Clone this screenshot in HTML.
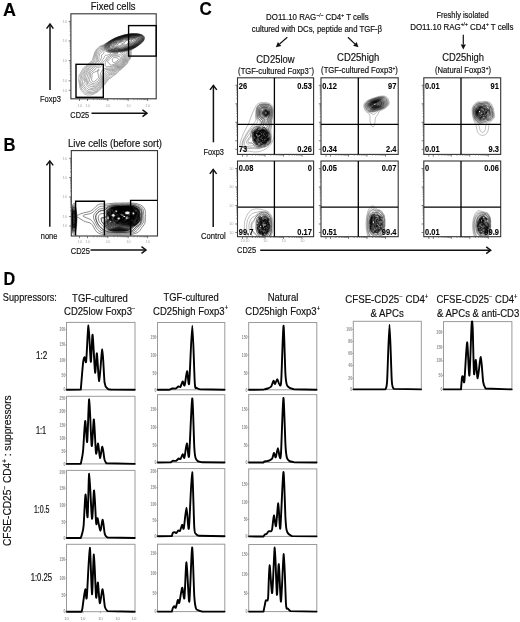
<!DOCTYPE html>
<html><head><meta charset="utf-8"><style>
html,body{margin:0;padding:0;background:#fff;}
svg{display:block;will-change:transform;}
text{font-family:"Liberation Sans",sans-serif;white-space:pre;}
</style></head><body>
<svg width="520" height="622" viewBox="0 0 520 622" font-family="Liberation Sans, sans-serif">
<rect width="520" height="622" fill="#fff"/>
<g transform="translate(3.00,15.60) scale(1.0000,1)" font-weight="bold" fill="#000" stroke="#000" stroke-width="0.12" ><text x="0.00" y="0" font-size="18.00">A</text></g>
<g transform="translate(3.40,150.50) scale(0.9231,1)" font-weight="bold" fill="#000" stroke="#000" stroke-width="0.12" ><text x="0.00" y="0" font-size="18.00">B</text></g>
<g transform="translate(199.60,15.40) scale(0.9462,1)" font-weight="bold" fill="#000" stroke="#000" stroke-width="0.12" ><text x="0.00" y="0" font-size="18.00">C</text></g>
<g transform="translate(3.40,284.60) scale(0.9000,1)" font-weight="bold" fill="#000" stroke="#000" stroke-width="0.12" ><text x="0.00" y="0" font-size="18.00">D</text></g>
<g transform="translate(90.80,10.30) scale(0.8603,1)" font-weight="normal" fill="#111" stroke="#111" stroke-width="0.18" ><text x="0.00" y="0" font-size="11.00">Fixed cells</text></g>
<line x1="50" y1="90" x2="50" y2="24.200000000000003" stroke="#111" stroke-width="1.5"/>
<polyline points="46.6,28.6 50,24.1 53.4,28.6" fill="none" stroke="#111" stroke-width="1.5" stroke-linejoin="miter"/>
<g transform="translate(40.00,101.80) scale(0.7954,1)" font-weight="normal" fill="#111" stroke="#111" stroke-width="0.18" ><text x="0.00" y="0" font-size="9.50">Foxp3</text></g>
<g transform="translate(70.30,117.60) scale(0.8036,1)" font-weight="normal" fill="#111" stroke="#111" stroke-width="0.18" ><text x="0.00" y="0" font-size="9.20">CD25</text></g>
<line x1="91.5" y1="113.2" x2="146.9" y2="113.2" stroke="#111" stroke-width="1.5"/>
<polyline points="142.5,109.8 147.0,113.2 142.5,116.60000000000001" fill="none" stroke="#111" stroke-width="1.5"/>
<g transform="translate(68.00,147.30) scale(0.8706,1)" font-weight="normal" fill="#111" stroke="#111" stroke-width="0.18" ><text x="0.00" y="0" font-size="11.00">Live cells (before sort)</text></g>
<line x1="49.8" y1="226.7" x2="49.8" y2="161.0" stroke="#111" stroke-width="1.5"/>
<polyline points="46.4,165.4 49.8,160.9 53.199999999999996,165.4" fill="none" stroke="#111" stroke-width="1.5" stroke-linejoin="miter"/>
<g transform="translate(40.80,238.60) scale(0.7856,1)" font-weight="normal" fill="#111" stroke="#111" stroke-width="0.18" ><text x="0.00" y="0" font-size="9.50">none</text></g>
<g transform="translate(70.80,253.60) scale(0.8163,1)" font-weight="normal" fill="#111" stroke="#111" stroke-width="0.18" ><text x="0.00" y="0" font-size="9.20">CD25</text></g>
<line x1="90.5" y1="250.0" x2="145.9" y2="250.0" stroke="#111" stroke-width="1.5"/>
<polyline points="141.5,246.6 146.0,250.0 141.5,253.4" fill="none" stroke="#111" stroke-width="1.5"/>
<g transform="translate(266.10,20.30) scale(0.9376,1)" font-weight="normal" fill="#111" stroke="#111" stroke-width="0.18" ><text x="0.00" y="0" font-size="8.40">DO11.10 RAG</text><text x="53.53" y="-3.19" font-size="5.21">−/−</text><text x="61.06" y="0" font-size="8.40"> CD4</text><text x="80.20" y="-3.19" font-size="5.21">+</text><text x="83.24" y="0" font-size="8.40"> T cells</text></g>
<g transform="translate(251.80,31.70) scale(0.9256,1)" font-weight="normal" fill="#111" stroke="#111" stroke-width="0.18" ><text x="0.00" y="0" font-size="8.40">cultured with DCs, peptide and TGF-β</text></g>
<line x1="287.3" y1="37.3" x2="279.57" y2="44.02" stroke="#111" stroke-width="1.2"/>
<polygon points="275.80,47.30 277.87,42.06 281.28,45.98" fill="#111"/>
<line x1="347.9" y1="37.3" x2="354.86" y2="43.87" stroke="#111" stroke-width="1.2"/>
<polygon points="358.50,47.30 353.08,45.76 356.65,41.98" fill="#111"/>
<g transform="translate(256.30,62.50) scale(0.8429,1)" font-weight="normal" fill="#111" stroke="#111" stroke-width="0.18" ><text x="0.00" y="0" font-size="11.20">CD25low</text></g>
<g transform="translate(238.10,73.70) scale(0.8860,1)" font-weight="normal" fill="#111" stroke="#111" stroke-width="0.18" ><text x="0.00" y="0" font-size="8.60">(TGF-cultured Foxp3</text><text x="79.80" y="-3.27" font-size="5.33">−</text><text x="82.92" y="0" font-size="8.60">)</text></g>
<g transform="translate(337.00,60.80) scale(0.8513,1)" font-weight="normal" fill="#111" stroke="#111" stroke-width="0.18" ><text x="0.00" y="0" font-size="11.20">CD25high</text></g>
<g transform="translate(321.10,73.40) scale(0.8953,1)" font-weight="normal" fill="#111" stroke="#111" stroke-width="0.18" ><text x="0.00" y="0" font-size="8.60">(TGF-cultured Foxp3</text><text x="79.80" y="-3.27" font-size="5.33">+</text><text x="82.92" y="0" font-size="8.60">)</text></g>
<g transform="translate(436.40,18.30) scale(0.8908,1)" font-weight="normal" fill="#111" stroke="#111" stroke-width="0.18" ><text x="0.00" y="0" font-size="8.40">Freshly isolated</text></g>
<g transform="translate(410.20,29.50) scale(0.9440,1)" font-weight="normal" fill="#111" stroke="#111" stroke-width="0.18" ><text x="0.00" y="0" font-size="8.40">DO11.10 RAG</text><text x="53.53" y="-3.19" font-size="5.21">+/+</text><text x="61.06" y="0" font-size="8.40"> CD4</text><text x="80.20" y="-3.19" font-size="5.21">+</text><text x="83.24" y="0" font-size="8.40"> T cells</text></g>
<line x1="463.3" y1="34.8" x2="463.30" y2="44.40" stroke="#111" stroke-width="1.2"/>
<polygon points="463.30,49.40 460.70,44.40 465.90,44.40" fill="#111"/>
<g transform="translate(442.20,60.90) scale(0.8392,1)" font-weight="normal" fill="#111" stroke="#111" stroke-width="0.18" ><text x="0.00" y="0" font-size="11.20">CD25high</text></g>
<g transform="translate(435.00,73.30) scale(0.8910,1)" font-weight="normal" fill="#111" stroke="#111" stroke-width="0.18" ><text x="0.00" y="0" font-size="8.60">(Natural Foxp3</text><text x="56.87" y="-3.27" font-size="5.33">+</text><text x="59.99" y="0" font-size="8.60">)</text></g>
<line x1="213.4" y1="142.3" x2="213.4" y2="85.5" stroke="#111" stroke-width="1.5"/>
<polyline points="210.0,89.9 213.4,85.4 216.8,89.9" fill="none" stroke="#111" stroke-width="1.5" stroke-linejoin="miter"/>
<g transform="translate(203.40,155.20) scale(0.8018,1)" font-weight="normal" fill="#111" stroke="#111" stroke-width="0.18" ><text x="0.00" y="0" font-size="9.20">Foxp3</text></g>
<line x1="213.2" y1="226.9" x2="213.2" y2="169.5" stroke="#111" stroke-width="1.5"/>
<polyline points="209.79999999999998,173.9 213.2,169.4 216.6,173.9" fill="none" stroke="#111" stroke-width="1.5" stroke-linejoin="miter"/>
<g transform="translate(201.10,238.50) scale(0.8295,1)" font-weight="normal" fill="#111" stroke="#111" stroke-width="0.18" ><text x="0.00" y="0" font-size="9.20">Control</text></g>
<g transform="translate(237.10,253.30) scale(0.7906,1)" font-weight="normal" fill="#111" stroke="#111" stroke-width="0.18" ><text x="0.00" y="0" font-size="9.40">CD25</text></g>
<line x1="260.2" y1="250.2" x2="490.59999999999997" y2="250.2" stroke="#111" stroke-width="1.5"/>
<polyline points="486.2,246.79999999999998 490.7,250.2 486.2,253.6" fill="none" stroke="#111" stroke-width="1.5"/>
<g transform="translate(2.80,301.20) scale(0.8199,1)" font-weight="normal" fill="#111" stroke="#111" stroke-width="0.18" ><text x="0.00" y="0" font-size="11.20">Suppressors:</text></g>
<g transform="translate(72.10,301.60) scale(0.8613,1)" font-weight="normal" fill="#111" stroke="#111" stroke-width="0.18" ><text x="0.00" y="0" font-size="11.00">TGF-cultured</text></g>
<g transform="translate(64.00,315.00) scale(0.8694,1)" font-weight="normal" fill="#111" stroke="#111" stroke-width="0.18" ><text x="0.00" y="0" font-size="11.00">CD25low Foxp3</text><text x="78.25" y="-4.18" font-size="6.82">−</text></g>
<g transform="translate(163.50,300.80) scale(0.8551,1)" font-weight="normal" fill="#111" stroke="#111" stroke-width="0.18" ><text x="0.00" y="0" font-size="11.00">TGF-cultured</text></g>
<g transform="translate(153.10,314.60) scale(0.8679,1)" font-weight="normal" fill="#111" stroke="#111" stroke-width="0.18" ><text x="0.00" y="0" font-size="11.00">CD25high Foxp3</text><text x="82.54" y="-4.18" font-size="6.82">+</text></g>
<g transform="translate(267.70,300.80) scale(0.8658,1)" font-weight="normal" fill="#111" stroke="#111" stroke-width="0.18" ><text x="0.00" y="0" font-size="11.00">Natural</text></g>
<g transform="translate(245.30,315.10) scale(0.8656,1)" font-weight="normal" fill="#111" stroke="#111" stroke-width="0.18" ><text x="0.00" y="0" font-size="11.00">CD25high Foxp3</text><text x="82.54" y="-4.18" font-size="6.82">+</text></g>
<g transform="translate(345.20,303.10) scale(0.8837,1)" font-weight="normal" fill="#111" stroke="#111" stroke-width="0.18" ><text x="0.00" y="0" font-size="11.00">CFSE-CD25</text><text x="61.12" y="-4.18" font-size="6.82">−</text><text x="65.11" y="0" font-size="11.00"> CD4</text><text x="90.17" y="-4.18" font-size="6.82">+</text></g>
<g transform="translate(370.50,317.30) scale(0.8785,1)" font-weight="normal" fill="#111" stroke="#111" stroke-width="0.18" ><text x="0.00" y="0" font-size="11.00">&amp; APCs</text></g>
<g transform="translate(436.50,303.10) scale(0.8593,1)" font-weight="normal" fill="#111" stroke="#111" stroke-width="0.18" ><text x="0.00" y="0" font-size="11.00">CFSE-CD25</text><text x="61.12" y="-4.18" font-size="6.82">−</text><text x="65.11" y="0" font-size="11.00"> CD4</text><text x="90.17" y="-4.18" font-size="6.82">+</text></g>
<g transform="translate(437.00,317.30) scale(0.8685,1)" font-weight="normal" fill="#111" stroke="#111" stroke-width="0.18" ><text x="0.00" y="0" font-size="11.00">&amp; APCs &amp; anti-CD3</text></g>
<g transform="translate(36.00,358.80) scale(0.8129,1)" font-weight="normal" fill="#111" stroke="#111" stroke-width="0.18" ><text x="0.00" y="0" font-size="10.00">1:2</text></g>
<g transform="translate(36.00,433.60) scale(0.7338,1)" font-weight="normal" fill="#111" stroke="#111" stroke-width="0.18" ><text x="0.00" y="0" font-size="10.00">1:1</text></g>
<g transform="translate(33.90,513.40) scale(0.7015,1)" font-weight="normal" fill="#111" stroke="#111" stroke-width="0.18" ><text x="0.00" y="0" font-size="10.00">1:0.5</text></g>
<g transform="translate(30.70,581.10) scale(0.7698,1)" font-weight="normal" fill="#111" stroke="#111" stroke-width="0.18" ><text x="0.00" y="0" font-size="10.00">1:0.25</text></g>
<g transform="translate(11.3,546) rotate(-90)"><g transform="translate(0.00,0.00) scale(0.9232,1)" font-weight="normal" fill="#111" stroke="#111" stroke-width="0.18" ><text x="0.00" y="0" font-size="11.00">CFSE-CD25</text><text x="61.12" y="-4.18" font-size="6.82">−</text><text x="65.11" y="0" font-size="11.00"> CD4</text><text x="90.17" y="-4.18" font-size="6.82">+</text><text x="94.15" y="0" font-size="11.00"> : suppressors</text></g></g>
<clipPath id="cA"><rect x="70.9" y="13.8" width="85.29999999999998" height="85.0"/></clipPath>
<path d="M91.4 94.9l-1 0.1-1.5-0.1-1.7 0.1-2-0.7-1.3-0.7-1-1.4-1.7-1.8-0.6-1.1-0.7-1.7-0.5-3.6-0.5-2.4-0.2-2 0.3-3.6 0.4-1.2 1.2-1.8 1.7-3.2 0.6-1 2.9-3 4.8-3.8 1.5-1.7 0.6-1.3 2-6.7 1-1.7 0.9-1.4 2-1.9 1-0.9 4-1.6 8.3-5.2 3-1.5 2.7-1.1 5.8-1.9 4.5-1 3.3-0.4 5.4-0.1 2 0.3 2.3 0.5 2 0.9 0.7 0.5 0.9 1.2 0.1 1.3-0.5 1.7-1.2 1.8-1.5 1.4-2.5 2-2.5 1.7-4 2.4-1.1 1-0.2 0.7 0.3 2 0 0.8-1 4.2-0.5 1.3-1.6 2-0.7 1.7-0.5 0.8-5.5 5.2-2.9 2-1.4 1.8-1.4 1.4-3 2-1.7 1.6-1.9 1-0.6 0.5-4 5.3-1.8 1.8-1.5 1.9-1.5 1.3-1.5 1.7-1 0.7-3.5 2-2.5 0.9z" fill="none" stroke="#000" stroke-width="0.5" stroke-opacity="0.60" clip-path="url(#cA)"/>
<path d="M92.4 93.6l-1.5 0.1-2.5-0.5-1.8 0.1-0.7-0.1-0.7-0.4-1.3-1.4-1.7-1.5-1.5-3.1-0.4-3-0.4-2 0-1.5 0.6-2-0.3-2.3 0.3-1 2.1-3.2 0.9-2 0.5-0.8 2.5-2.7 4.4-3.5 2.4-2.5 0.3-0.7 0.7-3 1-3.6 0.8-1.7 0.8-1.3 3.3-3 3.2-1.6 2.2-1.6 6-3.9 3.3-1.7 2.5-1 6-2 4.8-1 2.7-0.4 2.3-0.1 3.2 0.1 1.8 0.1 2.4 0.6 1.3 0.5 1.4 0.8 0.8 1.2 0.2 1.3-0.5 1.7-0.9 1.6-1.7 1.6-2.6 2-2.4 1.7-4.6 2.7-0.8 0.4-0.4 0.6-0.1 0.7 0.2 2.5-0.6 4-0.5 1-1.7 2-0.9 2-0.6 0.8-3 3.2-1.6 1.3-1.2 1-2.3 1.2-2.2 2.7-0.7 0.8-3 1.6-1.7 1.6-1.6 0.9-0.7 0.6-1.6 2.3-5.2 6.5-2.1 1.7-1.4 1.8-0.7 0.5-2.1 1-1.5 0.8-1.2 0.5z" fill="none" stroke="#000" stroke-width="0.5" stroke-opacity="0.61" clip-path="url(#cA)"/>
<path d="M91.6 92.6l-1.7-0.1-3-0.5-0.7-0.3-0.8-0.7-1.8-2.2-1.8-2-0.4-1-0.2-2.2-0.3-2 0.1-0.8 0.6-1.4 0.2-0.6-0.3-2.8 0.3-1 2.2-3.4 0.9-1.8 2.1-2.8 0.8-0.7 5.8-4.7 1.1-1.3 0.3-0.7 0.1-2.3 0.6-2.7 1.1-2.8 0.8-1.2 1.6-1.3 1.7-1.9 2.5-1.5 2-1.6 3.2-2.3 3.3-2.1 3.3-1.7 3.2-1.3 5.8-1.8 3.7-0.7 4-0.5 4.7 0 2 0.3 2.6 0.6 1.8 1 0.4 0.5 0.4 0.7 0.2 1.3-0.4 1.7-1 1.6-1.5 1.4-4.2 3.2-6.3 3.6-1.1 1-0.2 0.8 0.3 1.7-0.1 2.7-0.1 1-0.2 0.8-0.5 0.8-1.3 1.5-1.6 2.7-2.3 2.8-1.2 1.2-1.4 1.1-3.3 1.7-1.7 2.1-1.4 1.3-4 2-2.1 1.8-1.2 1.4-1.2 1.8-4.8 6.5-0.8 0.7-1.5 1.2-1.5 1.7-0.8 0.5-3.4 1.7-1.6 0.3z" fill="none" stroke="#000" stroke-width="0.5" stroke-opacity="0.62" clip-path="url(#cA)"/>
<path d="M90.9 91.1l-1 0.2-0.7 0-1.3-0.3-1-0.4-0.7-0.7-1.2-1.9-1.8-1.4-0.5-0.8-0.3-1 0-2 0.1-1 0.5-1.8-0.2-3.2 0.1-0.8 1.4-3 1.6-2.7 2-2.8 1-0.9 5-4 2.2-2.3 0.4-1-0.2-2.3 0.3-2 0.3-1 1.3-2.3 1.7-1.7 1.5-2 2.2-1.7 2.3-2.1 2.9-2.2 2.8-1.8 3.3-1.7 2.5-1.1 6-2 4.8-1 3.2-0.4 5.2 0.1 1.6 0.1 2 0.5 1.4 0.6 1.3 0.7 0.3 0.6 0.4 1 0.1 1.4-0.6 1.6-1.2 1.4-2.7 2.4-2.8 2-6.3 3.4-1.7 1.2-0.2 0.6 0.4 2.2 0.2 2.5-0.2 1-0.4 0.7-1.2 1.6-1.6 2.4-1.4 2-1.3 1.6-1.3 1.1-1 0.7-3 1.4-1.5 1.8-1 0.9-2.6 1.5-3 1.6-1 0.7-2.1 2.5-5 7.4-1 1.1-1.8 1.3-1.7 1.7-1.1 0.6-2.2 0.8-2.5 0.4z" fill="none" stroke="#000" stroke-width="0.5" stroke-opacity="0.63" clip-path="url(#cA)"/>
<path d="M90.4 89.6l-1.2 0.1-1-0.3-1.8-1.8-1.8-1.6-0.6-0.7-0.2-0.7 0.1-1 0.6-2-0.4-3.6 0-1.2 0.2-0.8 1-2.4 1.7-3 1.8-2.6 2.7-2.4 2.7-2 2.5-2.3 0.6-0.7 0.4-1-0.2-1.8 0-1 0.6-2.2 0.4-1.3 0.7-0.9 1.4-1.4 1.4-2.4 1.9-1.9 1.4-1.7 3.9-3 2.7-1.8 2.5-1.3 3.8-1.7 5.7-1.8 4-0.8 3.5-0.5 5.2 0.1 3 0.5 1.8 0.7 1.1 0.6 0.4 0.6 0.4 1 0.1 1.4-0.2 0.8-0.5 1-1.3 1.5-2.5 2.1-3.3 2.3-7.4 3.9-1 0.7-0.2 0.5 0.6 1.5 0.2 1.5 0.1 1.5-0.2 0.7-2.4 4-2 2.8-1.1 1.4-2 1.6-3.3 1.4-1.3 1.6-0.7 0.7-2.5 1.2-1.8 1.1-2.2 1-0.8 0.5-2.9 3.5-1.8 3.2-2.1 3.3-0.6 0.6-1.6 1.1-2.2 2.1-0.8 0.5-1 0.4-4.2 0.6z" fill="none" stroke="#000" stroke-width="0.5" stroke-opacity="0.64" clip-path="url(#cA)"/>
<path d="M92.2 88.3l-1.3 0.1-1.2-0.4-2.9-2.2-0.7-0.8-0.1-0.7 0.2-1.3 0-0.7-0.7-2-0.3-1.3 0.1-1.4 0.4-1.6 0.7-2 1.2-2.3 0.8-1.4 1-1.3 2.7-2.7 2.7-2 2.6-2.3 0.9-1 0.7-1.7 0-2.5 0.6-2.8 0.8-1 1.2-0.7 0.5-0.5 0.4-2 0.2-0.8 3-4 3.5-2.8 2.7-1.8 2.7-1.5 3.8-1.7 2.5-0.6 3.3-1.1 4-0.8 3.4-0.5 5 0.1 2 0.3 1 0.3 1.8 0.7 1 0.7 0.3 0.5 0.4 1 0 1.5-0.6 1.5-1.3 1.5-2.8 2.3-3 2.1-2.8 1.4-5.6 2.7-1 0.8-0.1 0.4 0.5 1.6 0.3 1.2 0 1-0.1 1-1.8 3.8-1.7 2.4-1.3 1.6-1.2 1-0.9 0.7-3.3 1.4-1.3 1.6-0.7 0.6-3 1-1.8 1-2 0.6-0.5 0.3-0.5 0.5-1.1 1.7-1.6 1.8-0.7 1.2-0.9 2.3-2.1 3.3-2 1.4-1.4 1.6-0.9 0.6-1 0.5-2.7 0.6z" fill="none" stroke="#000" stroke-width="0.5" stroke-opacity="0.65" clip-path="url(#cA)"/>
<path d="M92.9 86.6l-1 0.1-0.7-0.2-2.6-1-0.5-0.5-0.5-0.6-0.3-2.1-0.8-2-0.1-1 0.2-1 0.7-1.7 0.5-2.3 0.9-2 1.8-2.7 2.9-3 4.4-2.8 2.7-3.8 0.5-1 0.5-1.4 0.1-2.6 1.6-1.2 0.7-1.2 0.1-0.8-0.4-2 0.2-1 1.5-2.8 1-1.2 3.1-2.6 2.8-1.8 2.2-1.2 4-1.8 2.2-0.6 3.3-1.1 4.7-1 3-0.3 1.6-0.1 3.7 0.2 1.7 0.3 2 0.7 1.4 0.8 0.6 0.7 0.2 0.8 0 1.5-0.6 1.5-1.6 1.7-3 2.5-2.7 1.8-3.7 1.9-4.9 2.1-2.1 1.2 0 0.6 0.7 1 0.4 1 0.1 1.4-0.1 1.3-0.5 1.5-0.7 1.5-1.1 1.7-1.1 1.3-2.4 2.3-0.9 0.4-2 0.7-0.6 0.3-1.6 1.7-0.8 0.6-4.7 1.4-2.3 0.4-0.7 0.3-0.3 0.4-0.8 2-1.4 1.4-0.5 0.8-1.3 3.6-2 3.2-2 1.5-2 1.8-1 0.4-1.7 0.1z" fill="none" stroke="#000" stroke-width="0.5" stroke-opacity="0.66" clip-path="url(#cA)"/>
<path d="M94.6 85.1l-2-0.1-3-1-0.4-0.2-0.6-0.7-0.7-2.1-0.1-1 0.1-0.7 1.1-2.5 0.4-3.2 0.4-1 0.6-0.8 4.2-4.7 1.8-0.9 1-0.3 1.3-0.1 0.8-0.5 0.7-2 1.6-2 1.1-2 1.1-1.3 0.5-1.7 0.4-0.6 0.5-0.4 1.8-0.1 1.2-0.5 1.5-0.4 0.5-0.3 0.5-0.4 0.1-0.3-0.3-0.3-3.5-1-1.3-0.6-0.7-0.5-0.6-0.6-0.2-1 0.2-1 1.1-2.3 0.9-1.2 2.8-2.4 3-2 2.2-1.2 4-1.8 2.3-0.5 3.3-1.2 4.2-0.8 4.8-0.4 3.7 0.2 1.7 0.2 2 0.8 1.3 0.8 0.5 0.8 0.2 1 0 0.7-0.3 1-0.4 0.8-0.8 1-2.5 2.2-4.2 2.9-5.2 2.5-5.6 2.2-1.2 0.7 0 0.5 1.1 1 0.5 0.8 0.3 1 0.1 1.2-0.3 1.2-0.8 2-0.7 1.3-0.9 1-2.9 2.7-3.2 1.4-2.2 1.8-0.8 0.4-1.3 0.4-2.7 0.5-3 0-1.1 0.5-0.5 0.8-0.7 1.8-1.5 2.4-0.9 3.8-1.8 3-0.7 0.8-1.5 1-1.3 1.1-1 0.4z" fill="none" stroke="#000" stroke-width="0.5" stroke-opacity="0.67" clip-path="url(#cA)"/>
<path d="M93.6 83.6l-1.2-0.2-1.4-0.8-1.1-0.8-0.5-1 0.1-1.2 0.9-2.6 0.1-3 0.2-0.7 0.5-0.6 1-1 2.3-1.7 1.3-1.7 0.6-0.5 1-0.5 2.8-0.2 0.7-0.4 0.4-0.7 0.1-1.4 0.3-0.8 2.2-2.7 2-1.5 0.3-0.6 0.3-1.2 0.7-0.7 5.2-3 2.2-0.3 2.3 0.1 0.5-0.2 0.6-0.4 0.1-0.3-0.5-0.1-0.7 0-2.3 0.2-4.7-0.9-2.7-1-1.3-0.6-0.5-0.6-0.2-0.4-0.1-1 0.8-2.3 1.1-1.5 2.4-2.2 3-2 2-1.1 4-1.9 2.5-0.6 3-1.1 4.5-0.8 3.5-0.4 1.3-0.1 3.7 0.2 1.7 0.3 1.6 0.6 1.3 0.9 0.5 0.7 0.3 1 0 1-0.4 1-1.3 1.7-3 2.5-3 2.1-2 1-4.4 2-6.3 2.2-1.3 0.8-0.1 0.2 0 0.2 1.8 1.3 0.6 0.7 0.3 0.8 0.1 0.8-0.2 1.2-0.8 2.2-0.6 1-1.1 1.2-2.4 2.1-2 0.9-4.3 2.4-1.5 0.4-5.2 0.4-1 0.2-0.8 0.5-1.4 1.7-1.3 2.2-0.5 2-0.2 2.8-1.8 3-0.6 0.6-1.4 0.8-1.3 1-1.3 0.4z" fill="none" stroke="#000" stroke-width="0.5" stroke-opacity="0.68" clip-path="url(#cA)"/>
<path d="M116.4 52.3l-2.5 0.1-4-0.7-3-1.1-0.7-0.6-0.4-0.7-0.2-0.7 0.2-1 0.4-1.3 0.7-1 2.3-2.3 3.7-2.5 2-1.2 3.3-1.4 1.2-0.4 1.8-0.4 2.2-0.9 4.2-0.8 4-0.6 1.3 0 3.5 0.2 2.2 0.3 1 0.4 1.1 0.6 0.9 0.9 0.4 1.1 0 1-0.4 1-0.6 1-1 1-2.4 2-3 2.1-5.2 2.5-4.2 1.6-5 1.5-3.8 0.3z M107.4 66.8l-1 0-0.9-0.5-0.4-1 0-1.3 0.2-1.4 0.3-0.8 1.3-1.8 0.9-1.4 0.6-0.7 1.5-0.9 1.7-1.4 1.3-0.5 1.7-0.1 2.6 0.1 2.4-0.3 1.1 0.2 0.9 0.8 0.3 0.5 0.1 0.7-0.5 2-1.1 2-1.2 1.3-4.4 2.7-2.2 1-1.7 0.5-2 0.1-1.5 0.2z M94.2 81.6l-0.8 0.2-0.8-0.3-0.6-0.7-0.3-0.8-0.1-1.2 0.4-1.8 0-2.2 0.3-1 0.5-0.8 0.7-0.4 3.9-1.7 0.2-0.1 0.1-0.8 0.3-0.4 0.4-0.3 0.5 0.1 0.3 0.2 0.1 0.2-0.1 0.4-0.4 0.4-1 0.4-0.1 0.3 0.8 5.3-0.1 1-0.5 0.9-0.7 0.8-3 2.3z" fill="none" stroke="#000" stroke-width="0.5" stroke-opacity="0.69" clip-path="url(#cA)"/>
<path d="M118.2 51.8l-2.3 0.2-2.5-0.1-3.2-0.5-2.6-0.9-0.9-0.7-0.5-1 0-1.2 0.4-1.3 0.8-1.3 1.7-1.7 3.8-2.7 2.3-1.2 3.2-1.4 2.7-0.7 2.8-1 4.5-0.9 3.5-0.4 1.3-0.1 3.4 0.3 2 0.3 1.7 0.8 1 1 0.4 1 0 1-0.4 1-0.6 1-1 1-2.3 2-3 2.1-5 2.3-4 1.5-4.8 1.3-2.4 0.3z M111.9 65.1l-1 0-0.7-0.3-1.5-1.8-1-1-0.1-0.4 0.2-0.6 0.8-1.3 1.8-1.4 1.7-1.5 1.3-0.6 1.8-0.2 3 0.3 1 0.2 0.7 0.3 0.4 0.8 0 1-0.7 1.7-0.7 1-4.3 2.7-2.7 1.1z" fill="none" stroke="#000" stroke-width="0.5" stroke-opacity="0.70" clip-path="url(#cA)"/>
<path d="M117.6 51.6l-1.7 0.1-2.7-0.1-3.3-0.6-2.2-1-0.8-0.7-0.3-1 0.2-1.3 0.5-1.2 0.7-1 1.4-1.5 1.8-1.1 1.4-1.2 1.8-1 4-1.9 2.6-0.5 2.9-1.2 4.5-0.8 3.5-0.5 1.3 0 3.4 0.3 2 0.3 1.5 0.9 0.9 1 0.3 0.7 0 1-0.3 1-0.6 1-1 1-2.2 1.9-3 2.1-5 2.3-4 1.5-4.6 1.1-3 0.4z M114.6 62.6l-0.4 0.1-0.7-0.1-0.4-0.3-0.3-0.5-0.6-1.8 0.1-0.7 0.4-0.7 0.9-0.8 1.3-0.3 2.2 0.3 0.8 0.3 0.4 0.5 0.1 0.4-0.1 0.8-0.3 0.5-2.6 1.9-0.8 0.4z" fill="none" stroke="#000" stroke-width="0.5" stroke-opacity="0.71" clip-path="url(#cA)"/>
<path d="M117.6 51.3l-4.4 0-3.3-0.6-1.8-0.9-0.8-0.8-0.1-1 0.2-1.4 0.6-1.3 1.5-1.7 1.7-1.1 1.4-1.3 2-1.2 4-1.8 2.3-0.4 3.3-1.3 3.2-0.6 5.5-0.6 3.5 0.3 2 0.3 1.3 0.7 0.9 1 0.3 0.7 0.1 1-0.3 1-0.6 1-2.9 2.7-3 2.1-5 2.3-4 1.5-4.3 1-3.3 0.4z" fill="none" stroke="#000" stroke-width="0.5" stroke-opacity="0.72" clip-path="url(#cA)"/>
<path d="M117.4 51.1l-4 0-3-0.6-0.8-0.3-1.2-0.6-0.5-0.6-0.2-0.4 0-1 0.3-1.6 1.1-1.7 0.8-0.7 1.5-1 1.2-1.1 1.8-1.1 4.2-1.9 2.3-0.5 3.3-1.3 3-0.5 4.7-0.7 1 0 3.3 0.3 2 0.3 1 0.5 0.9 1 0.4 1 0.1 0.7-0.1 0.7-0.6 1-0.7 0.9-2 1.8-3.3 2.3-4.7 2.2-4 1.5-4.3 1-3.5 0.4z" fill="none" stroke="#000" stroke-width="0.5" stroke-opacity="0.72" clip-path="url(#cA)"/>
<path d="M119.9 50.6l-2.7 0.2-3.8 0-3.5-0.8-1.1-0.7-0.6-0.7 0-1 0.3-1.8 0.6-1 0.6-0.8 1.7-1 1.5-1.5 2-1.2 3.7-1.6 2.3-0.5 3.3-1.3 3-0.6 5.4-0.6 3.6 0.3 1.7 0.3 1 0.4 0.6 0.6 0.6 1.3 0.1 0.7-0.1 0.7-0.4 0.8-1 1.2-1.8 1.7-1.5 1.1-2.5 1.5-6 2.6-4.5 1.2-2.5 0.5z" fill="none" stroke="#000" stroke-width="0.5" stroke-opacity="0.73" clip-path="url(#cA)"/>
<path d="M119.9 50.3l-6.3 0.2-3.2-0.7-1-0.6-0.6-0.6-0.2-1 0.2-1.6 0.5-1 0.6-0.7 1.5-1 1.5-1.5 2-1.2 3.7-1.7 2.6-0.6 3-1.1 3-0.6 5.4-0.7 3.6 0.4 1.4 0.3 1 0.4 0.5 0.6 0.6 1.7 0 0.7-0.4 0.8-0.5 0.8-1.6 1.5-2 1.6-2.6 1.5-6 2.6-4 1.1-2.7 0.4z" fill="none" stroke="#000" stroke-width="0.5" stroke-opacity="0.74" clip-path="url(#cA)"/>
<path d="M119.9 50.1l-6.3 0.1-3-0.8-0.9-0.6-0.5-0.7-0.2-1.1 0.1-1 1.1-1.5 1.4-1 1.5-1.5 2.1-1.3 3.2-1.5 2.8-0.6 3.2-1.3 2.8-0.5 3.2-0.5 2-0.1 4.8 0.6 0.8 0.2 0.6 0.6 0.6 1.7 0 0.7-0.3 0.8-0.5 0.8-1.2 1.2-2 1.6-2.6 1.6-6.2 2.6-3.8 1-2.7 0.5z" fill="none" stroke="#000" stroke-width="0.5" stroke-opacity="0.75" clip-path="url(#cA)"/>
<path d="M115.4 49.8l-1.8 0-2.7-0.8-0.7-0.4-0.4-0.6-0.4-0.7 0-0.7 0.3-0.8 0.8-1 1.4-1.1 1.3-1.3 4.4-2.6 1.6-0.5 2-0.4 3.4-1.4 2.3-0.4 3.7-0.6 2 0 3.8 0.5 1.2 0.4 0.7 0.6 0.4 1.8-0.1 0.8-0.4 0.7-2 2-3.3 2.2-3 1.5-2.3 0.8-1.2 0.6-3.2 0.8-3 0.6-4.8 0z" fill="none" stroke="#000" stroke-width="0.5" stroke-opacity="0.76" clip-path="url(#cA)"/>
<path d="M120.9 49.4l-1.3 0.1-3.4-0.2-2.6 0.2-2.7-1-0.7-0.9-0.3-1 0.2-0.6 0.8-1 1.5-1.2 1-1.1 3-1.7 1.2-0.9 1.3-0.5 2.3-0.4 3.4-1.4 5.6-1 2 0 3.4 0.4 1.6 0.5 0.5 0.3 0.3 0.8 0.2 0.8 0 0.7-0.2 0.5-1.4 1.7-1.9 1.5-2.1 1.4-2.7 1.3-2.3 0.8-1.2 0.6-5.5 1.3z" fill="none" stroke="#000" stroke-width="0.5" stroke-opacity="0.77" clip-path="url(#cA)"/>
<path d="M120.6 49.1l-1 0.1-3.4-0.3-1.8 0.2-0.8 0-2.3-1.1-0.4-0.7 0-0.7 0.7-1.6 1.3-1 0.7-1 2.8-1.5 1.4-1.2 0.8-0.4 2.8-0.4 3.2-1.4 5.6-1 2.2 0 3 0.5 1.5 0.5 0.5 0.6 0.2 0.6 0.1 0.7-0.2 0.8-0.5 0.8-1.4 1.4-2.6 1.8-3.4 1.6-2.2 0.8-1.2 0.7-5.6 1.2z" fill="none" stroke="#000" stroke-width="0.5" stroke-opacity="0.78" clip-path="url(#cA)"/>
<path d="M120.2 48.8l-0.8 0.1-2.8-0.4-2.2 0.2-0.8-0.1-1.5-1.3-0.2-1 0.2-0.7 0.3-0.5 1.1-0.8 0.7-1.1 2.4-1.3 1.4-1.3 0.6-0.3 2.8-0.4 3.5-1.4 5-1.1 2.7 0.1 1.6 0.1 1 0.3 1.2 0.7 0.5 0.5 0.2 0.5 0 0.7-0.8 1.5-1.7 1.5-2 1.3-3.4 1.7-1.8 0.5-1.5 0.8-4 0.6-1.7 0.6z" fill="none" stroke="#000" stroke-width="0.5" stroke-opacity="0.79" clip-path="url(#cA)"/>
<path d="M120.2 48.4l-1 0-2-0.4-2.3 0.2-0.7 0-0.6-0.3-0.7-0.9-0.2-0.7 0.1-0.5 1.3-1.2 0.5-1.1 2.3-1.3 1.3-1.3 0.4-0.2 1.3 0 1.8-0.4 3.2-1.4 5-1.1 3 0.1 1.3 0.1 0.8 0.3 0.9 0.6 0.5 0.7 0.1 0.4 0 0.6-0.7 1.2-1.6 1.3-2.3 1.4-1.7 0.6-1.7 0.9-1.3 0.5-1.3 0.6-1.5 0.3-2.5 0.3-1.7 0.7z" fill="none" stroke="#000" stroke-width="0.5" stroke-opacity="0.80" clip-path="url(#cA)"/>
<path d="M119.9 47.8l-0.7 0.1-1.8-0.6-2 0.4-0.8 0-0.4-0.3-0.6-0.5-0.1-0.3 0-0.6 1.1-1.2 0.7-1 1.9-1.2 1-1 0.4-0.2 1 0 1.6-0.5 2-0.3 1.1-0.8 0.6-0.3 1.5-0.2 3.2-1 1-0.1 2.3 0.1 1.3 0.3 0.9 0.4 0.7 0.8 0.1 0.5-0.1 0.5-0.7 1-0.9 0.7-1.6 0.8-1.2 0.9-2.2 0.4-1.2 1-2.1 0.8-1.5 0.3-1.2 0-1.6 0.3-1.7 0.8z" fill="none" stroke="#000" stroke-width="0.5" stroke-opacity="0.81" clip-path="url(#cA)"/>
<path d="M119.6 46.9l-0.7 0.1-1.7-0.5-2 0.3-0.5-0.2-0.1-0.6 1.2-1.7 1.6-1 1-1.1 1.2-0.2 1.3-0.4 1-0.2 0.5 0.1 1 0.5 0.5-0.3 0.7-1.1 0.4-0.3 4.4-1.4 1.2-0.2 2.6 0.3 1 0.4 0.7 0.6 0 0.8-0.4 0.8-3.3 2.1-0.8 0.1-1.8 0-0.4 0.3-1.3 1-1.3 0.6-1 0.2-1.2-0.3-1 0.3-1.2 0.1-1.6 0.9z" fill="none" stroke="#000" stroke-width="0.5" stroke-opacity="0.82" clip-path="url(#cA)"/>
<path d="M125.6 44.8l-0.7 0.2-0.5-0.1-0.8-0.6-0.1-0.3 0.4-0.4 0.7-1.4 1.6-1.5 3-1.1 1.2-0.2 2.2 0.3 0.6 0.1 0.4 0.5 0.1 0.5-0.3 0.5-2 1.5-1 0.3-2.2 0-1.6 1.2-1 0.5z M119.4 45.9l-0.5 0-0.4-0.1-0.8-0.8-0.1-0.2 0.6-1.2 0.4-0.7 1.6-0.3 0.7 0.1 1.3 0.5 0.8 0.8 0 0.3-0.6 0.4-1.5 0.3-1.5 0.9z M117.2 45.1l-0.6 0.2 0-0.3 0.3-0.1 0.3 0.2z" fill="none" stroke="#000" stroke-width="0.5" stroke-opacity="0.83" clip-path="url(#cA)"/>
<path d="M130.6 42.1l-1 0-0.2-0.3 1-1 0.5-0.2 0.7-0.1 0.5 0.3-0.1 0.5-0.4 0.3-1 0.5z" fill="none" stroke="#000" stroke-width="0.5" stroke-opacity="0.84" clip-path="url(#cA)"/>
<clipPath id="cB"><rect x="71.3" y="150.6" width="86.2" height="85.20000000000002"/></clipPath>
<path d="M71.3 214.8l0.4-4.4 0.5-3.3 0.7-2.5 0.4-0.8 0.5-0.4 0.5 0 0.3 0.2 0.4 0.9 0.4 1.1 0.7 3.2 0.7 5.2 0.5 1.6 0.3 0.2 1.3-1.2 2.1-0.9 3-0.9 5.3-1.2 1.9-0.8 1.8-1.2 2.8-3 1.2-1.1 1.3-0.8 1.5-0.6 1.8-0.2 4.2 0.3 1.8-0.3 7-0.8 6.2 0 2-0.2 1.8 0.1 4.4-0.1 6.3 0.5 2 0.4 3.3 1.1 2.2 1.5 1.8 2.2 0.7 2.5 0 2 0.2 1.7-0.1 1.8-0.1 3-0.2 2.8-0.2 0.7-0.9 1.7-2 2.6-2.2 3.2-1.5 1.5-2.3 1.2-3 0.9-3.4 0.6-6.6 0.4-10.7-0.1-8.5-0.6-2-0.3-1.8-0.4-2.2-1.1-1.6-1.3-1.2-1.8-2.4-4.4-0.8-0.9-0.7-0.7-1.5-0.8-3.8-1-1.8-0.7-5.2-3.2-1.2-1-0.3 0.2-0.3 1.2-0.5 8.3-0.8 4.8-0.5 1.7-0.4 0.9-0.5 0.6-0.5 0-0.5-0.4-0.4-0.8-0.7-2.6-0.6-3.4-0.3-4.6" fill="none" stroke="#000" stroke-width="0.6" stroke-opacity="0.75" clip-path="url(#cB)"/>
<path d="M122.8 234.1l-8.5 0-5-0.3-5.5-0.8-1.8-0.4-1.4-0.6-1.8-1.1-1.5-1.5-1.2-1.8-2.5-4.7-1-1.4-1-1-1.3-1-1.3-0.6-5-2.1-0.7-0.4-0.1-0.6 0.6-0.6 1.2-0.5 5-1 2-0.8 1.8-1.3 3.5-3.5 1-0.7 1.3-0.7 1.4-0.4 3.3-0.2 2.3-0.4 5.2-1.3 4-0.4 3 0.1 3.8-0.3 2 0.1 4.2-0.1 4.8 0.4 3 0.5 2.2 0.9 2.8 1.5 0.5 0.5 0.6 0.8 0.8 2.2 0.1 3.5 0.3 1.3-0.1 1.7 0.1 2.3-0.2 2-0.1 0.6-2 3.1-2.4 2.7-2.2 2.8-1 0.8-1.2 0.8-2 0.7-2.8 0.7-3.2 0.3-4 0.2z M74.3 233.1l-0.5 0.1-0.5-0.5-0.5-1.2-0.4-1.7-0.7-5-0.2-5.7 0.1-5.3 0.6-4.7 0.4-2 0.4-1.3 0.6-0.8 0.4-0.2 0.6 0.3 0.2 0.5 0.8 2.5 0.6 3.5 0.5 5.2-0.3 6.6-0.5 4.7-0.7 3.5-0.4 0.9-0.5 0.6z" fill="none" stroke="#000" stroke-width="0.6" stroke-opacity="0.75" clip-path="url(#cB)"/>
<path d="M125 233.1l-9 0.1-5.7-0.3-2.7-0.4-2.3-0.5-2-0.7-1.7-0.8-1.6-1.1-1.6-1.8-1.5-2.2-1.4-2.8-1.5-3.2-0.5-2 0-1.6 0.5-1.2 1.1-1.5 1.7-2 1.2-1.1 1.3-0.8 2.3-0.7 3.7-0.7 3-1.5 2.3-0.8 1.7-0.3 3-0.4 2 0 1.7 0.1 3.6-0.3 2 0.1 1.4-0.1 3 0 4.6 0.4 1 0.2 3.4 1.1 1.3 0.9 1.3 0.6 0.8 0.8 0.4 0.8 0.7 3.7-0.1 6-0.6 3-0.8 1.7-1.4 1.9-2.5 1.9-2.1 2.5-1.4 1.1-1.6 0.7-2 0.6-2.4 0.4-2.6 0.2z M74 231.9l-0.4-0.3-0.5-0.8-0.7-2.7-0.5-4-0.2-5.5 0.2-4.8 0.5-4.2 0.4-1.6 0.4-1.2 0.4-0.4 0.4-0.3 0.4 0.3 0.4 0.5 0.7 2.5 0.7 4.7 0.1 3.5-0.1 5.5-0.5 4.5-0.7 3-0.4 0.9-0.6 0.4z" fill="none" stroke="#000" stroke-width="0.6" stroke-opacity="0.76" clip-path="url(#cB)"/>
<path d="M126 232.4l-3.2 0.1-5.2 0.1-6.3-0.3-2.3-0.3-2.2-0.6-2-0.7-1.5-0.8-2-1.5-2-2.2-1.4-1.8-1.1-2.3-0.9-2.5-0.4-2 0.1-1.8 0.8-1.7 1.4-1.8 1.8-1.3 1.4-0.5 3.3-0.5 0.5-0.3 1-0.9 2.8-1.9 2-0.7 4-0.8 2.7-0.1 1.7 0.1 3.6-0.3 2 0.2 5.4-0.1 3.8 0.3 4.2 1.6 2 1.3 0.8 0.7 0.3 0.7 0.1 1.3 0.4 1.5 0.1 3.2-0.4 4.8-0.2 0.8-0.6 1.7-1.7 2.1-2.8 1.9-2.2 2.5-1.2 1-1.3 0.6-1.5 0.5-3.8 0.7z M74.3 230.7l-0.5 0.1-0.4-0.4-0.4-0.8-0.3-1.5-0.6-3.7-0.2-4.8 0.1-4.2 0.5-4.6 0.7-2.7 0.4-0.7 0.4-0.3 0.6 0.5 0.2 0.4 0.6 2.1 0.5 3.7 0.2 3.8-0.1 5-0.3 3.8-0.7 2.9-0.3 0.8-0.4 0.6z" fill="none" stroke="#000" stroke-width="0.6" stroke-opacity="0.76" clip-path="url(#cB)"/>
<path d="M123.8 232.4l-8.2 0-5-0.4-2-0.3-2-0.6-1.8-0.7-1.3-0.8-2.1-1.8-2.1-2.2-1.4-2-1-2-0.8-2.5-0.2-2 0.3-1.7 0.8-1.6 1-1.2 1.3-1 1.7-0.7 3.3-0.5 0.7-0.4 1.1-1.2 2.5-1.7 2-0.7 4.2-1 4.2 0.1 3.3-0.2 2.5 0.1 4.8-0.1 3.4 0.2 1 0.2 3.6 1.3 2.2 1.4 0.7 0.7 0.3 0.5 0.6 3.5 0.1 2.7-0.4 4.8-0.1 0.8-0.9 2-1.5 1.7-1.6 1-1.3 1-2.3 2.5-1.4 1-1.4 0.7-1.8 0.5-2.2 0.4-2.8 0.2z M74 230.6l-0.4-0.2-0.3-0.5-0.5-1.3-0.3-1.5-0.4-3.5-0.2-4.8 0.2-4.4 0.5-3.8 0.7-2.5 0.3-0.4 0.4-0.3 0.6 0.4 0.2 0.5 0.6 2.3 0.5 4 0.2 3.5-0.1 4.7-0.5 4-0.7 2.9-0.4 0.7-0.4 0.2z" fill="none" stroke="#000" stroke-width="0.6" stroke-opacity="0.77" clip-path="url(#cB)"/>
<path d="M123.6 231.6l-7 0.1-4.3-0.3-3.5-0.7-1.2-0.4-1.3-0.7-1.2-1-1.8-2.2-2.4-2.3-1-1.3-0.7-1-0.6-1.7-0.4-2 0.2-1.5 0.5-1.2 0.9-1 0.9-0.6 1.3-0.3 1.8 0 0.5-0.2 1.5-1.6 0.8-2.1 2.4-1.8 2.8-1 3-0.7 5.8 0 2-0.2 2.2 0 4.8-0.1 1.7 0.3 1.7 0 1.3 0.3 4.3 2 0.5 0.4 0.5 0.8 0.3 0.8 0 1.2 0.5 1.5 0.2 2.3-0.2 1.4 0.1 1.6-0.1 2-0.3 1-1.1 1.4-1.2 1.4-2 1.5-1.4 0.9-2.6 2.6-1 0.8-1.3 0.6-1.7 0.5-2 0.3-2.2 0.2z M74.3 229.1l-0.3 0.2-0.2-0.1-0.2-0.2-0.4-0.9-0.4-1.3-0.4-3.2-0.2-4 0.1-4 0.4-3.8 0.6-2.3 0.3-0.5 0.4-0.3 0.3 0.2 0.4 0.7 0.6 2 0.4 3.2 0.1 3 0 4-0.4 3.6-0.5 2.4-0.6 1.3z M106.8 214.4l0.2-0.3 0-0.3-0.2-0.2-0.8-0.1-0.3 0.3 0 0.3 0.3 0.3 0.8 0z" fill="none" stroke="#000" stroke-width="0.6" stroke-opacity="0.77" clip-path="url(#cB)"/>
<path d="M123.3 231.1l-6.3 0.1-3.7-0.2-3-0.5-2.3-0.9-0.7-0.5-0.7-0.7-2-3.2-2.9-3.4-0.3-0.7-0.4-2.3 0-0.4 0.3-0.6 0.3-0.2 0.4-0.2 1.6 0.2 1.4-0.2 0.6-0.3 0.4-0.7 0.5-1.6 0.5-0.2 0.4-0.5-0.2-0.5-0.6-0.5 0.3-2.3 0.4-1 2.5-1.6 1.8-0.8 1-0.3 2.4-0.5 2.3-0.2 3.3 0.1 2.2-0.3 2.2 0.1 4.8-0.1 1.5 0.3 1.7 0 0.8 0.2 4.5 2.1 0.5 0.5 0.3 0.5 0.2 1.8 0.5 1.8 0.1 2-0.1 1.4 0.2 2-0.1 1.6-0.3 0.7-2.3 2.7-1.7 1.4-2 1.2-3.8 3.2-1.2 0.6-1.6 0.4-3.7 0.5z M74.3 228.1l-0.3 0.2-0.2-0.1-0.2-0.3-0.6-1.4-0.4-3.1-0.2-3.8 0-3.8 0.4-3.1 0.5-2.1 0.3-0.5 0.2-0.3 0.2-0.1 0.6 0.6 0.5 1.8 0.4 3 0.2 2.7-0.1 3.6-0.3 3.2-0.5 2.5-0.5 1z M107.6 218.6l0-0.5-0.3 0-0.2 0.3-0.1 0.2 0.3 0.2 0.3 0 0-0.2z" fill="none" stroke="#000" stroke-width="0.6" stroke-opacity="0.77" clip-path="url(#cB)"/>
<path d="M122.6 231.1l-5.6 0-3.2-0.1-2.8-0.4-2.2-0.7-1.2-0.7-0.9-0.8-2.1-3.4-2.5-2.9-0.3-0.5-0.1-0.8 0-2.4 0.2-0.3 0.4-0.1 1.3 0 1.7-0.5 0.5-0.4 0.3-0.5 0.3-1.5 0.2-0.3 0.4-0.2 0.4-0.5-0.2-0.5-0.5-0.5 0.2-2 0.4-1.2 2.5-1.7 2-0.9 3.2-0.7 2.3-0.2 3.3 0.1 2.2-0.3 2.2 0.1 4.3-0.1 2 0.3 1.7 0.1 1 0.2 4.3 2 0.5 0.5 0.2 0.5 0.3 1.8 0.5 1.8 0 3.4 0.2 2-0.1 1.6-0.3 0.7-2.4 2.7-1.6 1.4-2.1 1.2-1.3 1-1.5 1.4-1 0.8-1.4 0.6-1.5 0.5-2 0.3-2.2 0.1z M74 228.2l-0.4-0.4-0.3-0.5-0.5-1.9-0.3-3-0.1-3.6 0.1-3.2 0.3-3 0.5-1.9 0.3-0.5 0.2-0.3 0.2-0.1 0.3 0.2 0.3 0.6 0.6 2 0.3 3 0.1 3-0.1 3.5-0.3 3.3-0.5 2-0.4 0.6-0.3 0.2z M107.6 218.8l0.2-0.7-0.5 0-0.3 0.3 0 0.2 0.3 0.3 0.3-0.1z" fill="none" stroke="#000" stroke-width="0.6" stroke-opacity="0.78" clip-path="url(#cB)"/>
<path d="M122.8 230.9l-7 0-3.8-0.4-1.7-0.4-1.3-0.5-1.1-0.8-0.7-0.7-2.3-3.7-0.6-1.3-0.2-0.7 0.1-0.6 0.7-1.7 0.9-1.2 1-3.3 0.6-1.2 0.1-0.6-0.4-0.7 0-1.3 0.1-1 0.4-0.6 2.6-1.8 1.6-0.9 1.8-0.4 4-0.5 3 0 2.2-0.2 2.2 0.1 4.3-0.1 2 0.3 1.7 0.1 0.8 0.1 4.2 2.1 0.5 0.4 0.3 0.4 0.2 1.8 0.4 1.5 0.3 5.5-0.1 1.8-0.2 0.4-1.3 1.8-1.1 1.1-1.7 1.4-1.7 0.7-1.8 1.3-1.5 1.5-1 0.8-1 0.5-1.5 0.5-2 0.3-2 0.2z M74 227.7l-0.2-0.1-0.3-0.5-0.6-2-0.3-3-0.1-3.3 0.1-3.2 0.4-3 0.6-1.9 0.2-0.3 0.2-0.1 0.6 0.6 0.4 1.7 0.4 3 0.2 3-0.2 3.5-0.3 3-0.5 2-0.6 0.6z M107.9 219.1l0.3-0.3 0.1-0.7-0.3-0.3-0.4 0-0.7 0.3-0.2 0.5 0.1 0.2 0.5 0.3 0.6 0z" fill="none" stroke="#000" stroke-width="0.6" stroke-opacity="0.78" clip-path="url(#cB)"/>
<path d="M122 230.6l-6.2 0-3.5-0.3-2.5-0.8-1.1-0.7-0.7-0.7-2.2-3.7-0.4-1.8 0.4-1.8 1-1.4 1.5-0.2 0.4-0.6-0.1-0.5-0.3-0.3-1.5-0.2 0.8-2.5 0.1-1-0.2-2.5 0.4-1 2.4-2 1.5-0.8 1.5-0.5 4.3-0.5 3.2 0 2-0.2 2.2 0.1 2.8-0.2 2 0.1 1.5 0.3 2.3 0.2 4.4 2.2 0.5 0.8 0.6 3 0.3 5.5-0.3 2-1.4 2-0.7 0.8-2 1.5-1.7 0.7-1.9 1.2-2.1 2-1 0.7-1 0.4-1.5 0.3-3.8 0.4z M74 227l-0.2-0.1-0.2-0.4-0.6-1.6-0.3-2.8-0.1-3.3 0.1-3.2 0.3-2.5 0.6-1.6 0.2-0.4 0.2-0.1 0.6 0.7 0.4 1.9 0.3 2.2 0.1 2.8-0.1 3.2-0.3 2.5-0.4 2-0.6 0.7z" fill="none" stroke="#000" stroke-width="0.6" stroke-opacity="0.79" clip-path="url(#cB)"/>
<path d="M120.3 230.6l-5.5-0.1-3.2-0.4-1.3-0.4-1.1-0.6-0.9-0.7-0.5-0.8-1.9-3.2-0.2-0.8-0.2-1.2 0.4-1.6 0.9-1.4 1.5-0.2 0.4-0.6-0.1-0.5-0.3-0.3-1.5-0.2 0.2-0.9 0.7-1.6-0.1-3.5 0.2-0.7 0.2-0.4 2.6-2 1.2-0.7 1-0.3 4.5-0.7 3.5 0.1 1.8-0.3 2.4 0.1 4.3-0.1 2 0.3 2 0.2 4.7 2.3 0.4 0.7 0.7 3 0.2 5.5-0.2 2-1.6 2.2-2.5 2.1-1.7 0.7-2 1.2-2 1.9-1.3 0.8-1.4 0.5-1.8 0.4-4.5 0.2z M74 226.9l-0.2-0.1-0.2-0.3-0.6-1.7-0.3-2.7-0.1-3.3 0.1-3 0.3-2.6 0.6-1.7 0.2-0.3 0.2-0.1 0.6 0.6 0.4 2 0.3 2.1 0.1 2.8-0.1 3.2-0.3 2.4-0.4 2-0.6 0.7z" fill="none" stroke="#000" stroke-width="0.6" stroke-opacity="0.79" clip-path="url(#cB)"/>
<path d="M124.6 230.1l-2.8 0.2-4 0-2.8 0-2-0.3-1.7-0.4-1.2-0.5-1-0.7-0.6-0.8-1.8-3.2-0.3-1 0-1.3 0.3-1.5 0.5-1 1.4-0.4 0.3-0.6-0.1-0.5-0.2-0.3-1.3-0.4 0.8-1.8-0.1-2 0.1-2 0.2-0.5 2.5-2.5 1-0.6 1.2-0.4 2-0.1 2.3-0.5 3.5 0 2-0.2 2.5 0.1 3.5-0.2 4.8 0.7 1.2 0.8 2.7 1.2 0.5 0.4 0.7 3.3 0.3 5.5-0.2 1.8-1.2 2-0.8 0.9-2 1.5-1.8 0.6-2.1 1.2-2.1 1.9-0.8 0.6-1.4 0.6-2 0.4z M74 226.1l-0.2-0.1-0.2-0.4-0.6-1.9-0.2-2.5-0.1-2.4 0.1-2.3 0.2-2.3 0.6-1.9 0.2-0.3 0.2-0.1 0.3 0.2 0.3 0.5 0.3 1.5 0.3 2 0.1 2.5-0.1 3-0.3 2.2-0.3 1.6-0.3 0.5-0.3 0.2z" fill="none" stroke="#000" stroke-width="0.6" stroke-opacity="0.79" clip-path="url(#cB)"/>
<path d="M123.6 229.9l-2.6 0.1-4.2 0-3.8-0.3-1.4-0.4-1-0.5-0.9-0.7-0.7-1-1.7-3.1-0.3-0.9 0-0.7 0.3-1.8 0.3-0.8 1.2-0.7 0.2-0.5-0.2-0.7-0.8-0.5-0.1-0.3 0.6-1.3-0.2-2 0.2-2 1.8-2.4 0.7-0.7 2.3-0.9 1.7-0.1 2.3-0.5 3.5 0 2-0.2 2.8 0.1 3-0.2 4.7 0.8 1.5 0.8 1.5 0.5 1 0.6 0.5 0.5 0.5 2.3 0.2 2 0.1 3.4-0.2 2.3-1.1 2.3-0.5 0.5-2.2 1.7-1.8 0.5-2.4 1.3-2.1 1.8-0.9 0.6-1.6 0.7-2.2 0.4z M136.7 213.1l0-0.3-0.1-0.1-0.3 0.1 0.1 0.3 0.3 0z M74 225l-0.2-0.1-0.2-0.5-0.3-0.9-0.3-1.9-0.1-2.8 0.1-2.7 0.3-1.7 0.3-0.9 0.2-0.4 0.2-0.1 0.3 0.2 0.3 0.5 0.2 1.1 0.3 3.8-0.3 4.4-0.2 1.2-0.3 0.6-0.3 0.2z" fill="none" stroke="#000" stroke-width="0.6" stroke-opacity="0.80" clip-path="url(#cB)"/>
<path d="M123.6 229.9l-2.6 0.1-4.2 0-3.8-0.4-1.4-0.4-1-0.4-0.9-0.7-0.7-1-1.7-3.1-0.3-0.9 0-0.7 0.3-1.8 0.3-0.8 1.2-0.7 0.3-0.5-0.3-0.7-0.8-0.5 0-0.3 0.5-1.3-0.2-2 0.2-2 1.8-2.4 0.7-0.7 2.3-0.9 1.7-0.1 2.3-0.5 3.5 0 2-0.2 2.8 0.1 3-0.2 4.7 0.8 1.5 0.8 1.5 0.5 1 0.6 0.4 0.5 0.5 2.3 0.3 2 0.1 3.4-0.2 2.3-1.1 2.3-0.5 0.5-2.2 1.7-1.8 0.5-2.4 1.3-2.1 1.8-0.9 0.6-1.6 0.7-2.2 0.4z M136.7 213.1l0-0.3-0.4-0.1 0.1 0.4 0.3 0z M74 225l-0.2-0.1-0.2-0.5-0.3-0.9-0.3-1.9-0.1-2.8 0.1-2.7 0.3-1.7 0.3-0.8 0.2-0.5 0.2-0.1 0.3 0.2 0.3 0.6 0.2 1 0.3 3.8-0.3 4.3-0.2 1.2-0.3 0.6-0.3 0.3z" fill="none" stroke="#000" stroke-width="0.6" stroke-opacity="0.80" clip-path="url(#cB)"/>
<path d="M122.3 229.6l-5.7 0-3.3-0.3-1.3-0.4-1-0.5-0.6-0.6-0.7-1-1.9-3.2-0.3-0.8 0-0.4 0.4-1.8 0.4-0.8 0.7-0.7 0.2-0.5-0.2-0.5-0.6-0.7 0.4-1.6-0.2-2 0.2-1.7 0.2-0.5 0.9-1 0.6-1 0.8-0.7 1.7-0.8 2-0.1 2-0.5 3.8-0.1 1.8-0.2 3.2 0.2 2.5-0.3 4.7 0.8 1.6 0.8 1.4 0.5 1 0.6 0.5 0.6 0.2 0.4 0.6 4 0 2.6-0.3 2.4-1 2.6-0.4 0.4-1 0.6-1.2 1-1.6 0.4-2.9 1.3-2.3 2-1 0.6-1.8 0.6-2.5 0.3z M136.7 213.4l0.2-0.3-0.1-0.5-0.5-0.2-0.5 0.2 0.2 0.8 0.7 0z M112.2 215.4l0-0.8-0.2-0.2-0.2 0-0.4 0.2-0.1 0.5 0.2 0.3 0.3 0.1 0.4-0.1z M74 223.2l-0.2-0.1-0.3-0.7-0.2-1.8-0.1-2 0.1-1.6 0.3-1.6 0.2-0.6 0.2-0.2 0.3 0.3 0.3 0.8 0.2 2.9-0.2 3.3-0.3 1-0.3 0.3z" fill="none" stroke="#000" stroke-width="0.6" stroke-opacity="0.81" clip-path="url(#cB)"/>
<path d="M123 229.4l-5.4 0.1-3.3-0.2-1.3-0.3-1.1-0.4-0.8-0.5-0.5-0.6-2.7-4.1-0.2-0.8 0.4-1.8 1.1-2.2-0.1-0.5-0.5-0.7 0.3-1.6-0.1-1.7 0.1-1.5 0.3-1 0.8-0.9 0.8-1.3 0.8-0.6 1.7-0.6 1.5-0.1 2.5-0.6 3.5 0 1.8-0.2 3.2 0.2 2-0.3 1 0 4 0.8 1.8 0.9 1.4 0.5 0.9 0.4 0.4 0.6 0.2 0.4 0.6 4.6 0 2.4-0.2 1.8-0.7 2-0.4 0.8-2.5 1.8-1.5 0.4-3.2 1.5-2.2 1.7-1.1 0.8-1.5 0.5-1.8 0.3z M136.9 213.4l0.1-0.6-0.2-0.3-0.8-0.1-0.4 0.2 0 0.2 0.2 0.6 0.5 0.1 0.6-0.1z M112.2 215.6l0.2-0.2 0-0.8-0.1-0.2-0.7 0-0.4 0.4 0.1 0.5 0.4 0.3 0.5 0z M74 221.2l-0.2-0.4-0.2-2.4 0.2-2 0.2-0.3 0.3 0.4 0.2 1.9-0.2 2.2-0.3 0.6z" fill="none" stroke="#000" stroke-width="0.6" stroke-opacity="0.81" clip-path="url(#cB)"/>
<path d="M123.3 229.1l-3.5 0.2-3.2 0-2-0.2-1.3-0.3-1-0.4-0.7-0.4-0.6-0.6-2.7-4-0.3-0.8 0.2-1 1.1-3-0.1-0.5-0.4-0.7 0.3-1.6 0-3.2 0.2-0.8 0.9-1 0.7-1.2 0.7-0.6 1.4-0.6 1.8-0.1 2.5-0.6 5.3-0.3 3.4 0.2 1.8-0.3 1 0.1 3.5 0.6 1 0.4 1.3 0.7 1.2 0.4 0.8 0.3 0.5 0.6 0.2 0.4 0.6 4.3-0.2 4.5-0.9 2.5-0.5 0.5-1 0.6-1 0.8-1.5 0.4-3.4 1.4-3.3 2.6-1.3 0.4-1.5 0.3z M136.3 213.6l0.7-0.2 0.2-0.3 0-0.3-0.6-0.5-0.8 0.1-0.3 0.2 0 0.5 0.3 0.3 0.5 0.2z M112.5 215.6l0.2-0.8-0.2-0.4-0.7-0.2-0.6 0.4-0.1 0.5 0.4 0.5 0.5 0.1 0.5-0.1z" fill="none" stroke="#000" stroke-width="0.6" stroke-opacity="0.81" clip-path="url(#cB)"/>
<path d="M121.8 228.9l-5.5 0-1.7-0.3-1.3-0.3-0.8-0.5-0.8-0.7-2.9-4.1-0.2-0.4 0-0.5 0.6-1.7 0.2-1.8-0.3-1 0.3-1.5 0.1-3.7 0.2-0.6 1-1 0.6-1.2 0.7-0.5 0.8-0.3 2-0.3 2.2-0.6 5.6-0.3 3.4 0.2 2.3-0.3 4 0.7 2.3 1.2 1.2 0.5 0.8 0.4 0.3 0.5 0.1 1.3-0.2 0.1-1 0.1-0.4 0.3-0.1 0.2 0.2 0.6 0.3 0.2 0.8 0.1 0.4-0.2 0.3 0.1 0.3 1.2-0.1 2.6-0.2 2.4-0.4 1.6-0.3 0.6-1.6 0.9-1 0.9-1.2 0.3-1.5 0.7-2.3 0.8-3.7 2.5-1.5 0.5-2 0.3z M112.4 215.8l0.5-0.2 0.2-0.2 0-0.8-0.2-0.2-0.6-0.3-0.5 0-0.6 0.3-0.3 0.4 0.2 0.6 0.7 0.4 0.6 0z" fill="none" stroke="#000" stroke-width="0.6" stroke-opacity="0.82" clip-path="url(#cB)"/>
<path d="M121.6 228.9l-5.6-0.1-1.7-0.2-1.3-0.5-0.7-0.5-0.7-0.8-2.8-4-0.1-0.7 0.6-2 0.1-1.5-0.2-1 0.2-1.5 0.1-3.7 0.3-0.6 0.9-1 0.6-1.2 0.7-0.5 0.8-0.3 2-0.3 2.2-0.6 5.6-0.3 3.4 0.2 2.3-0.3 4 0.8 2.3 1.2 1.4 0.5 0.6 0.3 0.3 0.5 0.1 1.3-0.2 0.1-1 0.1-0.4 0.3-0.1 0.2 0.2 0.6 0.3 0.2 1.4 0 0.3 1.2 0 2.6-0.2 2.4-0.5 1.6-0.2 0.5-1.6 1-1 0.9-1.3 0.3-1.4 0.7-2.4 0.8-3.7 2.5-1.6 0.5-2 0.3z M112.4 215.8l0.5-0.2 0.2-0.2 0.1-0.6-0.1-0.2-0.2-0.2-0.6-0.3-0.5 0-0.6 0.3-0.3 0.4 0.1 0.6 0.8 0.4 0.6 0z" fill="none" stroke="#000" stroke-width="0.6" stroke-opacity="0.82" clip-path="url(#cB)"/>
<path d="M121.6 228.4l-5 0-1.6-0.2-0.9-0.4-0.8-0.4-1.7-1.8-1.6-2.2-0.3-0.8 0.1-2.5-0.3-2.5 0.4-3.5 0.1-1.5 0.1-0.5 1.1-1.3 0.4-1 0.6-0.4 0.6-0.3 2-0.3 2.2-0.7 5.6-0.3 1.7 0.1 1.7 0.2 2.3-0.3 3.7 0.7 1.6 0.7 2.1 1.4 0.3 0.2 0.3 1-1 0.7-0.1 0.6 0.4 0.5 1.3 0.2 0.2 1.8 0 1.5-0.2 1.5 0 1.5-0.3 1-0.3 0.5-1.3 0.8-1.2 1-1.2 0.4-1.6 0.7-2.7 0.9-4 2.3-1.3 0.4-1.4 0.3z M112.8 215.8l0.4-0.2 0.3-0.5-0.1-0.5-0.2-0.2-0.6-0.3-0.8-0.1-0.5 0.1-0.5 0.5-0.1 0.5 0.6 0.6 0.7 0.3 0.8-0.2z" fill="none" stroke="#000" stroke-width="0.6" stroke-opacity="0.83" clip-path="url(#cB)"/>
<path d="M122.6 228.1l-2 0.2-2.8 0-1.8-0.1-1.2-0.2-1.3-0.6-2.2-2.3-1-1.5-0.4-1 0-2.5-0.4-2.3 0.5-3.7 0-1.4 0.3-0.6 0.8-1 0.6-1.3 0.6-0.4 0.7-0.3 1.8-0.3 2.2-0.6 5.3-0.3 2 0 1.7 0.2 2.6-0.3 3.2 0.6 1.8 0.8 2.1 1.6 0.5 1-0.6 0.4-0.4 0.4 0.1 0.8 0.5 0.3 1 0.1 0.1 0.3 0.1 2.3-0.2 2.2 0 1.2-0.4 1.6-0.4 0.4-1.1 0.6-1.1 1-1.2 0.3-1.6 0.8-2.4 0.7-1.8 0.8-2.5 1.6-1.7 0.5z M112.9 215.8l0.5-0.4 0.1-0.6-0.3-0.4-0.4-0.3-1.2-0.1-0.6 0.3-0.3 0.3 0 0.5 0.6 0.7 0.7 0.2 0.9-0.2z" fill="none" stroke="#000" stroke-width="0.6" stroke-opacity="0.83" clip-path="url(#cB)"/>
<path d="M120.8 227.9l-4-0.1-1-0.1-0.9-0.3-0.9-0.6-2-1.7-1.1-1.5-0.2-0.8-0.1-1.7-0.8-3 0.3-2.5 0.2-0.5 1 0.7 1 0.3 0.8-0.3 0.5-0.4 0.1-0.3-0.1-0.5-0.8-0.6-1-0.1-1.2 0.4-0.1-0.2 0-1 0.1-0.7 1.4-2.4 0.5-0.4 0.5-0.2 2.6-0.5 1.4-0.5 5-0.3 2.3 0 1.7 0.2 1.8-0.2 1 0 2.8 0.5 2 0.9 1.3 1.1 0.8 1.2-0.6 0.8 0 0.2 0.1 0.6 0.4 0.3 0.9 0.4 0.1 2.7-0.3 2 0.2 1.3-0.3 1-0.4 0.4-1 0.5-1.5 1.2-2.5 1.1-3.5 0.9-4.5 2.3-2 0.4z M126.7 212.6l0.3-0.2-0.3-0.3-0.4 0-0.7 0.3-0.1 0.2 0.3 0.2 0.9-0.2z" fill="none" stroke="#000" stroke-width="0.6" stroke-opacity="0.83" clip-path="url(#cB)"/>
<path d="M121.6 227.6l-3.6 0.1-1.4-0.1-1.1-0.2-1-0.6-1.9-1.5-0.8-0.8-0.6-0.9-0.3-0.8-0.2-1.7-0.8-3 0-1 0.3-1.5 0.1-0.2 0.3 0 0.7 0.5 1 0.2 0.8-0.3 0.5-0.3 0.1-0.4-0.1-0.5-0.6-0.5-1-0.2-1.2 0.2-0.2-0.3 0.1-1 0.2-0.7 1.2-2 0.5-0.4 0.4-0.3 2.6-0.4 1.4-0.5 4.8-0.4 2.5 0.1 1.7 0.2 1.8-0.3 1 0 2.8 0.6 2 0.9 1.1 1 0.8 1.2-0.5 1 0.2 0.6 0.4 0.3 0.8 0.4 0.1 3-0.4 1.7 0.3 1.3-0.3 1-1.3 0.8-1.2 1-2.3 1.1-4 1-1.5 0.8-1.2 0.5-1.8 1-1.2 0.3z M127.2 212.8l0.1-0.2-0.1-0.2-0.3-0.3-0.3-0.1-0.8 0.1-0.4 0.5 0.2 0.3 1.6-0.1z" fill="none" stroke="#000" stroke-width="0.6" stroke-opacity="0.84" clip-path="url(#cB)"/>
<path d="M121 227.1l-2.7 0.2-1.6-0.2-0.9-0.3-3-2-0.7-0.7-0.5-0.7-0.3-0.8-0.1-1.5-0.6-1.3-0.3-1.2-0.2-1.2 0.2-1.1 0.3-0.5 1.2 0.3 0.8 0 0.7-0.3 0.5-0.7-0.1-0.5-0.5-0.5-0.9-0.3-1 0-0.3-0.2 0.3-1.8 1-1.4 0.5-0.5 0.5-0.2 2.5-0.5 1.2-0.5 4.8-0.4 2.5 0 1.7 0.3 1.8-0.3 1 0 2.5 0.5 2.3 1 1 1 0.6 1 0.1 0.3-0.3 0.7 0.1 0.6 1 0.7-0.2 1 0.2 2-0.4 1.7 0.4 1.3-0.3 0.7-1.2 0.9-1.3 1-2 1-1.3 0.4-3 0.7-1.2 0.5-1.8 0.5-2 1.1-1 0.2z M127.5 213.6l0.2-0.2 0-0.6-0.5-0.7-0.6-0.3-0.4 0-0.6 0.3-0.3 0.3-0.1 0.4 0.4 0.4 0.7 0.1 0.7 0.4 0.5-0.1z" fill="none" stroke="#000" stroke-width="0.6" stroke-opacity="0.84" clip-path="url(#cB)"/>
<path d="M121.3 226.9l-2.5 0.2-2.5-0.3-3.3-2-1.1-1.2-0.3-0.8-0.3-1.7-0.6-1.3-0.4-1.4-0.1-0.8 0.1-1 0.3-0.7 0.2 0 1 0.3 0.9-0.1 0.9-0.5 0.2-0.5-0.1-0.5-0.5-0.5-0.6-0.3-1.5-0.2 0.2-1.5 0.5-0.9 0.9-1.1 0.9-0.4 2.2-0.4 1.8-0.6 4-0.3 2.7 0 1.7 0.2 2.6-0.2 2.7 0.4 2.3 1.1 0.7 0.7 0.5 0.8 0.4 0.7-0.2 0.7 0 0.5 0.3 0.4 0.6 0.4-0.1 1 0.2 2-0.5 1.7 0.5 1.3-0.2 0.6-1.2 0.8-1.3 1.1-2 1-1.3 0.4-2.9 0.6-1.3 0.6-1.5 0.3-2.3 1.2-0.7 0.2z M127.6 213.6l0.2-0.3 0-0.5-0.2-0.4-0.6-0.5-1-0.1-0.8 0.6 0 0.4 0.4 0.5 1.4 0.5 0.6-0.2z" fill="none" stroke="#000" stroke-width="0.6" stroke-opacity="0.85" clip-path="url(#cB)"/>
<path d="M120.3 226.4l-2 0.1-2-0.5-1.7-1-1.6-1-0.4-0.4-0.4-0.5-0.5-2-0.7-1.3-0.4-1.2-0.2-1 0.1-0.8 0.3-0.6 0.2-0.1 1 0.1 1-0.1 0.7-0.5 0.2-0.5-0.1-0.5-0.5-0.5-0.5-0.3-1.2-0.2-0.1-0.2 0.1-1.3 0.4-0.8 1-1 1-0.5 2-0.2 1-0.5 1-0.3 3.6-0.2 2.7-0.1 1.7 0.3 2.6-0.2 2.4 0.4 2.6 1.2 0.6 0.6 0.8 1.3-0.1 1 0.7 1-0.1 1 0.1 2.3-0.5 1.7 0.4 1-0.1 0.3-2.4 2-1.7 0.9-1.5 0.5-2.8 0.5-1.4 0.5-1.3 0.2-2.7 1.1-1.3 0.3z M127.5 213.8l0.3-0.2 0.2-0.5-0.2-0.7-0.5-0.4-0.5-0.2-0.8 0-0.4 0.1-0.5 0.5-0.1 0.4 0.3 0.6 1.3 0.5 0.9-0.1z M132.3 216.6l0-0.4-0.3-0.1-0.2 0.3 0.1 0.2 0.1 0.1 0.3-0.1z" fill="none" stroke="#000" stroke-width="0.6" stroke-opacity="0.85" clip-path="url(#cB)"/>
<path d="M120.8 226.1l-2 0.2-2.2-0.5-2-1-1.8-1.1-0.5-0.6-0.5-2-0.9-1.7-0.4-1.6 0-0.7 0.3-0.7 0.2-0.2 1.6 0 0.8-0.4 0.5-0.4 0-0.6-0.2-0.4-0.4-0.3-1.5-0.5-0.3-0.2 0.2-1.3 0.4-0.7 1.2-1.2 1-0.4 1.7-0.2 1.2-0.5 0.8-0.2 3.6-0.3 2.7 0 1.7 0.2 2-0.2 2.6 0.3 0.7 0.2 2.3 1.1 0.6 0.6 0.7 1.3 0 1 0.6 1-0.1 1 0.1 2.3-0.5 1.7 0.3 1-0.1 0.3-2.2 1.9-1.7 1-1.7 0.5-2.6 0.4-1.4 0.5-1.3 0.2-3.5 1.2z M127.5 213.8l0.5-0.4 0-0.6-0.2-0.4-0.6-0.6-1.2-0.1-0.4 0.2-0.5 0.5-0.1 0.7 0.6 0.5 1.2 0.4 0.7-0.2z M132.1 216.8l0.2 0 0.1-0.4-0.2-0.3-0.4 0 0 0.5 0.3 0.2z" fill="none" stroke="#000" stroke-width="0.6" stroke-opacity="0.85" clip-path="url(#cB)"/>
<path d="M121 225.4l-1.2 0.1-2-0.2-2-0.5-0.8-0.3-1-0.9-0.9-0.5-0.3-0.3-0.5-1.7-1-1.5-0.5-2 0.2-0.8 0.3-0.4 1.9-0.3 0.6-0.5 0.2-0.5-0.1-0.5-0.4-0.5-1.6-0.7 0.1-1.3 0.3-0.6 1.3-1 0.7-0.4 1.7-0.2 2-0.8 1.8-0.2 4.5-0.1 1.7 0.2 2-0.2 2.8 0.4 2.6 1.2 0.6 0.7 0.7 1.3 0.1 0.7 0.4 1-0.1 1 0 2.5-0.5 1.3-0.2 1.5-0.5 0.7-1.4 1.3-1.5 0.7-2 0.6-2.2 0.2-5.8 1.5z M127 214.1l0.7-0.3 0.3-0.3 0.1-0.7-0.2-0.4-0.5-0.6-0.6-0.2-0.8 0-0.7 0.4-0.4 0.6 0.1 0.8 0.8 0.4 1.2 0.3z M117.5 212.6l0.2-0.5-0.4-0.2-0.5 0.2-0.2 0.3 0.2 0.3 0.2 0.1 0.5-0.2z M132.5 216.8l0.1-0.4-0.3-0.4-0.5-0.2-0.4 0.3 0 0.5 0.2 0.3 0.4 0.2 0.5-0.3z" fill="none" stroke="#000" stroke-width="0.6" stroke-opacity="0.86" clip-path="url(#cB)"/>
<path d="M120.8 225.4l-1 0-2-0.1-2.2-0.6-0.7-0.3-0.9-0.9-0.8-0.4-0.4-0.4-0.4-1.3-1.1-1.9-0.5-1.9 0.2-0.8 0.3-0.4 1.9-0.3 0.6-0.5 0.2-0.5-0.1-0.5-0.3-0.5-1.7-0.7 0-1 0.4-0.9 1.3-1 0.7-0.4 1.7-0.1 2-0.8 1.8-0.3 4.5-0.1 1.7 0.2 2-0.1 2.8 0.3 2.5 1.2 0.7 0.7 0.7 1.3 0.1 0.7 0.4 1-0.1 1 0 2.5-0.6 1.2-0.1 1.6-0.5 0.7-1.5 1.3-1.4 0.7-2 0.5-2.2 0.2-6 1.6z M127.1 214.1l0.6-0.3 0.4-0.4 0-0.8-0.4-0.5-0.4-0.3-0.7-0.2-0.8 0.1-0.7 0.4-0.2 0.5 0.1 0.8 0.8 0.4 1.3 0.3z M117.6 212.6l0.2-0.5-0.5-0.2-0.5 0.2-0.2 0.3 0.1 0.2 0.3 0.2 0.6-0.2z M132.5 216.8l0.1-0.4-0.3-0.4-0.5-0.2-0.4 0.3 0 0.5 0.2 0.3 0.4 0.2 0.5-0.3z" fill="none" stroke="#000" stroke-width="0.6" stroke-opacity="0.86" clip-path="url(#cB)"/>
<path d="M121.3 224.6l-1.3 0-2-0.2-2.2-0.4-0.5-0.2-1.8-1.4-0.5-1-1.2-1.8-0.6-1.8 0.1-0.7 0.3-0.5 1.7-0.5 0.6-0.5 0.2-0.5-0.1-0.5-0.4-0.5-1.4-0.7 0-1 0.4-0.7 1.7-1.3 1.7-0.2 2.3-0.8 1.5-0.3 4.5-0.1 1.7 0.2 1.8-0.2 1.5 0.3 1.5 0.1 2.5 1.2 0.6 0.8 0.6 1.2 0.4 1.2-0.2 3.8-0.5 1.2-0.3 1.6-0.5 0.7-1.6 1.3-1 0.5-2 0.5-2.2 0.1-5.3 1.1z M127.4 214.1l0.6-0.4 0.3-0.6-0.2-0.7-0.5-0.6-0.6-0.2-0.7-0.1-0.7 0.2-0.6 0.4-0.2 0.7 0.3 0.8 1.1 0.5 1.2 0z M117.9 212.8l0.2-0.4-0.1-0.3-0.2-0.3-0.8 0-0.4 0.4-0.1 0.4 0.3 0.3 0.5 0.1 0.6-0.2z M132.3 217.1l0.4-0.5-0.1-0.5-0.6-0.3-0.7 0-0.3 0.6 0.1 0.4 0.5 0.4 0.7-0.1z" fill="none" stroke="#000" stroke-width="0.6" stroke-opacity="0.87" clip-path="url(#cB)"/>
<path d="M122 224.4l-2.2 0.1-2-0.2-2-0.5-0.5-0.2-1.6-1.2-0.5-1-1.4-2-0.5-1.6 0.1-0.7 0.3-0.5 1.6-0.5 0.6-0.5 0.2-0.5-0.1-0.5-0.3-0.5-1.5-0.7 0.1-1 0.3-0.6 1.7-1.4 1.7-0.1 2.3-0.9 1.5-0.2 4.5-0.2 1.7 0.2 1.8-0.1 1.2 0.3 1.8 0.1 2.4 1.1 0.5 0.5 0.8 1.5 0.4 1.2-0.2 3.8-1.1 3.3-1.4 1.2-1.2 0.7-2 0.5-2.4 0.1-4.6 1z M127.5 214.1l0.5-0.4 0.3-0.6-0.2-0.7-0.5-0.6-0.6-0.2-0.7-0.1-0.7 0.2-0.6 0.4-0.3 0.7 0.4 0.8 1 0.5 0.7 0.1 0.7-0.1z M117.9 212.8l0.2-0.4-0.3-0.6-0.8 0-0.4 0.3-0.1 0.5 0.3 0.3 0.5 0.2 0.6-0.3z M132.4 217.1l0.4-0.5-0.2-0.5-0.2-0.3-0.8 0-0.6 0.3 0 0.5 0.3 0.5 0.5 0.1 0.6-0.1z" fill="none" stroke="#000" stroke-width="0.6" stroke-opacity="0.87" clip-path="url(#cB)"/>
<path d="M122.3 223.9l-2.3 0-2-0.1-2.2-0.5-1.3-0.9-0.6-1-1.1-1-1.1-2.3 0-0.7 0.2-0.6 0.3-0.2 1.1-0.4 0.5-0.4 0.4-0.7-0.1-0.5-0.3-0.4-1.3-0.8 0-0.8 0.3-0.8 1.8-1.2 1.7-0.2 2.3-0.9 1.2-0.2 1.8 0.1 2.7-0.2 1.7 0.1 1.8-0.1 1.2 0.4 1.8 0.1 2.2 1 0.6 0.7 0.7 1.3 0.3 1.1-0.2 2.8 0 1-0.9 2.8-0.3 0.4-1.6 1.5-0.8 0.3-2 0.5-2.2-0.1-4.3 0.9z M127.6 214.1l0.6-0.5 0.2-0.5-0.1-0.5-0.6-0.8-0.7-0.3-0.7-0.1-0.7 0.2-0.7 0.5-0.2 0.5 0 0.5 0.6 0.7 1.3 0.4 1-0.1z M117.8 213.1l0.5-0.5-0.1-0.5-0.3-0.3-0.9-0.1-0.5 0.4-0.1 0.3 0.2 0.4 0.4 0.3 0.8 0z M132.5 217.1l0.4-0.5-0.2-0.5-0.2-0.3-0.5-0.1-0.4 0-0.7 0.4-0.1 0.5 0.3 0.5 0.7 0.2 0.7-0.2z" fill="none" stroke="#000" stroke-width="0.6" stroke-opacity="0.88" clip-path="url(#cB)"/>
<path d="M122.3 223.6l-4.5-0.1-2-0.5-1-0.6-0.7-1.3-1-0.7-0.2-0.6-0.2-1-0.7-0.6-0.1-0.6 0.2-0.8 1.7-0.9 0.4-0.8 0-0.5-0.4-0.5-1.2-0.7 0.1-0.8 0.3-0.7 1.6-1.2 1.4-0.1 2.7-1 1.1-0.2 1.8 0.1 2.7-0.2 1.7 0.1 1.8-0.1 1.2 0.4 1.6 0.1 2.4 1.1 0.4 0.5 0.9 1.7 0.2 1-0.3 2.5 0 1.2-0.9 2.6-0.3 0.4-1.4 1.3-0.8 0.4-2 0.4-2.2-0.1-4.3 0.8z M127.7 214.1l0.6-0.5 0.1-0.5-0.1-0.6-0.5-0.7-0.8-0.3-0.7-0.1-0.8 0.2-0.6 0.5-0.3 0.5 0.1 0.5 0.5 0.7 1.4 0.5 1.1-0.2z M117.9 213.1l0.4-0.5 0-0.4-0.3-0.4-0.4-0.1-0.6 0-0.6 0.4 0 0.5 0.2 0.3 0.4 0.2 0.9 0z M132.6 217.1l0.3-0.5-0.1-0.5-0.2-0.3-0.6-0.2-0.4 0-0.6 0.2-0.2 0.3-0.1 0.5 0.3 0.5 0.8 0.2 0.8-0.2z M116 218.8l-0.3-0.4-0.4 0 0 0.2 0.2 0.2 0.5 0z" fill="none" stroke="#000" stroke-width="0.6" stroke-opacity="0.88" clip-path="url(#cB)"/>
<path d="M123 223.4l-1 0-4.4-0.1-2-0.6-0.8-0.6-0.5-1-1.1-1-0.2-1.3-0.7-0.7-0.2-0.5 0.2-0.8 1.5-0.9 0.5-0.8-0.1-0.5-0.3-0.5-1.1-0.7-0.1-0.6 0.4-0.7 0.7-0.7 0.8-0.5 1.4-0.2 2.8-1 1-0.2 1.8 0.1 2.7-0.3 1.7 0.2 1.8-0.1 1.2 0.4 1.6 0.1 2.2 1 0.5 0.5 0.8 1.4 0.3 0.8 0 0.5-0.1 1.5-0.3 1 0 1.2-1 2.8-1.4 1.4-0.8 0.4-2 0.4-2.2-0.2-3.6 0.8z M127.8 214.1l0.5-0.5 0.2-0.8-0.4-0.7-0.5-0.4-0.8-0.3-0.8 0-0.7 0.3-0.5 0.4-0.2 0.5 0 0.5 0.6 0.7 1.4 0.5 1.2-0.2z M117.9 213.1l0.5-0.5-0.1-0.5-0.3-0.3-0.4-0.2-0.6 0.1-0.6 0.4-0.1 0.5 0.5 0.5 0.5 0.1 0.6-0.1z M132.1 217.4l0.5-0.2 0.3-0.4 0.1-0.2-0.2-0.5-0.2-0.3-0.6-0.2-0.4 0-0.6 0.2-0.4 0.6 0.1 0.4 0.6 0.5 0.8 0.1z M116.3 218.8l-0.5-0.5-0.2-0.1-0.4 0.2 0 0.2 0.1 0.2 0.5 0.2 0.5-0.2z" fill="none" stroke="#000" stroke-width="0.6" stroke-opacity="0.88" clip-path="url(#cB)"/>
<path d="M123.8 222.9l-1.5 0.1-2.7-0.2-1.8 0.2-1.8-0.5-0.7-0.5-0.7-1.2-1-1-0.1-1.2-0.7-0.9-0.1-0.3 0.1-0.6 1-0.7 0.5-0.7 0.1-0.6-0.2-0.4-1.1-1 0-0.3 0.4-1 0.7-0.7 0.6-0.3 1.2-0.2 3.6-1.2 2 0.1 3-0.3 1.4 0.2 1.6-0.1 1.4 0.4 1.6 0.1 1.7 0.8 0.6 0.5 1.1 2 0.1 1-0.1 1-0.3 1.2 0 1.5-0.7 1.7-0.4 0.8-1.3 1.2-0.5 0.4-2 0.2-1.8-0.3-3.2 0.8z M127.2 214.4l0.8-0.4 0.5-0.6 0-0.8-0.5-0.7-0.7-0.5-0.7-0.1-1 0.2-0.7 0.3-0.4 0.8 0.1 0.5 0.2 0.5 1 0.6 0.8 0.2 0.6 0z M118.1 213.1l0.2-0.3 0.1-0.4-0.4-0.6-0.4-0.2-0.6 0-0.4 0.2-0.3 0.3-0.1 0.5 0.5 0.5 0.6 0.2 0.8-0.2z M132.3 217.4l0.5-0.3 0.3-0.5-0.1-0.5-0.2-0.3-0.5-0.2-0.7 0-0.7 0.2-0.3 0.3-0.1 0.5 0.3 0.5 0.8 0.3 0.7 0z M116.1 219.1l0.4-0.3 0.1-0.2-0.2-0.2-0.4-0.3-0.7 0-0.2 0.5 0.1 0.2 0.4 0.3 0.5 0z" fill="none" stroke="#000" stroke-width="0.6" stroke-opacity="0.89" clip-path="url(#cB)"/>
<path d="M123.8 222.9l-1.5 0.1-2.7-0.3-1.8 0.3-1.8-0.5-0.7-0.5-0.7-1.2-1-1-0.1-1.2-0.8-1.2 0.1-0.6 1.2-1 0.4-0.7-0.2-0.7-1.1-1 0.3-1 0.6-0.9 0.7-0.4 1.3-0.2 3.6-1.2 2 0.1 2.7-0.3 1.7 0.2 1.6-0.1 1.4 0.4 1.6 0.2 1.7 0.7 0.6 0.5 1.1 2 0.1 1-0.1 1-0.3 1.2-0.1 1.5-0.6 1.7-0.4 0.8-1.3 1.2-0.5 0.3-2 0.3-1.8-0.3-3.2 0.8z M127.2 214.4l0.8-0.4 0.5-0.6 0-0.8-0.5-0.7-0.7-0.5-0.7-0.1-1 0.2-0.7 0.3-0.4 0.8 0.1 0.5 0.2 0.5 1 0.6 0.8 0.2 0.6 0z M118.1 213.1l0.2-0.3 0.2-0.4-0.5-0.6-0.4-0.2-0.6 0-0.4 0.2-0.3 0.3-0.1 0.5 0.5 0.5 0.6 0.2 0.8-0.2z M132.4 217.4l0.4-0.3 0.3-0.5-0.1-0.5-0.2-0.3-0.5-0.2-0.7-0.1-0.7 0.3-0.3 0.3-0.1 0.5 0.3 0.5 0.8 0.3 0.8 0z M116.2 219.1l0.4-0.3-0.1-0.4-0.5-0.3-0.7 0-0.3 0.5 0.2 0.2 0.4 0.3 0.6 0z" fill="none" stroke="#000" stroke-width="0.6" stroke-opacity="0.89" clip-path="url(#cB)"/>
<path d="M123.6 222.6l-1.3 0.1-2.5-0.4-2 0.4-1.7-0.6-0.5-0.3-0.8-1.2-0.8-0.8-0.1-1.4-0.5-1.3 0-0.5 0.7-0.8 0.4-0.7-0.2-0.7-0.8-1 0.3-1 0.3-0.6 0.7-0.4 1-0.2 3.8-1.3 2 0.1 2.7-0.3 3.5 0.1 1.2 0.4 1.8 0.3 1.8 0.8 0.3 0.5 1 2 0 1-0.3 1.1-0.3 0.3-0.8-0.6-0.9-0.1-0.8 0.3-0.3 0.3-0.1 0.5 0.3 0.5 0.9 0.4 0.7-0.1 1-0.4 0.1 0.8-0.1 0.8-0.3 0.8-0.7 0.9-1.1 1.3-0.6 0.4-1.8 0-1.8-0.2-3.4 0.8z M127.5 214.4l0.8-0.5 0.3-0.5 0-0.8-0.6-0.8-0.7-0.4-0.7-0.2-1 0.2-0.8 0.4-0.3 0.6 0 0.4 0.1 0.6 0.4 0.4 1.1 0.6 1.4 0z M118.2 213.1l0.2-0.3 0.1-0.4-0.3-0.6-0.4-0.2-0.8-0.1-0.4 0.2-0.4 0.4 0 0.5 0.4 0.5 0.7 0.2 0.9-0.2z M116.4 219.1l0.3-0.5-0.3-0.5-0.8-0.1-0.4 0.1-0.2 0.3 0.1 0.4 0.3 0.3 0.4 0.1 0.6-0.1z" fill="none" stroke="#000" stroke-width="0.6" stroke-opacity="0.90" clip-path="url(#cB)"/>
<path d="M123.8 222.4l-0.8 0.1-0.7 0-2.3-0.6-2.2 0.6-1.8-0.8-0.4-0.4-1.4-1.7-0.1-1.8-0.3-1.2 0.6-1 0.1-0.5 0-0.5-0.6-1 0.3-1.2 0.3-0.6 5.1-1.8 2 0.2 2.7-0.4 3.5 0.2 1.2 0.4 2 0.3 0.9 0.4 0.6 0.5 1.1 2.2 0.1 0.8-0.4 1.1-0.3 0.1-0.7-0.3-0.7 0-0.8 0.3-0.4 0.6 0.1 0.4 0.5 0.6 1 0.1 1-0.2 0.2 0.3 0 0.8-0.3 0.7-0.9 1-0.8 1.3-0.6 0.3-3.3-0.1-2.7 0.5-0.8 0.3z M127.6 214.4l0.7-0.5 0.3-0.5 0-0.8-0.6-0.8-0.7-0.5-1-0.2-0.7 0.2-0.8 0.5-0.3 0.6-0.1 0.4 0.1 0.6 0.4 0.4 1.1 0.6 0.8 0.1 0.8-0.1z M117.6 213.4l0.6-0.3 0.3-0.3 0.1-0.2-0.1-0.5-0.7-0.6-1 0-0.7 0.6 0 0.5 0.5 0.5 1 0.3z M116.5 219.1l0.3-0.5-0.3-0.5-0.9-0.2-0.5 0.2-0.2 0.3 0.1 0.4 0.3 0.3 0.5 0.2 0.7-0.2z" fill="none" stroke="#000" stroke-width="0.6" stroke-opacity="0.90" clip-path="url(#cB)"/>
<path d="M123.6 222.4l-1.3 0-2.3-0.6-2.2 0.6-1.7-0.8-0.5-0.5-1.3-1.5-0.1-1.8-0.3-1.2 0.7-1.5-0.1-0.5-0.5-1 0.5-1.5 0.3-0.3 4.8-1.7 2 0.1 2.7-0.4 3.5 0.2 1.2 0.5 2 0.3 1.2 0.6 0.4 0.4 1 2 0 0.8-0.3 1-0.3 0.1-1-0.3-0.7 0.1-0.6 0.3-0.3 0.6 0 0.4 0.6 0.6 0.8 0.1 1-0.1 0.2 0 0.1 0.2 0 0.8-0.2 0.4-0.3 0.6-0.8 0.7-0.7 1.3-0.3 0.2-0.5 0.1-3-0.1-2.7 0.4-1 0.4z M127.6 214.4l0.8-0.6 0.3-0.7-0.2-0.7-0.5-0.7-0.7-0.4-1-0.2-0.7 0.2-0.8 0.5-0.3 0.6-0.1 0.4 0.1 0.6 0.4 0.4 0.4 0.3 1 0.3 1.3 0z M117.7 213.4l0.6-0.3 0.3-0.4 0-0.3-0.3-0.6-0.5-0.3-0.5-0.1-0.5 0.1-0.5 0.3-0.2 0.6 0.1 0.4 0.6 0.4 0.9 0.2z M116.5 219.1l0.3-0.5-0.2-0.5-0.6-0.2-0.4 0-0.5 0.2-0.2 0.3 0 0.4 0.4 0.3 0.5 0.2 0.7-0.2z" fill="none" stroke="#000" stroke-width="0.6" stroke-opacity="0.90" clip-path="url(#cB)"/>
<path d="M123.3 222.2l-1.3-0.1-1.7-0.6-0.7 0.1-1.3 0.5-0.5 0-0.6-0.3-1.4-1.1-0.9-0.9-0.3-0.4 0-0.7 0.7 0.5 0.5 0.1 0.8-0.2 0.3-0.5-0.3-0.5-0.6-0.3-0.7 0.1-0.7 0.4-0.3-1.9 0.4-1.3-0.4-1.5 0.7-1.2 0.8-0.6 0.2 0-0.1 0.6 0.5 0.7 0.9 0.3 0.7-0.1 0.3-0.2 0.3-0.5 0-0.5-0.2-0.3-0.6-0.3-1.3-0.1 2.5-1 0.8-0.2 1.5 0.2 3-0.4 1.7 0.2 1.3 0 2 0.5 1.7 0.3 0.8 0.4 0.5 0.4 0.9 2 0.1 0.8-0.4 0.8-1.3 0-0.8 0.3-0.4 0.4-0.1 0.5 0.2 0.5 0.5 0.3 0.8 0.2 0.9 0 0.1 0.8-0.2 0.6-1.4 0.8-0.2 1-0.4 0.5-1.6-0.1-1.4 0.1-1.8 0.4-1.2 0.1-1.3 0.4z M127.8 214.4l0.7-0.6 0.3-0.7-0.2-0.7-0.6-0.8-0.7-0.4-1-0.2-0.7 0.2-0.9 0.6-0.3 0.6-0.1 0.4 0.2 0.6 0.3 0.4 0.8 0.5 0.7 0.2 0.7 0 0.8-0.1z" fill="none" stroke="#000" stroke-width="0.6" stroke-opacity="0.91" clip-path="url(#cB)"/>
<path d="M123.6 221.9l-1.3 0-2-0.6-0.7 0.1-1.3 0.4-0.5 0-0.5-0.2-0.7-0.9-1.6-1.1-0.1-0.2 0.1-0.1 0.8 0.1 0.8-0.2 0.3-0.6-0.1-0.4-0.5-0.4-0.7 0-0.8 0.2-0.1-0.2 0-1.4 0.2-1.3-0.3-1.3 0.4-1 0.6-0.5 0.2 0 0.3 0.5 0.5 0.4 0.7 0.2 0.7-0.1 0.6-0.5 0-0.7-0.3-0.4-0.7-0.3-0.2-0.3 2.2-0.7 2 0.2 3-0.5 1.4 0.2 1.6 0.1 2 0.6 1.3 0.1 0.7 0.3 0.5 0.7 0.9 2 0 0.5-0.4 0.6-1.3 0.2-0.5 0.3-0.4 0.4-0.1 0.5 0.2 0.5 0.3 0.3 1.8 0.4 0 0.3-0.1 0.5-1.7 1.2-0.3 0.8-0.2 0.3-1.3 0.1-3.2 0.6-1.2-0.1-1 0.4z M127.9 214.4l0.6-0.6 0.3-0.7-0.1-0.7-0.7-0.8-1-0.6-0.7-0.1-1 0.4-0.7 0.5-0.3 0.6 0 0.4 0.1 0.6 0.4 0.5 0.8 0.4 0.7 0.2 0.7 0 0.9-0.1z M121.3 216.8l0.3-0.2 0-0.2-0.3-0.2-0.3-0.1-0.4 0.3-0.1 0.2 0.2 0.2 0.6 0z" fill="none" stroke="#000" stroke-width="0.6" stroke-opacity="0.91" clip-path="url(#cB)"/>
<path d="M123.3 221.9l-1 0-2-0.7-0.7 0.2-1.3 0.4-0.5 0-2.7-2.2-0.1-0.2 0-0.1 0.8 0.1 0.8-0.2 0.3-0.4 0-0.2-0.1-0.4-0.5-0.4-0.7 0-0.8 0.1-0.1-0.1 0-1.4 0.2-1.3-0.3-1.3 0.4-1 0.6-0.5 0.2 0.1 0.3 0.4 0.7 0.5 0.8 0.1 0.4-0.1 0.6-0.5 0.1-0.4-0.4-0.7-0.7-0.3-0.1-0.3 2.1-0.7 2 0.2 3-0.5 1.7 0.3 1.3 0 2 0.6 1.4 0.2 0.6 0.2 0.5 0.7 0.8 2 0 0.5-0.3 0.6-1.3 0.2-0.5 0.3-0.4 0.4-0.2 0.5 0.3 0.5 0.3 0.3 1.8 0.4-0.1 0.8-1.7 1.2-0.5 1-2.7 0.4-1.8 0.4-1.2-0.1-1.3 0.4z M127.9 214.4l0.6-0.6 0.3-0.7-0.1-0.7-0.7-0.9-1-0.5-0.7-0.1-1 0.4-0.7 0.5-0.3 0.6 0 0.4 0.1 0.6 0.4 0.5 0.8 0.4 0.7 0.2 0.7 0 0.9-0.1z M121.4 216.8l0.2-0.2 0-0.2-0.3-0.3-0.3 0-0.5 0.3 0 0.2 0.2 0.2 0.7 0z" fill="none" stroke="#000" stroke-width="0.6" stroke-opacity="0.92" clip-path="url(#cB)"/>
<path d="M123 221.6l-1-0.1-1.4-0.5-0.8 0.1-1.5 0.4-0.5-0.1-2-1.8 0.8-0.3 0.4-0.5 0-0.2-0.2-0.5-0.4-0.3-1.4-0.1 0-0.1 0.3-2-0.4-1.8 0.4-0.8 0.3-0.3 0.2 0 0.5 0.4 0.7 0.3 0.8 0 0.5-0.2 0.3-0.4 0.1-0.4-0.2-0.6-0.6-0.4 0-0.3 0.9-0.3 1-0.2 1.8 0.2 2.4-0.5 0.8 0 0.9 0.3 0.1 0.2-1 0.7-0.4 0.6-0.2 0.5 0.2 0.8 0.3 0.4 0.6 0.5 1 0.3 0.7 0 0.8-0.2 0.6-0.3 0.4-0.5 0.1-0.5-0.2-1-1.3-1.3 0.6 0 1.8 0.5 1 0.1 0.6 0.2 0.4 0.5 0.6 2 0 0.5-0.2 0.5-1.2 0.4-0.4 0.3-0.3 0.3-0.1 0.5 0.2 0.5 0.4 0.3 1.4 0.4 0.1 0.3-0.3 0.5-1.4 1-0.8 0.8-0.5 0.2-3.3 0.7-1.7-0.1-1.3 0.4z M121.6 216.8l0.1-0.4-0.2-0.3-0.7 0-0.5 0.3 0 0.2 0.3 0.3 0.4 0.1 0.6-0.2z" fill="none" stroke="#000" stroke-width="0.6" stroke-opacity="0.92" clip-path="url(#cB)"/>
<path d="M126.3 221.1l-0.7 0.1-1.3-0.3-1.5 0.4-2.2-0.5-2.3 0.3-0.5-0.1-1.5-1.4 0.7-0.8 0.1-0.2-0.2-0.5-0.6-0.3-1.1-0.2 0-0.5 0.4-1.5-0.4-1.8 0.4-0.7 0.2-0.2 1 0.5 0.5 0.1 0.5 0 0.5-0.2 0.4-0.5 0.1-0.4-0.2-0.5-0.6-0.5 0.2-0.3 0.6-0.2 0.8-0.1 1.2 0.2 1 0 2.2-0.5 0.6 0 0.5 0.1 0.2 0.2-0.7 0.9-0.4 0.7 0 0.7 0.2 0.5 0.4 0.4 0.6 0.4 0.9 0.2 0.7 0 1.1-0.2 0.8-0.8 0.1-1-0.8-1.2 0.1-0.2 1.5 0.4 1 0 0.4 0.2 0.3 0.6 0.5 1.4 0.1 0.8-0.3 0.5-1 0.4-0.4 0.3-0.3 0.8 0.2 0.4 0.4 0.4 1.2 0.4 0.1 0.3-0.1 0.3-2.6 2-3 0.7z M121.1 217.1l0.6-0.3 0.1-0.5-0.5-0.3-0.8 0.1-0.3 0.3 0.1 0.4 0.5 0.3 0.3 0z" fill="none" stroke="#000" stroke-width="0.6" stroke-opacity="0.92" clip-path="url(#cB)"/>
<path d="M126 221.1l-1.4-0.2-1.8 0.3-2.2-0.4-2.3 0.3-0.5-0.2-1.3-1.3 0.5-0.8 0.1-0.2-0.2-0.5-0.6-0.4-1-0.1 0-0.5 0.4-1.3-0.4-1.7 0-0.5 0.3-0.4 0.2-0.2 1.5 0.5 0.5 0 0.5-0.2 0.4-0.5 0.1-0.4-0.2-0.6-0.5-0.4 0.2-0.3 0.5-0.2 0.8-0.1 1.2 0.3 1 0 2-0.5 0.8-0.1 0.6 0.3-0.8 1-0.2 0.6 0 0.7 0.2 0.5 0.4 0.4 0.6 0.4 0.9 0.2 0.7 0 1.1-0.2 0.8-0.8 0.1-1-0.7-1.2 0.5-0.1 1 0.3 1 0.1 0.3 0.1 0.4 0.8 0.5 1.5 0 0.5-0.2 0.5-1 0.4-0.4 0.3-0.3 0.8 0.2 0.4 0.3 0.4 1.2 0.4 0.1 0.3-0.1 0.3-2.7 2-3.1 0.7z M121.2 217.1l0.5-0.3 0.1-0.2 0-0.3-0.5-0.3-0.9 0.1-0.2 0.3 0.1 0.4 0.5 0.3 0.4 0z" fill="none" stroke="#000" stroke-width="0.6" stroke-opacity="0.93" clip-path="url(#cB)"/>
<path d="M126.3 220.9l-0.5-0.1-1.2-0.3-2 0.4-1.8-0.3-2.2 0.1-0.8-0.3-0.9-1 0.3-0.8-0.2-0.5-0.4-0.3-1.1-0.4 0.5-1.6-0.4-1.7 0.2-0.6 0.2-0.2 1.6 0.3 0.7-0.3 0.4-0.5 0.1-0.4-0.5-1 0.5-0.3 0.8 0 1.2 0.2 1.5 0 2-0.5 0.4 0.3-0.6 1.3 0 0.7 0.2 0.5 0.5 0.5 0.5 0.3 1 0.3 0.7 0 1-0.2 0.9-0.7 0.3-0.7-0.2-1.3 1.8 0.3 0.2 0.3 0.3 0.7 0.3 1.3 0 0.4-0.1 0.3-1.2 0.7-0.2 0.8 0.2 0.5 1.2 0.7 0.1 0.3-0.4 0.5-2.2 1.5-0.7 0.3-2 0.5z M121.4 217.1l0.4-0.3 0.1-0.2-0.2-0.5-0.7-0.3-0.7 0.3-0.2 0.5 0.2 0.3 0.5 0.3 0.6-0.1z" fill="none" stroke="#000" stroke-width="0.6" stroke-opacity="0.93" clip-path="url(#cB)"/>
<path d="M126.8 220.6l-1 0.1-1.2-0.4-2 0.4-1.8-0.3-2 0.2-0.8-0.2-0.8-1 0-0.8-0.2-0.5-0.4-0.4-0.9-0.3 0.5-1.6 0-0.4-0.4-1 0.1-0.8 0.4-0.2 1.3 0.2 0.7-0.2 0.3-0.3 0.3-0.5-0.1-0.5-0.3-0.7 0.5-0.2 1.8 0.3 1.8-0.1 1.2-0.3 0.5 0 0.1 0.3-0.4 1.2 0.3 1 0.9 0.8 1.4 0.3 1.2-0.1 0.9-0.5 0.5-0.7 0.1-1.2 1.4 0.2 0.5 0.7 0.2 1.7-0.1 0.3-1 0.7-0.3 0.8 0.2 0.5 1.1 0.7 0.1 0.3-0.4 0.5-2 1.4-0.7 0.3-1.5 0.3z M121.5 217.1l0.4-0.5-0.1-0.5-0.2-0.2-0.9-0.1-0.4 0.3-0.2 0.3 0.1 0.4 0.3 0.3 0.5 0.1 0.5-0.1z" fill="none" stroke="#000" stroke-width="0.6" stroke-opacity="0.94" clip-path="url(#cB)"/>
<path d="M127.6 220.4l-1.3 0.2-1.7-0.5-1.8 0.4-2-0.2-1.8 0.1-1-0.2-0.7-1.1-0.1-0.7-0.1-0.3-1.3-0.7 0.6-1.6 0-0.4-0.4-1 0.1-0.8 1.5 0 0.4-0.1 0.6-0.3 0.2-0.4 0.1-0.4-0.3-0.8 0.1-0.2 0.3-0.1 1.8 0.3 2 0 1.2-0.2 0 1.4 0.4 1 0.9 0.6 1.3 0.3 1 0 0.9-0.3 0.7-0.8 0.2-1 0.2-0.2 1 0.1 0.4 0.6 0.2 1.7 0 0.3-0.9 0.7-0.3 0.8 0.2 0.5 1 0.7 0.1 0.3-0.5 0.5-1.8 1.2-1.4 0.6z M121.6 217.1l0.4-0.5-0.2-0.5-0.2-0.2-0.9-0.1-0.7 0.6 0.1 0.4 0.3 0.3 0.6 0.1 0.6-0.1z" fill="none" stroke="#000" stroke-width="0.6" stroke-opacity="0.94" clip-path="url(#cB)"/>
<path d="M127.6 220.1l-1 0.1-1-0.5-0.6-0.1-2.2 0.6-1.8-0.1-1.7 0.1-1-0.2-0.5-0.6-0.6-1.3-1.1-0.7 0.7-1.8-0.3-1.2 0-0.6 1.3-0.1 0.8-0.4 0.4-0.7-0.2-1 0.2-0.1 1.3 0.3 1.5 0 1.8 0.2 0.4 1.4 0.6 0.7 0.7 0.4 1 0.3 1.3 0 1-0.3 0.8-0.7 0.4-0.9 0.5 0.1 0.3 0.4-0.1 0.7 0.4 1-0.7 0.7-0.3 0.8 0.2 0.5 0.8 0.7 0 0.3-0.4 0.5-1.6 1-1.3 0.5z M121.7 217.1l0.2-0.3 0.1-0.4-0.4-0.6-1 0-0.6 0.6 0 0.4 0.3 0.3 0.7 0.2 0.7-0.2z" fill="none" stroke="#000" stroke-width="0.6" stroke-opacity="0.94" clip-path="url(#cB)"/>
<path d="M127.3 220.1l-0.8 0-0.7-0.5-0.5-0.2-0.7 0.1-1.8 0.5-1.8 0-1.7 0.1-1-0.3-0.4-0.4-0.7-1.3-0.9-0.7 0.6-1.8-0.3-1.5 0.1-0.3 1.1-0.1 0.8-0.4 0.4-0.7-0.1-0.8 0.1-0.2 1.3 0.3 1.5 0 1.8 0.3 0.7 1.6 0.6 0.6 0.9 0.3 0.8 0.1 1 0 2-0.6 0.7 0.4 0.4 0.5-0.7 1-0.1 0.7 0.3 0.6 0.6 0.4 0 0.3-0.5 0.5-1.5 1-1.5 0.5z M130 213.6l-0.2 0 0-0.2 0.3 0-0.1 0.2z M121.7 217.1l0.3-0.3 0.1-0.4-0.5-0.6-1 0-0.6 0.6 0 0.4 0.3 0.3 0.7 0.2 0.7-0.2z" fill="none" stroke="#000" stroke-width="0.6" stroke-opacity="0.95" clip-path="url(#cB)"/>
<path d="M127.8 219.9l-0.8 0.1-0.4-0.1-0.6-0.5-0.4-0.3-1 0.2-1.8 0.6-3.2 0.1-1-0.2-0.6-0.4-0.5-1-1-1 0.6-1.8-0.1-1.6 0.2-0.2 0.8-0.1 0.6-0.4 0.3-0.5 0.1-1 0.3-0.1 1 0.3 1.5 0 1.5 0.4 0.3 0.1 0.9 1.6 1.3 0.6 1.2 0.2 2-0.4 1.3 0.5 0.2 0.1-0.1 0.3-0.5 0.7-0.1 0.7 0.1 0.3 0.8 0.7-0.1 0.3-1.3 1-1.5 0.8z M121.7 217.1l0.3-0.3 0.1-0.4-0.5-0.6-1 0-0.5 0.3-0.2 0.3 0.1 0.4 0.3 0.3 0.7 0.2 0.7-0.2z" fill="none" stroke="#000" stroke-width="0.6" stroke-opacity="0.95" clip-path="url(#cB)"/>
<path d="M127.6 219.6l-0.8 0-0.7-0.8-0.5-0.1-0.9 0.1-1.9 0.8-3.5 0.2-0.5-0.1-0.5-0.3-0.5-1.1-0.6-0.7-0.1-0.5 0.5-1.7 0.2-1.3 0.1-0.3 1-0.7 0.4-1.1 1 0.2 1.5 0 1.5 0.5 0.3 0.1 0.8 1.3 1.2 0.6 1.2 0.2 1.8-0.1 1.4 0.5 0.1 0.3-0.4 0.8-0.1 0.4 0.7 1-0.1 0.3-0.9 0.8-1.7 0.7z M121.1 217.4l0.7-0.3 0.3-0.5-0.1-0.5-0.7-0.4-1 0.1-0.4 0.6 0 0.4 0.3 0.3 0.9 0.3z" fill="none" stroke="#000" stroke-width="0.6" stroke-opacity="0.96" clip-path="url(#cB)"/>
<path d="M120.3 219.6l-1 0.1-0.7-0.3-0.3-0.3-0.9-2 0.6-2 0.2-1.3 0.7-0.7 0.4-0.8 2.3 0.1 1.7 0.5 0.3 0.1 0.7 1.1 0.7 0.5 1.6 0.4 1.7-0.1 1.5 0.7-0.5 1.5 0.5 0.7 0 0.3-0.5 0.5-1.5 0.7-0.8 0.1-0.8-0.8-0.6-0.1-0.8 0.1-1.8 0.8-2.7 0.2z M121.2 217.4l0.6-0.3 0.3-0.3 0.1-0.4-0.2-0.3-0.7-0.4-1 0.1-0.5 0.6 0.1 0.4 0.4 0.4 0.9 0.2z" fill="none" stroke="#000" stroke-width="0.6" stroke-opacity="0.96" clip-path="url(#cB)"/>
<path d="M119.8 219.6l-0.8 0-0.4-0.3-1.1-2.2 0.1-0.7 0.5-1.3 0.2-1.3 0.7-0.7 0.3-0.6 2.3 0 1.7 0.5 0.3 0.1 0.7 1 0.5 0.4 1.5 0.5 2 0 1.1 0.6 0.2 0.2-0.4 1.3 0.4 1-0.5 0.5-1.3 0.6-0.8 0-0.7-0.6-0.7-0.2-2.8 0.9-3 0.3z M121.3 217.4l0.5-0.2 0.3-0.4 0.1-0.4-0.4-0.6-0.5-0.2-0.5 0.1-0.5 0.1-0.4 0.3-0.1 0.5 0.3 0.5 0.7 0.3 0.5 0z" fill="none" stroke="#000" stroke-width="0.6" stroke-opacity="0.96" clip-path="url(#cB)"/>
<path d="M120 219.4l-0.7 0-0.6-0.3-0.9-2 0.1-0.7 0.5-1 0.4-1.8 0.5-0.8 0.3-0.1 1.7 0 2 0.5 0.3 0.1 0.7 0.9 0.5 0.4 1.5 0.4 1.7 0.1 0.4 0.3 0.4 0.4 0 2-0.1 0.3-0.3 0.3-1.1 0.2-1-0.4-0.7-0.1-3 1-2.6 0.3z M121.5 217.4l0.7-0.6 0-0.4-0.3-0.6-0.6-0.2-0.5 0-0.5 0.2-0.4 0.3-0.2 0.5 0.3 0.6 0.8 0.2 0.7 0z" fill="none" stroke="#000" stroke-width="0.6" stroke-opacity="0.97" clip-path="url(#cB)"/>
<path d="M120 219.1l-0.7 0-0.5-0.2-0.6-1.8 0-0.5 0.6-1.2 0.2-1.6 0.2-0.4 0.4-0.3 1.2-0.1 2.5 0.4 1.5 1.3 1.2 0.4 1.8 0.2 0.6 0.5 0.1 0.6-0.2 1-0.5 0.5-0.5 0.1-1.7-0.1-3.6 1-2 0.2z M121.6 217.4l0.4-0.3 0.3-0.5-0.1-0.5-0.4-0.4-0.5-0.2-0.7 0.1-0.6 0.3-0.3 0.5 0 0.4 0.3 0.4 0.8 0.3 0.8-0.1z" fill="none" stroke="#000" stroke-width="0.6" stroke-opacity="0.97" clip-path="url(#cB)"/>
<path d="M120 219.1l-0.7 0-0.5-0.2-0.6-1.8 0-0.5 0.6-1.2 0.2-1.6 0.2-0.4 0.4-0.3 1.2-0.1 2.5 0.4 1.5 1.3 1.2 0.4 1.8 0.2 0.5 0.5 0.2 0.6-0.2 0.9-0.5 0.6-0.5 0.1-1.7-0.1-3.6 1-2 0.2z M121.6 217.4l0.5-0.3 0.2-0.5-0.1-0.5-0.4-0.4-0.5-0.2-0.7 0.1-0.6 0.3-0.3 0.5 0 0.4 0.6 0.6 0.7 0.1 0.6-0.1z" fill="none" stroke="#000" stroke-width="0.6" stroke-opacity="0.98" clip-path="url(#cB)"/>
<path d="M122 218.6l-0.7 0.2-1.7 0-0.6-0.2-0.1-0.2-0.4-1.6 0.5-1.1 0.3-1.9 0.5-0.5 0.8-0.1 1.2 0.4 1.5 0.1 1.3 1 1.7 0.5 1 0.2 0.6 0.4 0.1 0.8-0.2 0.5-0.2 0.2-1.8 0.3-1.8 0.5-1.2 0.1-0.8 0.4z M121.8 217.4l0.4-0.3 0.2-0.5-0.1-0.5-0.5-0.5-0.5-0.1-0.5 0-0.8 0.3-0.3 0.3-0.1 0.7 0.7 0.7 0.7 0 0.8-0.1z" fill="none" stroke="#000" stroke-width="0.6" stroke-opacity="0.98" clip-path="url(#cB)"/>
<path d="M121.6 218.6l-0.8 0-1.4-0.5 0-0.7 0.2-0.1 0.4 0.3 1.6-0.1 0.7-0.4 0.2-0.5-0.3-0.8-0.6-0.4-1 0.1-0.6 0.2-0.4 0.4-0.3 0 0.1-2 0.4-0.5 0.8-0.2 1.2 0.5 1.5 0 1 0.9 1.3 0.3 1 0.4 0.6 0.1 0.4 0.3 0 0.5-0.3 0.1-0.5-0.2-0.6 0.8-0.4 0.3-1.8 0.5-1.2-0.1-0.6 0.6-0.6 0.2z M119.3 217.3l0-1.2 0 1.2z" fill="none" stroke="#000" stroke-width="0.6" stroke-opacity="0.98" clip-path="url(#cB)"/>
<path d="M124.6 217.7l-0.8 0.1-0.6-0.2-0.4-0.5-0.3-1-0.7-0.7-1 0-1 0.4-0.2-0.2 0-1.2 0.2-0.5 0.2-0.2 0.6 0 1 0.6 1.4-0.2 0.5 0.3 0.3 0.7 0.2 0.1 1-0.1 0.9 0.3 0.2 0.4-0.1 1-0.4 0.4-1 0.5z M121.6 218.4l-0.8 0-0.2-0.3 0-0.3 1.4-0.4 0.3 0.2-0.2 0.5-0.5 0.3z" fill="none" stroke="#000" stroke-width="0.6" stroke-opacity="0.99" clip-path="url(#cB)"/>
<path d="M124.3 217.7l-0.5 0-0.5-0.2-0.4-0.4-0.4-1-0.7-0.7-0.8 0-1.2 0.3-0.1-0.1 0.1-1.5 0.2-0.3 0.6 0 1 0.7 1-0.3 0.4 0 0.4 0.2 0.2 0.7 0.3 0.3 0.4 0 0.7-0.2 0.7 0.2 0.2 0.2 0.1 0.5-0.1 0.7-0.6 0.5-1 0.4z M121.6 218.4l-0.6-0.1-0.2-0.2-0.1-0.3 0.7-0.2 0.7 0-0.1 0.5-0.4 0.3z" fill="none" stroke="#000" stroke-width="0.6" stroke-opacity="0.99" clip-path="url(#cB)"/>
<path d="M120.8 215.4l-0.8 0.1-0.1-0.1 0.1-1 0.3-0.3 0.5 0.2 0.3 0.5 0.1 0.3-0.4 0.3z M124.8 217.4l-0.8 0.2-0.6-0.2-0.6-1.3-0.6-0.7-0.1-0.6 0.2-0.2 0.5-0.2 0.2 0.1 0.3 0.9 0.3 0.2 1.4-0.1 0.6 0.2 0.1 0.4 0 0.5-0.4 0.5-0.5 0.3z M121.3 218.1l-0.1-0.3 0.5 0-0.1 0.3-0.3 0z" fill="none" stroke="#000" stroke-width="0.6" stroke-opacity="1.00" clip-path="url(#cB)"/>
<ellipse cx="127.4" cy="212.9" rx="2.6" ry="1.7" fill="#f4f4f4" stroke="#222" stroke-width="0.5"/>
<ellipse cx="113.3" cy="215.3" rx="1.7" ry="1.6" fill="#f4f4f4" stroke="#222" stroke-width="0.5"/>
<ellipse cx="108.0" cy="218.0" rx="1.0" ry="1.7" fill="#f4f4f4" stroke="#222" stroke-width="0.5"/>
<ellipse cx="118.7" cy="218.6" rx="1.4" ry="1.1" fill="#f4f4f4" stroke="#222" stroke-width="0.5"/>
<ellipse cx="126.8" cy="218.1" rx="1.3" ry="1.0" fill="#f4f4f4" stroke="#222" stroke-width="0.5"/>
<ellipse cx="133.4" cy="213.4" rx="1.1" ry="1.1" fill="#f4f4f4" stroke="#222" stroke-width="0.5"/>
<ellipse cx="116.2" cy="211.2" rx="1.1" ry="1.0" fill="#f4f4f4" stroke="#222" stroke-width="0.5"/>
<ellipse cx="122.0" cy="215.0" rx="0.9" ry="0.8" fill="#f4f4f4" stroke="#222" stroke-width="0.5"/>
<ellipse cx="110.5" cy="221.5" rx="0.9" ry="0.7" fill="#f4f4f4" stroke="#222" stroke-width="0.5"/>
<clipPath id="cC00"><rect x="238.0" y="78.3" width="75.10000000000002" height="75.60000000000001"/></clipPath>
<path d="M257.8 151.8l-2 0.1-2 0-4.6-0.7-4.4-0.2-1.3-0.3-1-0.4-1.3-1-0.5-0.7-0.4-1-0.3-2.3 0.3-2.7 1.1-3.8 1.7-4.5 1.5-3.3 3.9-7.2 1-2.5 2.5-7.3 3.4-7.2 0.7-1.2 0.8-1 1.1-0.9 1-0.5 1.5-0.5 3-0.2 2.5 0.1 1.8 0.3 2.2 0.8 1.5 1.1 0.6 0.8 0.6 1 0.6 2.2 0.6 5.5 0.1 5.7 0.5 5 0.2 3.3 0 3.7-0.5 3.6-0.8 3-1.5 4.2-0.7 1.1-2.2 2.7-3 2.2-2.5 1.4-2.7 1-3 0.6z" fill="none" stroke="#000" stroke-width="0.5" stroke-opacity="0.50" clip-path="url(#cC00)"/>
<path d="M247 148.8l-1.5 0-1-0.2-1-0.5-0.7-0.7-0.6-1-0.2-1.1 0-1.3 0.3-1.4 0.5-1.8 0.8-2 3.2-5.7 2.2-3.4 4.9-6.4 1.6-2.5 0.3-1.2-0.1-4 0.3-4.8 0.3-2.2 0.6-1.8 0.7-1 0.9-0.9 1.3-0.7 1.2-0.3 2-0.2 3.2 0 1.8 0.3 1.5 0.5 1.4 1.1 1 1.4 0.5 1.8 0.3 2.8 0 4.7-0.7 4-0.3 4.7-0.7 5 0.3 7.3-0.2 2.7 0 1.3-0.2 1-1 1.5-1.4 1.5-1.7 1-2 0.8-1.3 0.2-2.7 0.9-2.3 0.5-3.5 0-4.2-0.2-3.8 0.3z" fill="none" stroke="#000" stroke-width="0.5" stroke-opacity="0.52" clip-path="url(#cC00)"/>
<path d="M259 148.1l-1 0-5.5-0.6-1.7 0.1-3.8 0.4-2-0.2-1.2-0.7-0.8-1.1-0.3-1.2 0.2-1.8 0.5-2 1.2-2.4 1.9-3.4 2.1-3.2 3.1-4.2 4.8-4.5 1-1.3 0-1-0.8-2.2-0.4-1.2-0.2-2.8 0.3-5.2 0.5-1.8 0.6-1.2 0.5-0.8 0.8-0.7 0.7-0.4 1.3-0.5 2.7-0.3 4 0.3 2 0.6 0.7 0.5 0.8 0.7 0.9 1.8 0.5 2.5 0.1 3.7-0.1 2.3-0.9 4-0.3 4.7-1 4.8 0 2 0.5 2.8 0.3 2.4-0.2 3 0 1.6-0.7 1.4-0.9 1.2-1 0.9-1 0.2-0.7 0.7-1.7 0.8-1.6 0.2-1 0.4-3.2 0.7z" fill="none" stroke="#000" stroke-width="0.5" stroke-opacity="0.54" clip-path="url(#cC00)"/>
<path d="M259.2 147.3l-1 0.2-1-0.1-1.7-0.5-2.3-1.1-0.7-0.1-1.3 0.1-3.4 0.6-1.8-0.1-1-0.5-0.6-0.8-0.2-1 0.1-1.2 0.5-1.8 0.9-1.7 1.3-2.1 2.5-3.4 2.2-4.2 0.6-1 0.7-0.7 2-1.4 1.2-0.5 2.1-0.4 1.4-0.8 0.4-0.5 0.1-1.3-0.1-1.2-0.3-0.5-1.5-1.5-0.7-1-0.5-1.2-0.3-1.6-0.1-2.2 0.2-3.8 0.3-1.7 0.7-1.5 0.6-0.8 0.7-0.6 1.8-0.7 2.8-0.3 2.2 0 1.5 0.2 1 0.3 1 0.5 1.3 1.2 0.8 1.7 0.4 2.3 0.1 3.4-0.2 2.3-0.9 4-0.5 4.7-1 3.3-0.2 1 0.2 2.7 0.7 2.3 0.4 2.7-0.2 4.6-0.5 1.2-0.9 1.2-1 0.7-1.2 0.1-0.5 0.8-0.5 0.4-1.3 0.5-1.3 0-1 0.4-3 0.4z" fill="none" stroke="#000" stroke-width="0.5" stroke-opacity="0.55" clip-path="url(#cC00)"/>
<path d="M259.8 146.8l-1.8 0.2-0.8-0.2-1.2-0.5-1.5-0.9-1.7-1.4-1.3-0.6-2.7 0.6-1.3-0.1-0.5-0.3-0.3-0.3-0.1-0.5 0-0.8 0.3-1 0.6-1.1 2.7-3.7 0.4-0.9 0.1-1.3 0.4-1 0.3-1.4 0.8-1.6 1-1.4 2.3-1.6 1-0.4 1.5-0.1 2.5-0.9 0.6-0.3 0.3-0.5-0.1-2.2-0.3-1.3-0.5-0.7-1.5-1.2-0.7-0.8-0.6-1.3-0.3-1.3-0.2-2.2 0.1-3.5 0.3-1.7 0.6-1.3 0.6-0.8 0.7-0.7 0.7-0.4 1-0.3 2.6-0.2 3.4 0.1 1.8 0.6 0.8 0.5 0.6 0.7 0.8 1.5 0.4 2.5 0.1 3.2-0.2 2.3-1.1 3.7-0.5 4.6-1.1 3.2-0.2 1.2 0 0.8 0.4 1.8 0.9 3 0 1.2 0.3 1.2-0.1 1.3 0.1 1-0.2 2.3-0.3 1-0.9 1.2-1 0.6-1.3 0-0.7 1-0.8 0.5-0.8 0.2-1.2-0.2-0.8 0.6-2.4 0.3z" fill="none" stroke="#000" stroke-width="0.5" stroke-opacity="0.57" clip-path="url(#cC00)"/>
<path d="M258.5 146.8l-1.3-0.2-2.4-1.4-1-0.7-2.3-2.1-0.7 0-1.6 0.2-0.7 0-0.5-0.6 0-0.7 0.5-1.1 1.5-2 0.5-1 0.4-1.9 0.1-1.3 0.4-1 0.2-1.4 0.6-1.3 1-1.3 1.8-1.5 0.8-0.5 0.7-0.2 1.7-0.2 2.8-0.9 0.5-0.4 0.2-0.3 0-0.7-0.1-1.5-0.3-1.5-0.5-0.7-1.6-1.3-0.6-0.7-0.6-1-0.4-1.3-0.2-2 0-3.5 0.3-1.8 0.5-1.4 0.6-0.9 0.7-0.7 0.7-0.4 1-0.3 2.8-0.3 2.2 0.1 1.3 0.1 1.7 0.8 1.2 1 0.7 1.6 0.4 2.2 0 3-0.1 2.2-1.2 4-0.5 4.6-1.1 3-0.2 1.2 0.1 1.2 1.2 4 0.1 1.8 0.3 1.2-0.1 1.3 0.1 1-0.2 1.3-0.1 1.2-0.4 1-0.9 1.1-0.7 0.4-1.3 0-0.8 1-0.9 0.6-0.8 0.1-1-0.4-0.5 0.5-0.5 0.3-3.5 0.4z" fill="none" stroke="#000" stroke-width="0.5" stroke-opacity="0.59" clip-path="url(#cC00)"/>
<path d="M259.8 146.1l-1 0.1-0.8-0.1-1-0.9-1.2-0.5-1.3-0.9-1.3-1.8-0.2-0.7-1.1-5.3 0.4-1.7 0.1-2.5 0.3-0.8 0.8-0.9 0.5-0.4 1-0.2 0.5-1 0.7-0.5 0.6-0.3 1 0 1.4-0.5 1.8 0.1 2.3-1.5 0.1-0.8-0.9-4.4-0.6-0.8-2.3-1.8-0.5-0.7-0.5-1-0.3-1.3 0-1.2 0.1-4 0.4-1.2 0.4-0.9 0.8-0.8 0.8-0.5 1-0.3 1.2-0.2 2.5 0 1.5 0.2 1.5 0.5 1.1 1 0.7 1.4 0.4 2 0 2.6-0.1 1.7-0.3 1.5-1.1 3-0.5 4-0.5 1.3-1.3 1.9-0.2 0.8 2.3 5.8 0.1 1 0 1.2 0.4 1.2 0.1 2.6-0.5 1.2 0 1.2-1.3 1.3-0.3 0.1-1-0.1-1 1.3-0.7 0.5-0.6 0.1-1.2-0.4-1.5 0.8-1.7 0.5z" fill="none" stroke="#000" stroke-width="0.5" stroke-opacity="0.61" clip-path="url(#cC00)"/>
<path d="M259.8 146.1l-1 0.1-0.8-0.1-1-0.9-1.2-0.5-1.3-0.9-1.3-1.8-0.2-0.7-1-5.3 0.3-1.7 0.1-2.5 0.3-0.8 0.8-0.9 0.5-0.4 1-0.2 0.5-1 0.7-0.5 0.6-0.2 1-0.1 1.4-0.5 1.8 0.1 2.3-1.5 0.1-0.8-0.9-4.4-0.5-0.8-2.4-1.8-0.5-0.7-0.5-1-0.2-1.3-0.1-1.2 0.2-4 0.3-1.2 0.4-0.9 0.8-0.8 0.8-0.4 1-0.4 1.2-0.1 2.5-0.1 1.5 0.2 1.5 0.5 1.1 1 0.7 1.4 0.4 2 0 2.6-0.1 1.7-0.4 1.7-1 2.8-0.5 4-0.5 1.3-1.3 1.9-0.2 0.8 2.3 5.8 0.1 1 0 1.2 0.4 1.2 0.1 2.6-0.5 1.2 0 1.2-1.3 1.3-0.3 0.1-1-0.1-1 1.3-0.7 0.5-0.6 0.1-1.2-0.4-1.5 0.8-1.7 0.5z" fill="none" stroke="#000" stroke-width="0.5" stroke-opacity="0.62" clip-path="url(#cC00)"/>
<path d="M266 125.6l-0.8-0.1-0.9-1.2-0.4-1.3-0.4-2.4-0.3-0.8-0.7-0.7-1.7-1.1-0.8-0.7-0.6-1-0.3-1-0.2-1.5 0-2.5 0.2-1.3 0.3-1 0.5-1 0.6-0.5 0.7-0.5 1-0.3 3.6-0.1 1 0.1 1 0.4 0.7 0.4 0.6 0.5 0.5 1 0.3 1 0.3 3.3-0.3 2.5-1.5 3.8-0.4 3.2-0.2 1-0.8 1.2-1 0.6z M259 145.8l-0.8-0.1-0.8-0.9-1.2-0.3-0.4-0.3-1.1-1.2-0.9-1.4-1.4-5.6 0.3-1.4 0-1.8 0.3-1 0.3-0.8 0.5-0.5 1.8-0.7 0.6-1 0.6-0.4 1-0.2 1.2-0.5 0.5 0 0.7 0.1 1 0.6 0.3-0.1 0.7-0.9 1.6-0.5 0.7-0.1 0.5 0.3 0.8 1.5 1.1 1 1.2 2.4 0.6 1.8 0 0.8-0.2 1.4 0.6 1 0.1 2.6-0.4 1-0.3 1.2-1 0.6-1.3 0.6-1 1.3-0.7 0.3-1.3-0.2-2.4 1-1.8 0.4z M261.4 129.8l0.4-0.2 0-0.3-0.3-0.6-0.9 0.6-0.2 0.3 0.5 0.2 0.5 0z" fill="none" stroke="#000" stroke-width="0.5" stroke-opacity="0.64" clip-path="url(#cC00)"/>
<path d="M266.2 123.9l-0.7 0-0.5-0.6-0.3-0.7-0.3-2.3-0.4-0.8-0.8-0.8-2.4-1.5-0.7-0.9-0.4-1-0.2-1.3 0-2 0.1-1.4 0.2-1 0.3-0.8 0.7-0.7 0.7-0.5 0.7-0.3 1.3-0.1 2 0 1.9 0.4 0.6 0.3 0.7 0.7 0.4 0.7 0.4 1 0.3 2.5-0.2 2.2-0.5 1.6-1.5 3-0.6 3.4-0.3 0.6-0.5 0.3z M259.2 145.4l-0.7 0-0.5-0.8-1.5-0.3-0.5-0.3-1.1-1.4-0.8-1.6-0.3-0.7-0.2-1.3-0.8-2.7 0.3-1.5-0.1-1.2 0.1-0.8 0.8-1.8 2.1-1 0.3-0.7 0.5-0.5 1-0.2 1.2-0.6 0.8 0 0.5 0.3 0.2 0.3-0.1 0.2-0.6 0.5-0.1 0.3 0.1 0.2 1.7 0.1 0.4-0.1 0.2-0.2-0.1-1 0.2-0.6 1.6-0.6 0.7 0 0.5 0.4 0.7 1 0.8 0.8 0.5 1.2 0.5 0.5 0.4 0.7 0.5 2-0.3 2 0 0.3 0.7 1 0.1 2.3-0.8 2-1.9 1.1-1 1.3-0.7 0.2-1-0.2-1.5 0.6-2.8 0.8z" fill="none" stroke="#000" stroke-width="0.5" stroke-opacity="0.66" clip-path="url(#cC00)"/>
<path d="M266.2 123.2l-0.4 0-0.6-0.6-0.3-2.3-0.6-1-0.8-0.7-2.5-1.6-0.7-0.7-0.4-1-0.2-1 0-1.5 0-1.8 0.2-1.2 0.3-0.8 0.6-0.6 0.7-0.6 0.7-0.2 1.3-0.2 1.7 0 1 0.1 1 0.2 0.8 0.5 0.6 0.6 0.4 0.8 0.3 1 0.4 2.4-0.3 2-0.6 1.8-1.6 2.8-0.3 1-0.1 1.7-0.3 0.6-0.3 0.3z M259 145.3l-0.5-0.2-0.2-0.5-0.3-0.2-1.2-0.2-0.8-0.4-0.9-1.2-1-1.8-0.3-0.8-0.1-1.2-0.8-2.5 0.3-1.5-0.1-1.8 0.9-1.8 2-1 0.8-1.2 1-0.3 1-0.5 0.7-0.1 0.5 0.2 0.1 0.3-0.5 0.7 0 0.5 0.4 0.2 1.5 0 0.5-0.2 0.1-0.2 0.1-1 0.3-0.6 1.3-0.5 0.7 0.1 0.3 0.2 0.7 1 1 1 0.4 1 0.6 0.7 0.3 0.5 0.5 2-0.3 2.3 0.7 1 0.1 2.3-0.8 1.9-1.8 1.2-0.7 0.9-0.5 0.4-0.5 0.1-1-0.2-1.5 0.6-1.5 0.5-0.7 0-0.8 0.3z" fill="none" stroke="#000" stroke-width="0.5" stroke-opacity="0.68" clip-path="url(#cC00)"/>
<path d="M266 120.1l-0.2-0.1-1.7-1.4-2.9-1.7-0.5-0.6-0.5-1-0.2-1-0.1-1.3 0.1-1.7 0.2-1.3 0.3-0.8 0.5-0.6 1.2-0.7 1-0.2 1.8 0 2 0.2 0.8 0.4 0.5 0.5 0.5 0.8 0.3 1 0.4 2.4-0.1 1.3-0.2 1-1 1.9-1.7 2.4-0.5 0.5z M260.5 144.8l-1-0.1-0.5 0.2-0.6-0.6-1.9-0.3-0.5-0.4-0.6-0.8-1.3-2.2-0.1-0.6-0.1-1.2-0.8-2.5 0.3-1.5-0.2-1.5 0.8-1.7 2-1.2 0.6-1.1 0.3-0.3 0.9-0.1 1.2-0.6 0.5 0 0.3 0.3-0.5 1 0.2 0.4 0.3 0.1 1.7 0 0.5-0.2 0.3-0.3 0-1 0.2-0.3 1-0.5 0.7-0.1 0.6 0.2 0.6 0.9 1 1 0.4 1.2 0.6 0.6 0.3 0.4 0.5 2-0.4 2.3 0.8 1 0.2 1.5-0.1 0.8-0.8 1.7-1.7 1.3-1.1 1.2-0.3 0.2-1.3-0.3-1.3 0.6-1.7 0.5z" fill="none" stroke="#000" stroke-width="0.5" stroke-opacity="0.70" clip-path="url(#cC00)"/>
<path d="M266.2 118.1l-1 0-2.7-1.2-1-0.7-0.7-0.9-0.3-1.7 0.2-3 0.5-1.3 1-0.7 1.8-0.3 1.5 0 1 0.1 0.7 0.3 0.6 0.4 0.4 0.6 0.5 0.9 0.3 1 0.1 1.2-0.2 2-0.4 1-0.7 1.1-0.8 0.8-0.8 0.4z M261.2 144.3l-1 0.2-1-0.5-2.2-0.1-0.5-0.2-0.6-0.7-0.8-1.4-0.8-1-0.2-0.6 0-1.4-0.6-2.3 0.2-1.3-0.1-1.7 0.3-1 0.3-0.5 2-1.2 0.5-1 0.3-0.3 1.8-0.4 0.1 0.1 0.1 0.8 0.5 0.6 2-0.2 0.5-0.2 0.3-0.2 0.5-1.2 0.4-0.4 0.8-0.2 0.5 0.3 1.6 1.5 0.2 0.5 0.1 1 0.8 0.5 0.3 0.4 0.3 1.8-0.2 2.6 0.8 1 0.2 1.7-0.3 0.7-0.5 0.9-0.8 0.9-1 0.7-0.8 0.9-0.4 0.2-1.3-0.2-1.3 0.7-1 0.2z M260.8 140.6l0-0.3 0 0.3z" fill="none" stroke="#000" stroke-width="0.5" stroke-opacity="0.71" clip-path="url(#cC00)"/>
<path d="M266.2 117.3l-1 0.1-2-0.7-1.2-0.8-0.6-0.9-0.3-1.4 0.1-2.6 0.5-1.2 0.8-0.7 0.7-0.2 1.3-0.1 1.3 0 0.7 0.1 1.1 0.7 0.8 1.2 0.3 1 0.2 1-0.2 1.8-0.5 0.9-0.4 0.7-0.8 0.7-0.8 0.4z M261.5 144.1l-1 0.2-0.5-0.2-0.4-0.5 0-0.8-0.2-0.2-0.7 0.2 0 0.5-0.2 0.2-0.7 0.2-1-0.1-0.8-0.8-0.7-1.2-0.8-1-0.2-0.6 0.1-1.7-0.6-2 0.1-1.3 0-2 0.3-1 0.6-0.4 1.5-0.8 0.3-0.2 0.2-0.8 0.4-0.4 1 0.1 1 1 0.6 0.1 2.4-0.5 1-1.3 0.3 0-0.3 0 0.2 0.5 0.3 0.3 0.4 0 0.4-0.4 0.3 0 0.9 0.6 0.4 0.5 0.1 1.3 0.8 0.3 0.4 0.4 0.2 1.5-0.2 2.8 0.1 0.4 0.5 0.3 0.2 0.3 0.2 1.7-0.4 1-1.3 1.5-1.5 1.4-0.4 0.2-0.8-0.2-0.8 0.1-1 0.6-0.7 0.2z M261 137.6l0.3-0.6-0.3-0.2-0.4 0.2-0.1 0.3 0.1 0.3 0.4 0z M256.1 137.8l-0.1-0.1-0.3 0.1 0.3 0.1 0.1-0.1z M260.9 140.8l0.2-0.5-0.3-0.5-0.3 0.2 0 0.6 0.3 0.2 0.1 0z" fill="none" stroke="#000" stroke-width="0.5" stroke-opacity="0.73" clip-path="url(#cC00)"/>
<path d="M266.5 116.6l-1 0.2-1.5-0.4-1.2-0.7-0.8-0.9-0.3-1.2 0.1-2 0.3-1 0.8-0.8 1.3-0.4 1.8-0.1 1.2 0.5 0.9 1 0.3 0.8 0.2 1-0.1 1.6-0.7 1.5-0.6 0.5-0.7 0.4z M261.5 143.8l-0.7 0.2-0.6-0.2-0.1-0.2-0.3-1-0.3-0.4-1.2 0.4-0.3 0.7-0.2 0.2-0.6 0-0.4-0.2-0.5-0.5-0.5-1-1.1-1.2-0.3-0.6 0-0.7 0.3-1-0.6-2 0.1-2.5 0-1.2 0.2-0.6 0.4-0.2 1.7-0.8 0.3-0.3 0.2-0.8 0.2-0.2 0.6 0 0.4 0.2 1.3 1 1-0.4 1.5-0.2 1-0.6 1 0.1 1-0.2 0.8 0.7 0.2 1.4 1 0.4 0.3 0.5-0.1 4.7 0.6 0.2 0.3 0.3 0.2 1.2-0.2 0.8-0.3 0.5-0.7 0.5-0.6 0.9-1.5 1.4-2 0-1.5 0.7z M258.6 133.8l-0.1-0.2-0.1 0.2 0.2 0z M261.2 137.8l0.4-1-0.1-0.2-0.7 0.2-0.5 0.5 0 0.3 0.2 0.3 0.5 0.1 0.2-0.2z M256.3 138l-0.1-0.4-0.2-0.2-0.2-0.1-0.4 0.3-0.1 0.2 0.5 0.4 0.2 0.1 0.3-0.3z M261.2 140.8l-0.2-1.8-0.2-0.1-0.5 1.1 0 0.6 0.5 0.4 0.2 0 0.2-0.2z" fill="none" stroke="#000" stroke-width="0.5" stroke-opacity="0.75" clip-path="url(#cC00)"/>
<path d="M266 116.3l-1.2-0.1-1.4-0.6-0.8-0.8-0.4-1.2 0.1-1.8 0.4-1 0.8-0.6 1.5-0.5 1.2 0.1 1 0.5 0.9 1 0.3 1.3 0 1.2-0.5 1.2-0.9 1-1 0.3z M261.2 143.6l-0.7 0.1-0.3-0.4-0.3-1-0.4-0.3-0.7 0.2-0.8 0-0.2 0.1 0 0.8-0.3 0.1-0.5-0.1-0.5-0.4-0.4-0.9-1.3-1.2-0.3-0.6 0-0.7 0.5-1 0.2-0.1 0.8 0.3 0.2-0.1 0.2-0.6-0.4-0.6-0.5 0-0.5 0.3-0.2 0-0.3-0.4-0.2-1.1 0-1.4 0.2-0.8-0.2-1.2 0.5-0.7 2-0.8 0.3-1.1 0.4-0.2 0.7 0.3 1 0.9 0.3 0.1 1-0.4 1.7-0.4 0.8-0.4 2 0 0.7 0.7 0.1 1.2 1 0.4 0.3 0.4 0 3.2-0.3 1.8 0 0.2 1 0 0.2 0.2 0.2 1-0.2 0.8-1.2 1-0.3 0.8-1.5 1.3-2.2 0.1-1.6 0.6z M258.6 134l0.3-0.2-0.1-0.2-0.3-0.2-0.3 0-0.1 0.4 0.5 0.2z M261.2 141l0.1-0.4-0.1-1 0.1-0.6 0.5-0.7-0.1-0.7 0.4-1.3 0-0.3-0.1-0.1-0.5 0.4-1 0.5-0.4 0.8 0 0.2 0.3 0.5 0.1 0.3-0.4 2 0.7 0.6 0.2 0 0.2-0.2z" fill="none" stroke="#000" stroke-width="0.5" stroke-opacity="0.77" clip-path="url(#cC00)"/>
<path d="M266 116.1l-1.2-0.2-1.2-0.6-0.7-0.7-0.3-1 0-1.6 0.5-1 0.9-0.7 1.2-0.3 1 0 1 0.5 0.7 0.8 0.4 1.3-0.1 1.2-0.4 1.1-0.8 0.8-1 0.4z M261 143.4l-0.2 0.1-0.3-0.2-0.4-1-0.3-0.3-1.3 0.1-1-0.7-0.4 0.2-0.2 0.2 0.6 0.8 0 0.2-0.3 0.1-0.2 0-0.3-0.3-0.2-0.8-1.3-0.9-0.6-0.9 0-0.7 0.4-0.7 0.2-0.2 1 0.2 0.3-0.6-0.3-0.7-0.4-0.2-0.8 0.1-0.2-0.1-0.2-0.3-0.2-0.8 0-1.2 0.3-1-0.3-0.8 0-0.4 0.1-0.3 0.5-0.4 1.9-0.6 0.3-1 0.3-0.3 0.7 0.2 0.8 0.8 0.5 0.2 1-0.4 1.7-0.4 1-0.4 1.8 0.2 0.5 0.4 0.3 1.3 1 0.4 0.3 0.5-0.2 1.8 0.1 1.7-0.4 1.5 0.2 0.2 0.7 0 0.3 0 0.3 1-0.2 0.8-0.4 0.4-0.7 0.4-0.5 1-1.3 1.2-2.8 0-0.7-0.3-0.3 0.3 0 0.5-0.2 0.1z M258.8 134l0.2-0.2-0.2-0.4-0.6-0.1-0.2 0.2 0 0.3 0.2 0.2 0.3 0.1 0.3-0.1z M265.5 134.8l0.1-0.2-0.4-0.1 0 0.1 0.3 0.2z M261.1 141.3l0.3-0.5 0-1.5 0.6-0.9-0.1-1.1 0.5-1.5-0.1-0.2-0.9 0.7-1 0.5-0.5 1 0.4 1-0.1 0.8-0.2 0.7 0 0.3 0.8 0.7 0.2 0.1 0.1-0.1z M264.1 137l-0.1-0.1-0.2-0.1-0.2 0.2 0.4 0.2 0.1-0.2z" fill="none" stroke="#000" stroke-width="0.5" stroke-opacity="0.79" clip-path="url(#cC00)"/>
<path d="M266.5 115.9l-1 0.1-1.3-0.4-1-0.8-0.4-0.8-0.1-1.2 0.3-1.2 0.5-0.8 1-0.6 1.3-0.2 1 0.3 0.7 0.6 0.5 0.9 0.3 1.2-0.3 1.3-0.6 1-0.9 0.6z M260.8 143.3l-0.3-0.2-0.3-0.8-0.4-0.4-1.3 0.2-1-0.8-0.7 0.4-0.3 0-0.7-0.4-1.1-1-0.1-0.7 0.3-0.8 0.3-0.3 1 0.2 0.3-0.4 0-0.5-0.2-0.5-0.3-0.2-0.5-0.1-0.5 0.1-0.3-0.3-0.2-0.8-0.1-1.2 0.4-1-0.3-0.8-0.1-0.4 0.1-0.3 0.5-0.4 2-0.5 0.2-1.1 0.3-0.3 0.7 0.3 0.8 0.8 0.5 0.2 1-0.5 1.7-0.4 1-0.4 1.8 0.2 0.5 0.6 0.1 0.8 0.2 0.3 1 0.4 0.2 0.4 0.1 0.6-0.3 1.5 0.2 1.5-0.5 1.5 0.3 0.3 0.7-0.1 0.3 0.1 0.2 0.7 0 0.8-0.4 0.4-0.9 0.6-0.5 1-1.2 1.1-1.5 0.1-1.3 0-1-0.4-0.2 0.8-0.2 0.1z M258.9 134l0.1-0.2 0-0.2-0.2-0.3-0.6-0.1-0.2 0.2-0.1 0.4 0.3 0.2 0.3 0.2 0.4-0.2z M265.7 134.8l-0.1-0.2-0.4-0.2-0.1 0.2 0.1 0.2 0.5 0z M261.2 141.3l0.2-0.7 0-1 0.6-1 0-1.3 0.5-1.5 0-0.3-0.3 0-0.2 0.1-0.5 0.5-1 0.6-0.7 1.1 0.4 1.2 0 0.6-0.3 0.7 0 0.3 0.9 0.8 0.2 0.1 0.2-0.2z M264 137.3l0.1-0.3-0.1-0.2-0.2-0.1-0.3 0.3 0.5 0.3z M259 140.3l-0.1 0 0.1 0z M257.2 142.7l-0.2 0-0.2-0.4 0.2-0.1 0.2 0.2 0 0.3z" fill="none" stroke="#000" stroke-width="0.5" stroke-opacity="0.80" clip-path="url(#cC00)"/>
<path d="M266.5 115.6l-1 0.1-1-0.4-0.7-0.5-0.6-1-0.1-1.2 0.4-1 0.5-0.7 1-0.5 1-0.1 0.8 0.3 0.7 0.6 0.4 0.8 0.2 1-0.2 1-0.6 1-0.8 0.6z M264.8 142.6l-1.3 0.1-1.3-0.2-0.4-0.3-0.5-0.4 0.2-1.2 0-0.9 0.6-0.9 0.1-1.2 0.6-2-0.1-0.3-0.2-0.1-0.5 0.2-0.8 0.8-0.7 0.4-0.7 1-0.2 0.4 0.4 0.8 0.1 0.5-0.3 0.8-0.3 0.1-0.7-0.2-0.4 0.3-0.1 0.3 0.5 0.2 1-0.1 0.9 0.9 0.1 0.2 0 0.4-0.3 0.1-0.7-0.6-1.3 0.2-0.7-0.9-1.6 0.3-1.1-0.7-0.4-0.8 0.2-0.8 0.3-0.3 0.3 0 0.7 0.3 0.3-0.3 0.2-0.7-0.1-0.4-0.4-0.4-1.2-0.4-0.3-0.5-0.1-1.5 0.3-1-0.4-1 0.3-0.6 0.4-0.2 1.3-0.2 0.7-0.2 0.2-0.3 0-0.7 0.3-0.3 0.7 0.3 0.5 0.7 0.3 0.1 4-1.3 1.3 0.2 0.6 0.3 0.2 0.2 0.3 1.2 0.9 0.4 0.4 0.4 0 0.8-0.4 1.2 0.3 0.8 0 0.7-0.5 1.7 0.5 0.3 0.7 0 0.3 0.3 0.1 0.7-0.1 0.5-0.3 0.2-1.3 0.5 0 0.8-0.2 0.3-0.8 0.8-0.4 0.2z M263 132.6l0.2-0.3-0.4 0-0.1 0.3 0.3 0z M259.1 134l0.1-0.4-0.3-0.3-0.7-0.2-0.4 0.2 0 0.5 0.2 0.3 0.5 0.2 0.6-0.3z M265.9 135l0.2-0.2-0.3-0.4-0.6-0.2-0.2 0.1-0.1 0.3 0.3 0.4 0.7 0z M264.3 137.3l-0.1-0.4-0.2-0.4-0.2 0-0.5 0.3 0 0.2 0.2 0.3 0.5 0.2 0.3-0.2z" fill="none" stroke="#000" stroke-width="0.5" stroke-opacity="0.82" clip-path="url(#cC00)"/>
<path d="M266.5 115.3l-0.7 0.1-1-0.2-0.9-0.6-0.4-0.8-0.1-1 0.3-1 0.5-0.7 0.8-0.4 1-0.1 0.8 0.2 0.5 0.5 0.5 0.8 0.1 0.9-0.2 1-0.5 0.8-0.7 0.5z M264 142.6l-0.8 0-1-0.3-0.4-0.3-0.3-0.4 0.1-1.8 0.6-0.8 0.1-1.2 0.5-0.8-0.1-0.7 0.3-0.7 0-0.3-0.2-0.2-0.8 0.2-0.7 0.7-1.1 0.8-0.6 0.8-0.2 0.4 0.5 0.8 0.1 0.5-0.2 0.5-1.3 0.1-0.7 0.7-1.3 0.6-0.7-0.3-0.8-0.6-0.2-0.5 0.2-0.7 0.5-0.2 0.7 0.5 0.3 0 0.3-1.4-0.3-0.7-0.5-0.4-0.9-0.3-0.3-0.6-0.1-1.2 0.4-1-0.4-1 0.1-0.5 0.4-0.2 1.3 0 0.7-0.3 0.3-0.2 0.3-1 0.4 0.1 0.6 0.7 0.4 0.1 4-1.3 1.3 0.3 0.5 0.3 0.5 1.2 0.3 0.3 0.7 0.3 0.3 0.2 0 0.5-0.2 0.7-0.4 0.4-1-0.4-0.3 0.3-0.1 0.3 0.4 0.5 1 0.2 0.4 0.5 0.1 0.8-0.7 1.4 0.1 0.3 1.4 0.2 0.3 0.3 0 0.5-0.2 0.5-0.4 0.3-1.3 0.2 0.1 1-0.8 0.9-0.4 0.3-0.8 0.1z M263.1 132.8l0.4-0.5 0-0.3-0.7 0-0.4 0.3-0.2 0.3 0.3 0.3 0.6-0.1z M258.9 134.3l0.5-0.5-0.1-0.2-0.8-0.6-0.5-0.1-0.3 0.4-0.1 0.5 0.6 0.5 0.7 0z M264.4 137.6l-0.1-0.8-0.3-0.4-0.5 0-0.5 0.4 0 0.2 0.3 0.3 0.7 0.3 0.4 0z M264 141.3l0-0.3-0.2-0.2-0.3-0.1 0 0.3 0.1 0.3 0.4 0z M260.2 141.6l-0.7-0.2-0.7 0.4-0.3-0.1-0.2-0.4 0.2-0.3 1.3 0 0.3 0.3 0.1 0.3z" fill="none" stroke="#000" stroke-width="0.5" stroke-opacity="0.84" clip-path="url(#cC00)"/>
<path d="M266.5 115.1l-0.7 0.1-1-0.3-0.7-0.6-0.4-0.7 0-1 0.3-0.8 0.5-0.5 0.7-0.4 0.8-0.1 0.8 0.3 0.5 0.5 0.4 0.7 0.1 1-0.2 0.7-0.6 0.8-0.5 0.3z M257 140.8l-0.5 0.2-0.7-0.2-0.7-0.5-0.2-0.5 0.1-0.5 0.5-0.3 0.7 0.7 0.3 0.1 0.3-0.2 0.1-1.6-0.3-0.7-1.4-0.8-0.2-0.5-0.2-1.2 0.4-1 0-0.2-0.4-0.8 0.2-0.5 0.5-0.1 1 0.1 1-0.5 0.4-0.2 0.1-0.6 0.2 0 0.4 0.6 0.4 0 0.8-0.1 3.4-1.2 0.8 0.1 0.8 0.3 0.2 0.3 0.2 0.8 0.3 0.5 1 0.4 0.2 0.3-0.1 0.8-0.4 0.4-1-0.3-0.5 0.4 0 0.3 0.3 0.5 0.5 0.3 0.7 0.2 0.3 0.4 0 0.8-0.5 0.9-0.5 0.3-0.7-0.1-0.2-0.1-0.4-1.3-0.4-0.4-0.6 0.1 0-0.6-0.2-0.6-0.2-0.1-0.6 0.1-1 1-1.1 0.8-0.7 1-0.1 0.5 0.5 0.7 0 0.6-0.3 0.2-1-0.2-1.5 1.2z M263 133l0.7-0.7 0-0.3-0.2-0.2-0.5 0.1-0.9 0.4-0.1 0.3 0.2 0.4 0.6 0.1 0.2-0.1z M259 134.3l0.7-0.5-0.1-0.2-1.4-0.8-0.4 0.1-0.4 0.7 0.3 0.4 0.5 0.4 0.8-0.1z M260.4 133.8l-0.4-0.1-0.2 0.1 0.4 0.2 0.2-0.2z M264.8 142.3l-1.6 0.1-1-0.2-0.5-0.4-0.1-0.5 0.2-1.4 0.4-0.4 0.3-1.7 0.3-0.4 0.4 0 1.3 0.4 0.5 0.8 2.2 0 0.3 0.1 0.2 0.3 0 0.6-0.5 0.3-0.4 0.2-0.9-0.1-0.2 0.3 0.1 1-0.6 0.7-0.4 0.3z M264.1 141.6l0.1-0.3-0.1-0.5-1.1-0.9-0.2 0.1 0.6 1.3 0.4 0.3 0.3 0z M258.8 141.6l-0.2-0.3 0.5 0-0.3 0.3z" fill="none" stroke="#000" stroke-width="0.5" stroke-opacity="0.86" clip-path="url(#cC00)"/>
<path d="M266.5 114.9l-0.7 0.1-0.8-0.2-0.6-0.5-0.4-0.7-0.1-0.8 0.2-0.8 0.4-0.4 0.7-0.5 0.8-0.1 0.5 0.2 0.5 0.4 0.5 0.7 0.1 0.7-0.1 0.8-0.5 0.7-0.5 0.4z M257.2 140.1l-0.1-0.1-0.2-1 0.1-1-0.1-0.4-0.4-0.6-1.2-0.7-0.2-0.5-0.1-1 0.3-1.2-0.4-0.8 0.1-0.3 0.5-0.2 0.7 0.2 1-0.3 0.8 0 0.5-0.4 2.3-0.5 2.4-0.9 0.8 0.1 0.6 0.3 0.2 0.2 0.5 1.3 0.3 0.3 0.8 0.2 0.2 0.2-0.1 0.7-0.3 0.3-1-0.2-0.4 0.2-0.2 0.3 0.1 0.5 0.3 0.4 1.1 0.6 0.2 0.2 0.1 0.8-0.4 0.7-0.5 0.4-0.5-0.1-0.2-0.3-0.5-1.2-0.7-0.5-0.4-0.8-0.2-0.2-0.5 0-0.5 0.3-0.9 0.9-0.9 0.6-1 1.2-0.2 0.5 0.7 0.7 0 0.3-0.2 0.3-1.3-0.3-1 0.8z M263 133.3l0.2-0.2 0.6-0.8 0.1-0.3-0.1-0.2-0.8-0.1-1.1 0.6 0 0.5 0.3 0.4 0.8 0.1z M259.2 134.3l0.6-0.3 0.7 0.3 0.3-0.3-0.5-0.4-1.1-0.4-1.2-0.8-0.7 0.9 0 0.5 0.5 0.4 0.4 0.3 0.6 0 0.4-0.2z M263.8 142.3l-1.6-0.2-0.5-0.5 0.2-1.6 0.3-0.1 0.7 0.7 0.6 1.1 0.5 0.2 0.3-0.3 0-0.6-0.2-0.4-1.6-1.4-0.1-0.9 0.4-0.7 0.4-0.1 1 0.4 0.8 0.9 2-0.1 0.5 0.2 0 0.7-0.3 0.2-0.4 0.2-1-0.2-0.2 0.5 0 1-0.4 0.5-0.4 0.3-1 0.2z M258.5 138.8l-0.3-0.1 0 0.3 0.3-0.2z M256.8 140.7l-0.6 0.1-0.9-0.5-0.2-0.5 0.1-0.5 0.4 0 0.6 0.7 0.3 0.2 0.5-0.1 0.1 0.2-0.3 0.4z" fill="none" stroke="#000" stroke-width="0.5" stroke-opacity="0.88" clip-path="url(#cC00)"/>
<path d="M266 114.8l-0.8-0.1-0.6-0.4-0.3-0.5-0.2-0.8 0.2-0.7 0.3-0.5 0.4-0.4 0.8-0.2 0.4 0.1 0.6 0.3 0.4 0.4 0.3 0.8-0.1 0.8-0.2 0.4-0.4 0.5-0.8 0.3z M257.5 139.5l-0.3-0.1-0.1-0.4 0-1-0.3-0.7-1.4-1-0.2-0.5-0.1-1 0.3-1.2-0.3-0.8 0.1-0.2 0.3-0.1 0.7 0.2 1-0.3 0.3 0.1-0.3 0.8 0 0.5 0.5 0.5 0.5 0.2 0.6 0 1-0.3 1 0.2 0.1-0.4-0.1-0.2-0.6-0.4-0.7-0.2-0.8-0.4-0.3-0.5 0.1-0.3 2.5-0.6 0.8-0.4 1.4-0.5 0.6 0 0.6 0.3 0.2 0.2 0.2 0.8 0.6 0.8 0.8 0.3 0.2 0.1 0 0.6-0.2 0.2-0.2 0.1-0.8-0.2-0.6 0.3-0.1 0.3 0.1 0.5 0.4 0.5 1 0.7 0.2 0.3 0 0.5-0.2 0.5-0.5 0.4-0.5-0.1-0.2-0.3-0.4-1-0.6-0.6-0.6-0.9-0.2-0.1-0.5 0-0.5 0.3-1 1-0.8 0.6-1.4 1.6-0.9 0.4-0.2 0.7-0.2 0.2z M263.3 133.3l0.8-1.3 0-0.2-0.9-0.2-1.4 0.4-0.1 0.6 0.5 0.7 0.8 0.2 0.3-0.2z M265 141.9l-0.2 0-0.3-0.1-0.1-0.8-0.2-0.4-0.4-0.6-1-0.6-0.2-0.4 0-1 0.2-0.3 0.2-0.1 0.5 0 0.7 0.4 0.8 1 0.5 0.1 1.3-0.3 0.4 0.1 0.2 0.1 0 0.6-0.4 0.2-1.2-0.2-0.3 0.2 0 1.5-0.5 0.6z M259.5 139.3l-0.5 0-0.1-0.3 0.1-0.2 0.2 0 0.3 0.2 0 0.3z M256 140.3l-0.4 0-0.3-0.3 0-0.4 0.2-0.1 0.1 0.1 0.4 0.7z M263.2 142.1l-0.7-0.1-0.5-0.2-0.2-0.5 0.2-1 0.2-0.1 0.6 0.4 0.5 1.2 0.1 0.2-0.2 0.1z" fill="none" stroke="#000" stroke-width="0.5" stroke-opacity="0.89" clip-path="url(#cC00)"/>
<path d="M266 114.6l-0.8-0.1-0.4-0.4-0.4-0.5-0.1-0.6 0.1-0.4 0.4-0.6 0.4-0.4 0.6-0.2 0.4 0.1 0.6 0.3 0.3 0.5 0.2 0.5-0.1 0.7-0.2 0.5-0.5 0.4-0.5 0.2z M262.8 131.6l-0.8 0.2-0.5-0.2 0.1-0.3 0.3-0.3 1.3-0.4 0.9 0.2 0.4 0.5-0.3 0.2-1 0-0.4 0.1z M258.5 138.1l-1 0.2-0.5-1-1.6-1.3-0.2-1.2 0.4-1-0.1-0.8 0.3-0.2 1.2 0 0 0.8 0.2 0.4 0.8 0.6 0.5 0 1.3-0.3 1 0.2 0.2-0.2-0.1-0.5-0.4-0.4-1.3-0.4-0.5-0.4-0.1-0.3 0.2-0.3 1.4-0.3 0.8-0.1 0.5 0.2 0.2 1 0.3 0.5 1 0.5 0.2 0 0.7-1.2 0.6-0.7 0.5 0.4 0.5 0.7 0.5 0 0.2 0.2 0 0.4-0.2 0-0.5-0.2-0.3 0.1-0.8 0.5-0.1 0.3 0.1 0.5 0.4 0.5 1.2 1 0.1 0.5-0.3 0.6-0.3 0.2-0.5-0.2-0.5-1.2-0.6-0.6-0.7-1.1-0.2-0.1-1 0.4-0.8 1-1.1 0.8-1.1 1.1-0.5 0.4z M265 141.6l-0.2-0.1-0.4-0.9-0.4-0.5-1.3-1.1-0.1-1 0.4-0.3 0.5 0 0.6 0.3 0.7 1 0.5 0.6 0 1.4-0.3 0.6z M267 139.7l-0.5-0.1-0.4-0.3 0.2-0.3 0.7 0 0.3 0.3-0.3 0.4z M262.8 141.9l-0.6-0.1-0.2-0.2 0-0.8 0.2-0.3 0.5 0.3 0.2 0.5 0 0.5-0.1 0.1z" fill="none" stroke="#000" stroke-width="0.5" stroke-opacity="0.91" clip-path="url(#cC00)"/>
<path d="M266.2 114.3l-0.4 0.1-0.6-0.2-0.4-0.4-0.2-0.5 0-0.5 0.2-0.5 0.7-0.6 0.5 0 0.5 0.2 0.5 0.7 0.1 0.4-0.1 0.6-0.2 0.4-0.6 0.3z M262.2 131.6l-0.2 0-0.1-0.3 1.3-0.5 0.5 0 0.4 0.2-0.3 0.3-0.8 0-0.8 0.3z M258.5 137.9l-0.5 0.1-0.5-0.2-0.3-0.5-1.2-0.8-0.4-0.5-0.2-1.2 0.4-1.2 0.2-0.4 0.5-0.1 0.2 0.2 0.4 0.7 0.9 0.7 0.8 0 1-0.3 0.7 0.3 0.5-0.1 0.2-0.3-0.1-0.5-0.9-0.6-1.1-0.4-0.3-0.2 0-0.3 0.3-0.3 0.9-0.2 1 0 0.3 0.2 0.7 1.6 0.7 0.4-0.1 0.3-0.8 0.6-0.8 0.9-1 0.8-1.5 1.3z M265.5 137.4l-0.3 0-0.2-0.2-0.3-1.2-0.7-0.6-0.3-0.6 0-1.8 0.3-0.4 0.5-0.4 0.3 0.1 0.2 0.3 0.2 0.4 0 0.3-1.3 1 1 1.5 0.8 0.5 0.2 0.3-0.1 0.4-0.3 0.4z M265 141.1l-0.8-1.1-1.4-1-0.1-0.7 0.3-0.5 0.8 0.1 0.4 0.4 0.8 1.3 0.1 1-0.1 0.5z M266.8 139.3lz M262.5 141.7l-0.3-0.1-0.1-0.3 0.1-0.4 0.3 0 0.2 0.4 0 0.3-0.2 0.1z" fill="none" stroke="#000" stroke-width="0.5" stroke-opacity="0.93" clip-path="url(#cC00)"/>
<path d="M266 114.1l-0.8-0.3-0.3-0.8 0.3-0.7 0.6-0.3 0.7 0.2 0.3 0.6-0.1 0.8-0.2 0.2-0.5 0.3z M261.8 134.6l-0.3 0 0-0.6-0.1-0.2-1.2-0.8-1-0.3-0.2-0.1 0-0.3 0.5-0.3 0.7-0.1 0.8 0.1 0.4 0.6 0.4 1.1 0.4 0.3-0.1 0.3-0.3 0.3z M264.5 133.7l-0.5 0-0.1-0.4 0.1-0.5 0.5-0.4 0.3 0.2 0.2 0.4-0.1 0.3-0.4 0.4z M258.8 137.6l-0.6 0.1-0.4-0.1-0.1-0.6 0.3-0.4 0-0.5-0.2 0-0.2 0.7-0.4 0.2-1-0.4-0.5-0.6-0.1-1.2 0.4-1.2 0.2-0.2 0.3 0.1 0.6 0.8 0.9 0.5 1.8-0.3 1 0.3 0.6 0-0.2 0.5-0.3 0.5-1.1 0.8-1 1z M265.5 137.1l-0.3 0-0.2-0.3 0.2-0.4 0.3 0.1 0.1 0.3-0.1 0.3z M264.5 139.7l-1-0.3-0.6-0.4-0.2-0.4 0.3-0.7 0.5 0 0.6 0.4 0.4 1.4z" fill="none" stroke="#000" stroke-width="0.5" stroke-opacity="0.95" clip-path="url(#cC00)"/>
<path d="M266 113.4l-0.2 0-0.2-0.4 0.2-0.3 0.2 0 0.2 0.3-0.2 0.4z M261.2 133.3l-1.7-0.7 0.1-0.3 0.6-0.2 0.6 0.1 0.4 0.6 0 0.5z M264.5 133.4l-0.3 0 0-0.4 0.3-0.2 0.2 0.2-0.2 0.4z M257 136.6l-0.8-0.2-0.3-0.6 0.1-1.2 0.2-0.5 0.3 0.1 1 0.8-0.2 1.3-0.3 0.3z M258.5 137.3l-0.2-0.3 0.1-0.7-0.4-1 0.2-0.3 1.6-0.3 1.1 0.6-0.3 0.5-1.6 1.3-0.5 0.2z M263.8 139.3l-0.6-0.2-0.3-0.3 0-0.5 0.3-0.3 0.6 0.2 0.3 0.4 0 0.4-0.1 0.3-0.2 0z" fill="none" stroke="#000" stroke-width="0.5" stroke-opacity="0.96" clip-path="url(#cC00)"/>
<path d="M259 136.4l-0.4-0.6-0.1-0.5 1-0.3 0.6 0.3 0.1 0.3-0.1 0.2-1.1 0.6z M256.8 136.2l-0.4-0.2-0.1-0.2 0.2-0.4 0.3 0 0.2 0.4-0.1 0.2-0.1 0.2z M263.8 138.8l-0.3 0.1-0.2-0.1-0.1-0.4 0.3 0 0.2 0.2 0.1 0.2z" fill="none" stroke="#000" stroke-width="0.5" stroke-opacity="0.98" clip-path="url(#cC00)"/>
<clipPath id="cC10"><rect x="321.5" y="78.3" width="76.19999999999999" height="75.60000000000001"/></clipPath>
<path d="M373 126.8l-0.8-0.1-0.6-0.7-0.6-1-0.5-1.4-0.5-2.6 0-4.2-0.6-2.2-0.7-1-1.9-1.4-1.1-0.9-0.7-1-0.6-1.5-0.5-1.5-0.2-1 0-1 0.4-1.3 0.5-1 0.7-0.7 1.7-1.4 2.2-1.3 3-1.2 4.8-1.5 3.5-0.8 2.7-0.1 1.3 0.1 1 0.3 1 0.5 0.7 0.7 0.6 0.7 0.5 1 0.6 1.7 0.3 1.3-0.1 1.3-0.2 1-1 1.4-1.4 1.3-1.7 1.1-4.3 2.2-0.7 0.4-0.8 0.8-1.3 2.8-1.7 2.2-0.4 0.8-0.3 1.2-0.4 4-0.4 2.2-0.6 1.3-0.4 0.3-0.5 0.2z" fill="none" stroke="#000" stroke-width="0.5" stroke-opacity="0.50" clip-path="url(#cC10)"/>
<path d="M374 114.3l-0.5 0.2-0.5-0.1-1.8-1.1-3-1.2-1.2-0.8-0.8-0.7-1.1-2-0.6-2.3 0-0.7 0.2-1 0.7-1.6 0.8-0.8 1-0.9 2.6-1.4 3.2-1.2 4.8-1.5 2.7-0.6 2.3-0.1 2 0.4 1.2 0.6 0.8 0.7 0.5 0.8 0.6 1.6 0.4 1.4 0.1 1-0.1 0.8-0.4 1-0.4 0.8-1.2 1.2-1.5 1.1-5.7 2.7-1.3 0.7-1.3 1-1.5 1.4-1 0.6z" fill="none" stroke="#000" stroke-width="0.5" stroke-opacity="0.52" clip-path="url(#cC10)"/>
<path d="M373.8 112.1l-2 0.1-2-0.3-1.8-0.8-1.2-1.1-1-1.7-0.4-1.3-0.2-1 0-0.7 0.2-1 1-1.5 1.6-1.4 2.2-1.3 3.3-1.2 4.3-1.3 2.4-0.5 2.3-0.1 1.7 0.3 1.3 0.7 0.7 0.8 0.5 0.8 0.6 1.7 0.3 1.3 0 1-0.2 0.7-0.9 1.5-1.5 1.3-2.2 1.3-7 3-2 0.7z" fill="none" stroke="#000" stroke-width="0.5" stroke-opacity="0.54" clip-path="url(#cC10)"/>
<path d="M373.2 111.6l-2 0-1.7-0.3-1.5-0.7-0.9-1-1-2-0.4-1.8 0.2-1.5 1-1.5 1.6-1.4 2.3-1.2 3.4-1.3 4.3-1.2 2.3-0.3 2 0 1.4 0.4 1.2 0.8 0.6 0.7 0.3 0.7 0.6 1.8 0.2 1-0.2 1.5-0.9 1.5-1.8 1.4-2.2 1.2-6.2 2.5-2.6 0.7z" fill="none" stroke="#000" stroke-width="0.5" stroke-opacity="0.55" clip-path="url(#cC10)"/>
<path d="M373.8 111.3l-2 0.2-2-0.3-1.5-0.6-1-1-1.2-2.3-0.3-1.5 0.3-1.5 0.9-1.5 1.8-1.4 2.2-1.2 2.8-1 4.2-1.3 2.5-0.4 1.7 0 1.8 0.4 1.1 0.7 0.7 0.7 0.4 0.7 0.5 1.6 0.2 1.2-0.2 1.5-0.3 0.7-0.6 0.8-1.6 1.3-2 1.1-6 2.4-2.4 0.7z" fill="none" stroke="#000" stroke-width="0.5" stroke-opacity="0.57" clip-path="url(#cC10)"/>
<path d="M373 110.8l-1.8 0-1.4-0.3-1.3-0.7-0.8-1-0.9-1.8-0.3-1.4 0.1-0.8 0.3-0.8 0.9-1.2 1.4-1.2 2.3-1.2 2.7-1 3.8-1 2.2-0.4 1.8 0 1.5 0.4 1.1 0.6 0.6 0.8 0.3 0.8 0.5 1.4 0.2 1-0.1 0.8-0.2 0.8-0.9 1.2-1.8 1.4-2.4 1.2-5 1.8-2.8 0.6z" fill="none" stroke="#000" stroke-width="0.5" stroke-opacity="0.59" clip-path="url(#cC10)"/>
<path d="M374 110.3l-1.8 0.2-1.4-0.1-1.3-0.5-1.1-0.9-1-1.7-0.4-1.5 0-0.8 0.2-0.7 0.8-1.3 1.5-1.2 2-1.1 2.7-1 3.6-1 2.2-0.4 1.8 0 1.2 0.3 1.2 0.7 0.5 0.7 0.4 0.8 0.6 2.2-0.1 0.8-0.2 0.8-0.9 1.2-1.5 1.2-2 1-4.5 1.7-2.5 0.6z" fill="none" stroke="#000" stroke-width="0.5" stroke-opacity="0.61" clip-path="url(#cC10)"/>
<path d="M372.8 110.1l-1.6-0.1-1.2-0.4-1-0.8-0.9-1.2-0.5-1.3-0.1-1.3 0.5-1.2 0.8-1 1.4-1.1 2-1 3-1 3-0.8 2-0.2 1.6 0.1 1.2 0.4 0.8 0.6 0.4 0.7 0.4 0.8 0.4 2-0.2 1.3-0.9 1.2-1.7 1.2-2.4 1.1-4.6 1.5-2.4 0.5z" fill="none" stroke="#000" stroke-width="0.5" stroke-opacity="0.62" clip-path="url(#cC10)"/>
<path d="M373.8 109.8l-1.6 0.1-1.4-0.2-1-0.5-1-0.9-0.8-1.5-0.3-1.2 0.2-1.3 0.8-1.3 1.3-1 2-1.1 2.2-0.8 3.6-0.9 2-0.4 1.4 0 1.3 0.3 1 0.7 0.8 1.2 0.5 2-0.1 1.3-0.8 1.3-1.4 1.1-2 1-4.3 1.5-2.4 0.6z" fill="none" stroke="#000" stroke-width="0.5" stroke-opacity="0.64" clip-path="url(#cC10)"/>
<path d="M374.2 109.3l-1.7 0.2-1.3-0.2-1-0.5-0.8-0.8-0.9-1.4-0.3-1.3 0.3-1.3 0.7-0.9 1.3-1 1.7-0.9 2-0.7 3-0.9 2-0.3 1.6 0 1.2 0.2 0.8 0.5 0.5 0.6 0.4 0.7 0.5 2-0.3 1.3-0.7 1-1.2 0.9-1.8 0.9-3.7 1.3-2.3 0.6z" fill="none" stroke="#000" stroke-width="0.5" stroke-opacity="0.66" clip-path="url(#cC10)"/>
<path d="M373.8 109.1l-1.3 0-1.3-0.3-1-0.6-0.8-0.9-0.6-1.3-0.1-1 0.3-1 0.7-1 1.3-0.9 1.5-0.8 2-0.7 3-0.7 1.7-0.3 1.3 0 1.3 0.3 0.7 0.5 0.7 1.2 0.4 1.7-0.2 1.3-0.7 1-1.4 1-1.8 0.8-3.7 1.2-2 0.5z" fill="none" stroke="#000" stroke-width="0.5" stroke-opacity="0.68" clip-path="url(#cC10)"/>
<path d="M373.5 109.1l-1.5-0.1-1-0.3-0.9-0.7-0.8-1-0.5-1-0.1-1 0.3-1 0.8-1 1.2-0.9 1.8-0.8 2.4-0.9 2.6-0.6 1.7-0.2 1.3 0 1 0.3 0.8 0.7 0.7 1.2 0.3 1.8-0.2 1-0.8 1-1.4 0.9-2 1-3.4 1.1-2.3 0.5z" fill="none" stroke="#000" stroke-width="0.5" stroke-opacity="0.70" clip-path="url(#cC10)"/>
<path d="M374.8 108.6l-1.6 0.1-1.2-0.1-1-0.4-0.8-0.6-0.8-1.3-0.3-1 0.2-1 0.6-1 1.1-0.9 1.5-0.8 1.7-0.6 2.8-0.8 1.8-0.3 1.2 0 1.2 0.3 0.8 0.5 0.6 0.9 0.5 1.7-0.1 1-0.7 1-1.1 0.9-1.4 0.7-3 1.1-2 0.6z" fill="none" stroke="#000" stroke-width="0.5" stroke-opacity="0.71" clip-path="url(#cC10)"/>
<path d="M374.5 108.3l-1.3 0.1-1.2-0.2-0.9-0.4-0.8-0.8-0.6-1-0.3-1 0.3-1 0.6-0.7 0.9-0.8 1.6-0.8 1.7-0.6 2.7-0.7 1.6-0.2 1.2 0 1 0.3 0.8 0.5 0.5 1 0.3 1.6-0.2 1-0.6 0.7-1 0.8-1.6 0.8-3 1-1.7 0.4z" fill="none" stroke="#000" stroke-width="0.5" stroke-opacity="0.73" clip-path="url(#cC10)"/>
<path d="M374.5 108.1l-1.3 0-1-0.1-0.8-0.4-0.8-0.8-0.7-1-0.1-0.8 0.3-1 0.5-0.7 1-0.7 1.4-0.8 3.8-1.1 1.4-0.2 1.3 0 1 0.2 0.7 0.4 0.6 0.9 0.4 1.6-0.3 1-0.5 0.7-1.1 0.7-1.3 0.7-2.8 1-1.7 0.4z" fill="none" stroke="#000" stroke-width="0.5" stroke-opacity="0.75" clip-path="url(#cC10)"/>
<path d="M374.5 107.8l-1.3 0.1-1-0.3-0.7-0.4-0.7-0.7-0.6-0.9-0.1-0.8 0.2-0.8 0.6-0.7 1-0.7 1.1-0.6 1.5-0.5 2-0.5 1.5-0.3 1.2 0 1 0.2 0.6 0.4 0.6 0.7 0.3 1.6-0.1 0.7-0.5 0.7-0.9 0.8-1.4 0.7-2.6 0.9-1.7 0.4z" fill="none" stroke="#000" stroke-width="0.5" stroke-opacity="0.77" clip-path="url(#cC10)"/>
<path d="M375.2 107.6l-1.2 0.2-1-0.1-1-0.3-0.8-0.5-0.7-0.9-0.3-0.7 0.1-1 0.5-0.7 0.8-0.8 1.2-0.6 1.4-0.6 2-0.5 2.8-0.3 1 0.2 0.8 0.4 0.4 0.7 0.4 1.5-0.1 0.7-0.5 0.7-0.8 0.7-1.1 0.6-3.9 1.3z" fill="none" stroke="#000" stroke-width="0.5" stroke-opacity="0.79" clip-path="url(#cC10)"/>
<path d="M374.5 107.6l-1 0-1-0.2-0.7-0.4-0.8-0.7-0.5-0.7-0.1-0.8 0.2-0.8 0.6-0.7 0.8-0.6 1.2-0.6 3.3-0.9 2.5-0.2 0.8 0.1 0.7 0.5 0.5 0.7 0.3 1.3-0.1 0.7-0.5 0.7-0.9 0.8-1.3 0.6-2.5 0.8-1.5 0.4z" fill="none" stroke="#000" stroke-width="0.5" stroke-opacity="0.80" clip-path="url(#cC10)"/>
<path d="M374.5 107.3l-1 0-1-0.2-0.7-0.5-0.6-0.6-0.4-0.7-0.1-0.5 0.2-0.8 0.6-0.7 0.7-0.5 1.3-0.6 3-0.8 2.3-0.2 0.7 0.2 0.7 0.4 0.4 0.8 0.2 1-0.1 0.7-0.5 0.7-1 0.7-1.2 0.6-2 0.7-1.5 0.3z" fill="none" stroke="#000" stroke-width="0.5" stroke-opacity="0.82" clip-path="url(#cC10)"/>
<path d="M374.8 107.1l-1 0-0.8-0.1-0.8-0.3-0.7-0.7-0.5-0.7-0.1-0.5 0.3-0.8 0.3-0.4 1-0.8 1-0.5 2.7-0.7 2.3-0.2 0.7 0.2 0.7 0.4 0.4 0.8 0.1 1-0.2 0.8-0.5 0.4-1.7 1.1-2 0.7-1.2 0.3z" fill="none" stroke="#000" stroke-width="0.5" stroke-opacity="0.84" clip-path="url(#cC10)"/>
<path d="M374.8 106.8l-1 0-0.8-0.1-0.8-0.4-0.5-0.5-0.4-0.5-0.1-0.5 0.2-0.8 0.4-0.4 0.7-0.6 1-0.5 2.5-0.7 2.2-0.1 0.8 0.1 0.5 0.4 0.3 0.6 0.1 0.8-0.1 0.7-0.3 0.5-0.6 0.5-1.1 0.6-1.8 0.6-1.2 0.3z" fill="none" stroke="#000" stroke-width="0.5" stroke-opacity="0.86" clip-path="url(#cC10)"/>
<path d="M374.8 106.6l-1 0-0.8-0.2-0.6-0.4-0.6-0.4-0.3-0.6 0-0.4 0.2-0.6 0.4-0.4 0.7-0.6 0.9-0.4 2.1-0.6 2-0.2 0.7 0.2 0.6 0.3 0.3 0.5 0.1 0.8-0.2 0.7-0.3 0.5-0.7 0.5-1 0.5-1.3 0.5-1.2 0.3z" fill="none" stroke="#000" stroke-width="0.5" stroke-opacity="0.88" clip-path="url(#cC10)"/>
<path d="M374.8 106.3l-1.6-0.1-1-0.6-0.3-0.6-0.1-0.4 0.2-0.6 0.4-0.4 1.4-0.9 2-0.5 1.7-0.1 0.7 0.1 0.5 0.4 0.3 0.4 0 0.8-0.2 0.5-0.4 0.5-1.8 1-1.8 0.5z" fill="none" stroke="#000" stroke-width="0.5" stroke-opacity="0.89" clip-path="url(#cC10)"/>
<path d="M374.5 106.1l-1.3-0.2-0.5-0.3-0.5-0.5-0.1-0.3 0-0.5 0.6-0.7 1.3-0.8 1.8-0.4 1.4-0.1 0.8 0.2 0.3 0.3 0.2 0.5 0 0.5-0.3 0.5-0.4 0.5-1.8 0.9-1.5 0.4z" fill="none" stroke="#000" stroke-width="0.5" stroke-opacity="0.91" clip-path="url(#cC10)"/>
<path d="M375.5 105.6l-1.3 0.2-1-0.3-0.4-0.3-0.3-0.4 0.1-0.8 0.8-0.7 1.4-0.5 1.7-0.3 1.1 0.3 0.4 0.5-0.1 0.5-0.3 0.5-0.9 0.7-1.2 0.6z" fill="none" stroke="#000" stroke-width="0.5" stroke-opacity="0.93" clip-path="url(#cC10)"/>
<path d="M375 105.4l-1 0-0.8-0.3-0.3-0.5 0.1-0.6 0.5-0.5 1.3-0.5 1.2-0.1 1 0.2 0.3 0.5-0.4 0.7-0.9 0.7-1 0.4z" fill="none" stroke="#000" stroke-width="0.5" stroke-opacity="0.95" clip-path="url(#cC10)"/>
<path d="M375 105.3l-1 0.1-0.8-0.3-0.3-0.5 0.1-0.6 0.5-0.5 1.3-0.5 1.2-0.1 1 0.2 0.2 0.5-0.3 0.7-0.9 0.7-1 0.3z" fill="none" stroke="#000" stroke-width="0.5" stroke-opacity="0.96" clip-path="url(#cC10)"/>
<path d="M375.2 104.8l-0.7 0.2-0.7-0.2-0.4-0.2 0.1-0.6 0.6-0.4 0.7-0.3 1-0.1 0.4 0.2 0.2 0.4-0.1 0.2-0.5 0.6-0.6 0.2z" fill="none" stroke="#000" stroke-width="0.5" stroke-opacity="0.98" clip-path="url(#cC10)"/>
<clipPath id="cC20"><rect x="424.3" y="78.3" width="75.89999999999998" height="75.60000000000001"/></clipPath>
<path d="M483 135.3l-1.7-0.1-1.5-0.6-1.4-1.3-0.9-1.5-0.4-1.5-1.1-5-2.4-5.5-0.9-3.2-0.5-3.6-0.2-3.7 0.4-1.7 0.9-2 1.5-1.8 1.8-1.4 1-0.5 1-0.2 3 0.1 3.4-0.4 1.3 0 1.7 0.4 1.8 0.7 1 0.8 0.8 1 0.7 2 1 1.7 1 5.6 0.3 2-0.4 2-0.6 1.2-1.8 1.9-1.3 0.9-1.2 1.2-0.3 0.5-0.3 1 0 2.7-0.2 2-0.5 2-0.7 1.5-0.8 1.1-0.9 0.8-1.3 0.6-1.3 0.3z" fill="none" stroke="#000" stroke-width="0.5" stroke-opacity="0.50" clip-path="url(#cC20)"/>
<path d="M482.8 132.3l-0.8 0-0.4-0.2-1-0.8-0.6-1.3-0.7-3-0.4-1.2-0.5-0.8-2.8-3.2-1.3-2.2-1.1-3.8-0.5-3-0.1-3.5 0.8-2.5 0.5-1 1.4-1.5 1.5-1.1 1.2-0.5 0.8-0.2 2.5 0.2 3.3-0.5 1.2 0 2.2 0.4 2 1.1 0.8 0.9 0.5 1.2 1.4 2.8 0.3 2.2 0.6 2.8 0.1 2.2-0.3 1.8-0.4 0.7-2 1.9-1.6 0.8-1.6 1.1-1.5 1.7-0.4 1-0.3 3.5-0.6 2-0.4 0.7-0.6 0.7-0.4 0.4-0.8 0.2z" fill="none" stroke="#000" stroke-width="0.5" stroke-opacity="0.52" clip-path="url(#cC20)"/>
<path d="M482.6 123.6l-1 0.1-1.3 0-1.5-0.4-2.2-1.7-1.5-1.8-0.9-2.2-0.5-2-0.5-3 0-3.6 0.8-2.2 0.4-0.8 1.4-1.3 1.8-1.1 1.2-0.4 2.2 0.1 3.8-0.6 1 0 1.8 0.3 1 0.6 0.9 0.7 1.1 1.5 1.4 2.5 0.2 1 0.1 1.7 0.5 1 0.2 1.3 0.1 2.3-0.2 1.2-0.2 0.8-0.4 0.4-1.7 1.7-3 1.4-1.3 1.1-0.5 0.2-1.3 0.2-1.9 1z" fill="none" stroke="#000" stroke-width="0.5" stroke-opacity="0.54" clip-path="url(#cC20)"/>
<path d="M480.6 122.8l-1.3 0-1.7-1-1.1-1-1.3-1.8-0.8-2-0.8-4-0.1-3.4 0.4-1.3 0.7-1.6 0.6-0.9 1.4-1.2 1.4-0.7 1-0.3 4-0.1 2-0.4 2.6 0.3 1 0.6 0.9 1.3 0.8 0.7 0.5 1.2 0.8 1.4 0.2 1 0.1 1.4 0.5 1 0.2 0.8 0.2 2.8-0.4 1.2-0.3 0.8-1.1 1.2-1.2 0.9-2.8 0.9-1.2 1-1.7 0.2-2.1 0.7-1.4 0.3z" fill="none" stroke="#000" stroke-width="0.5" stroke-opacity="0.55" clip-path="url(#cC20)"/>
<path d="M480.3 122.8l-0.7 0-0.6-0.1-1.7-1.2-1.4-1.5-0.8-1.2-0.9-2.8-0.6-3.2 0-3.2 0.3-1.3 0.8-1.7 0.9-1.1 1-0.8 1.4-0.8 1-0.2 4-0.2 2.3-0.4 2.3 0.3 1 0.6 0.9 1.3 0.8 0.7 0.5 1.3 0.8 1.3 0.2 1 0 1.4 0.6 1 0.2 0.8 0.1 2.5-0.3 1.5-0.4 0.8-1 1.2-1.2 0.9-2.8 0.9-1.2 0.9-1.5 0.2-1.3 0.3-1 0.5-1.7 0.3z" fill="none" stroke="#000" stroke-width="0.5" stroke-opacity="0.57" clip-path="url(#cC20)"/>
<path d="M481 121.6l-1.4 0.1-1.3-0.5-1-0.7-1.4-1.7-0.8-1.8-0.9-4 0-2.7 0.3-1.7 0.7-1.6 0.6-0.7 1.2-1.1 1-0.5 1.3-0.3 4.3-0.1 1.7-0.3 2.3 0.3 2 2 0.9 1.7 0.5 1.8 0 1 0.7 1.5-0.1 1.3 0.4 1.4-0.3 1.3-1.4 2-0.7 0.6-1.6 0.7-1.4 0.2-1.3 0.7-4.3 1.1z" fill="none" stroke="#000" stroke-width="0.5" stroke-opacity="0.59" clip-path="url(#cC20)"/>
<path d="M480 121.3l-1-0.2-1.4-0.8-1.2-1.3-0.8-1.4-0.7-2.6-0.4-2.2-0.1-2.2 0.3-1.8 0.7-1.5 0.6-0.7 1-1 1-0.6 1.8-0.3 2.8-0.2 1.2 0.2 1.2-0.1 1.3 0.2 1 0 2 1.5 0.3 0.5 0.5 1 0.3 2 0 1 0.7 1 0.2 0.5-0.1 1.3 0.3 1.4-0.3 1.3-1.4 2-1.5 0.9-1.7 0.3-3.7 1.1-1.1 0.4-1.8 0.3z" fill="none" stroke="#000" stroke-width="0.5" stroke-opacity="0.61" clip-path="url(#cC20)"/>
<path d="M480.6 120.6l-1.3-0.1-1.3-0.7-1.3-1.2-0.7-1.6-1-3.7-0.1-2.3 0.2-1.7 0.8-1.7 0.8-1 1.1-0.8 0.8-0.3 1.7-0.2 2.5-0.2 1.8 0.1 3.7 0.9 0.6 0.5 0.5 0.7 0.2 0.7 0.1 2.8 1 1.5-0.2 1.5 0.2 1.2-0.3 1-1.4 2-1 0.8-2.7 0.3-1.3 0.6-1.2 0.2-1.2 0.5-1 0.2z" fill="none" stroke="#000" stroke-width="0.5" stroke-opacity="0.62" clip-path="url(#cC20)"/>
<path d="M481.3 120.3l-1.5 0.1-1.2-0.4-1.6-1.2-0.8-1.5-0.8-2.7-0.4-1.8 0-1.5 0.1-1.7 0.8-1.8 0.7-0.9 1.2-1 0.8-0.2 1.7-0.3 2.5-0.2 1.8 0.1 3.7 1 0.6 0.5 0.4 0.8 0.3 3.2 0.9 1.5-0.2 1.5 0.2 1.2-0.2 0.8-1.3 2-1 0.9-0.4 0.1-2.6 0.2-1 0.6-1.2 0.2-1.5 0.5z" fill="none" stroke="#000" stroke-width="0.5" stroke-opacity="0.64" clip-path="url(#cC20)"/>
<path d="M480.8 119.8l-1 0-0.5-0.1-1.7-1.1-0.6-0.8-0.9-2-0.6-3-0.1-1.8 0.2-1.2 0.8-2 1.2-1.1 1-0.5 2.4-0.3 1.6 0.2 1-0.4 2 0.3 0.4 0.1 1 0.7 1.2 0.2 0.4 0.4 0.3 0.9 0.2 0.7 0 1.3 0.8 2.3-0.2 1 0 1.4-0.5 1-0.8 1-0.4 0.8-0.4 0.4-2.6 0.3-1.2 0.7-1.2 0.1-1 0.4-0.8 0.1z" fill="none" stroke="#000" stroke-width="0.5" stroke-opacity="0.66" clip-path="url(#cC20)"/>
<path d="M481.3 119.3l-1.3 0.1-0.7-0.2-1.3-0.9-1-1.3-0.6-1.4-0.3-1.3-0.4-3 0.2-1.3 1-2.2 0.7-0.6 0.7-0.4 2.7-0.5 1.6 0.3 1.2-0.5 1.8 0.2 0.7 0.5 1 1.6 0.3 0.2 0.7 0.1 0.3 0.3 0.2 1.3 0.6 2-0.2 2.3-0.6 1.3-1.4 1.7-2.4 0.6-1 0.7-1.5-0.1-1 0.5z" fill="none" stroke="#000" stroke-width="0.5" stroke-opacity="0.68" clip-path="url(#cC20)"/>
<path d="M481 119.3l-1.2 0.1-0.8-0.3-1.2-1-0.8-1.3-0.7-1.5-0.3-1.3-0.3-2.7 0.2-1.3 1-2.2 0.7-0.6 0.7-0.4 2.7-0.5 1.6 0.3 1.2-0.5 1.8 0.2 0.7 0.6 1 1.5 0.3 0.2 0.7 0.1 0.3 0.3 0.2 1.3 0.6 2-0.2 2.3-0.6 1.3-1.4 1.7-2.4 0.6-1 0.7-0.5 0-1-0.1-1.3 0.5z" fill="none" stroke="#000" stroke-width="0.5" stroke-opacity="0.70" clip-path="url(#cC20)"/>
<path d="M480.6 119.1l-1-0.2-1-0.6-1-1.2-0.7-1.1-0.5-1.4-0.3-2-0.1-1.6 0.2-1 1.1-2.1 0.5-0.5 0.5-0.2 2.7-0.6 1.6 0.4 1.2-0.4 1.8 0.2 0.7 0.7 0.7 1.4 1.2 0.9 0.4 1 0.5 1.8-0.8 2.4-1.1 1.8-0.5 0.5-0.9 0.3-1.2 0.2-1 0.7-1-0.4-2 1z" fill="none" stroke="#000" stroke-width="0.5" stroke-opacity="0.71" clip-path="url(#cC20)"/>
<path d="M480.8 118.6l-0.8 0.2-0.7-0.4-1.5-1.5-0.5-0.8-0.6-1.3-0.2-1-0.3-2.5 0.3-1.3 1.1-2 0.4-0.4 0.6-0.2 2.4-0.5 1.6 0.3 1-0.1 1.7 0.1 0.5 0.4 1 1.4 1 0.8 0.5 0.8 0.1 1 0.3 1-0.1 0.5-0.6 0.5-0.2 1.4-0.6 0.8-0.4 0.9-0.5 0.4-0.7 0.2-1-0.1-1 0.4-1 0-1.8 1z" fill="none" stroke="#000" stroke-width="0.5" stroke-opacity="0.73" clip-path="url(#cC20)"/>
<path d="M480.6 118.4l-0.8 0-0.8-0.6-1.2-1.4-0.8-1.4-0.3-1-0.2-2.2 0-0.8 0.2-0.7 1.3-2.2 0.8-0.5 2.2-0.4 1.8 0.3 2.2 0.1 0.6 0.3 1.1 1.4 1 0.7 0.3 0.6 0 0.4-0.4 0.8 0.5 0.8-0.7 0.7 0.1 1.5-0.6 0.8-0.4 1-0.5 0.3-0.4 0.1-1.3-0.2-1.5 0.3-2.2 1.3z" fill="none" stroke="#000" stroke-width="0.5" stroke-opacity="0.75" clip-path="url(#cC20)"/>
<path d="M480.6 118.1l-0.6 0-0.6-0.3-1.4-1.6-0.8-1.4-0.3-0.8-0.2-2.2 0-0.8 0.2-0.7 1.4-2 0.5-0.4 0.8-0.2 1.7-0.3 2.5 0.7 1 0.1 2.6 1.8 0.3 0.6-0.1 0.4-0.4 0.8 0 0.8-0.4 1 0.2 1-0.4 0.7-0.2 0.7-0.4 0.6-0.4 0.1-1.3-0.3-1 0.2-1 0.4-1.7 1.1z" fill="none" stroke="#000" stroke-width="0.5" stroke-opacity="0.77" clip-path="url(#cC20)"/>
<path d="M480.8 117.9l-0.8 0.1-0.4-0.3-1.5-1.7-0.8-1.2-0.3-1-0.2-2.2 0.2-1.3 1.5-2 1.1-0.5 1.4-0.3 1.8 0.4 2.8 1 1.6 1.1 0.4 0.6 0 0.3-0.6 0.8 0 0.9-0.5 1.2-0.2 2-0.2 0.5-0.5 0.2-1.3-0.2-1 0.2-1.3 0.6-1.2 0.8z" fill="none" stroke="#000" stroke-width="0.5" stroke-opacity="0.79" clip-path="url(#cC20)"/>
<path d="M480.6 117.8l-0.6 0-0.4-0.2-0.6-0.9-0.7-0.7-1-1.4-0.3-1.6-0.1-1.4 0.3-1.3 1.4-1.8 1-0.6 1.2-0.2 1.8 0.3 1.4 0.7 1.3 0.3 1.7 1 0.4 0.6 0 0.2-0.5 0.8-0.2 1.2-0.6 1.2-0.1 2.1-0.4 0.3-1-0.3-1 0-3 1.7z" fill="none" stroke="#000" stroke-width="0.5" stroke-opacity="0.80" clip-path="url(#cC20)"/>
<path d="M480.6 117.6l-0.6 0-0.2-0.2-0.3-0.8-1-0.8-0.9-1.2-0.3-0.7-0.2-1.6 0.1-1.3 0.3-0.7 1.1-1.4 1-0.8 1.2-0.2 1 0.4 1 0.1 1 0.6 1.2 0.2 1.9 1.1 0.2 0.3-0.5 0.7 0 1.3-0.9 1.4 0.1 1.8-0.2 0.2-0.3 0-1.6-1-0.4 0-0.2 0-0.1 0.8-0.5 0.5-1.9 1.3z" fill="none" stroke="#000" stroke-width="0.5" stroke-opacity="0.82" clip-path="url(#cC20)"/>
<path d="M480.8 117.3l-0.5 0.1-0.3-0.1-0.1-0.3-0.2-0.7-0.9-0.6-1-1.1-0.4-0.8-0.2-1.5 0.1-1.2 0.5-1.1 0.8-0.9 0.6-0.5 0.6-0.4 0.5-0.1 0.8 0.2 0.3 0.5 0 0.8 0.3 0.2 0.6 0.1 0.4-0.1-0.6-0.8 0-0.2 0.5-0.3 1 0.7 1.4 0.2 0.6 0.4 0.2 0.4 0.5 0.1 0.3 0.3-0.3 0.3-0.5-0.3 0 0.2 0.2 0.2 0.3 0.5 0.1 0.8-0.1 0.5-0.7 1-0.3 1.4-0.3 0.1-1.4-0.6-0.6 0-0.2 0.2-0.1 0.7-0.2 0.4-1.7 1.3z" fill="none" stroke="#000" stroke-width="0.5" stroke-opacity="0.84" clip-path="url(#cC20)"/>
<path d="M480.8 117.1l-0.2 0.1-0.4-0.2-0.2-1-1.1-0.4-1.1-1.3-0.3-0.7-0.2-1.3 0.1-1 0.6-1.3 0.8-0.9 1-0.7 0.5-0.1 0.5 0.1 0.2 0.2 0.1 1 0.2 0.4 0.9 0.3 0.6 0 0.5-0.7 0.3-0.1 1-0.1 0.4 0.2 0.4 0.4 0 0.8 0.6 0.8 0.3 0.7-0.1 0.5-0.8 1-0.4 0.9-0.4 0.1-1.3-0.3-0.5 0-0.2 0.3-0.4 1.2-1.4 1.1z" fill="none" stroke="#000" stroke-width="0.5" stroke-opacity="0.86" clip-path="url(#cC20)"/>
<path d="M481 116.6l-0.2 0.1-0.2-0.1-0.1-0.6-0.2-0.2-1.2-0.5-0.5-0.7-0.6-0.4-0.3-0.6-0.2-1 0-1 0.7-1.6 0.6-0.6 1.5-0.9 0.3 0.1 0.2 0.2 0.1 1.2 0.3 0.3 1.1 0.4 0.7 0.1 0.3-0.2 0.5-0.8 0.5-0.2 0.5 0.2 0.2 0.2 0 0.8 0.9 1 0.2 0.5-0.2 0.5-0.7 0.8-0.4 0.7-0.5 0.2-1.3-0.3-0.4 0.2-0.7 1.6-0.9 0.6z" fill="none" stroke="#000" stroke-width="0.5" stroke-opacity="0.88" clip-path="url(#cC20)"/>
<path d="M481.3 116.1l-0.3 0-0.6-0.5-1.2-0.6-0.4-0.6-0.8-0.6-0.4-1.2 0.1-1 0.7-1.6 0.4-0.4 1.5-0.7 0.2 0.1 0 0.8 0.2 0.5 1.3 0.7 1.8 0.3 0.5-0.5-0.3-0.5 0.1-0.3 0.5 0-0.1 0.8 1.2 1 0.2 0.5-0.2 0.5-0.7 0.6-0.4 0.7-0.6 0.1-1-0.2-0.4 0.1-0.4 0.5-0.6 1.2-0.3 0.3z" fill="none" stroke="#000" stroke-width="0.5" stroke-opacity="0.89" clip-path="url(#cC20)"/>
<path d="M481.3 115.5l-0.5-0.1-1-0.4-0.3-0.2-0.2-0.8-1-0.3-0.3-0.4-0.2-1 0.1-0.7 0.5-1.3 0.6-0.6 1-0.1 0.6 0.8 0.7 0.5 0.7 0.6 0.8-0.1 1 0.2 1-0.2 0.8 0.6 0.1 0.3-0.1 0.4-0.9 0.6-0.4 0.6-0.5 0-1-0.1-0.5 0.2-1 1.5z" fill="none" stroke="#000" stroke-width="0.5" stroke-opacity="0.91" clip-path="url(#cC20)"/>
<path d="M481 115.1l-0.4 0-0.6-0.3-0.1-0.2-0.1-1-0.2-0.2-1 0-0.3-0.1-0.2-0.5-0.1-0.8 0.2-1 0.4-0.7 0.4-0.4 0.8 0.1 0.5 0.6 1 0.6 0.5 1.2 0.7-0.6 0.3-0.1 1 0.2 1-0.2 0.5 0.4 0 0.5-0.7 0.3-0.7 0.7-1.3 0-0.6 0.1-0.5 1.1-0.5 0.3z" fill="none" stroke="#000" stroke-width="0.5" stroke-opacity="0.93" clip-path="url(#cC20)"/>
<path d="M480.6 113.4l-1-0.2-0.8 0-0.2-0.1-0.3-0.3-0.2-0.8 0.2-0.7 0.3-0.7 0.4-0.5 0.6 0 0.7 0.7 0.7 0.4 0.3 0.4 0.1 0.4-0.1 0.6-0.5 0.7-0.2 0.1z M483.3 113.3l-1-0.1-0.2-0.2 0.1-0.4 0.4-0.6 0.4-0.1 1.8 0.4-0.5 0.3-0.5 0.5-0.5 0.2z M481 114.8l-0.5 0-0.3-0.2-0.1-0.3 0.2-0.4 0.5-0.6 0.6 0.3 0.1 0.2-0.2 0.8-0.3 0.2z" fill="none" stroke="#000" stroke-width="0.5" stroke-opacity="0.95" clip-path="url(#cC20)"/>
<path d="M480.3 112.9l-1.5-0.1-0.3-0.2-0.1-0.6 0.1-0.7 0.3-0.7 0.2-0.2 0.6 0.1 1.4 1.1 0.1 0.2-0.1 0.5-0.2 0.3-0.5 0.3z M483.3 112.8l-0.6 0 0-0.2 0.1-0.3 0.5 0 0.2 0.3-0.2 0.2z" fill="none" stroke="#000" stroke-width="0.5" stroke-opacity="0.96" clip-path="url(#cC20)"/>
<path d="M480 112.8l-1 0-0.4-0.3-0.2-0.5 0-0.4 0.3-0.8 0.3-0.3 0.4 0.1 0.6 0.4 0.8 0.4 0.2 0.4-0.2 0.7-0.8 0.3z M483.3 112.6l-0.3 0.2-0.2-0.2 0.2-0.2 0.3 0.2z" fill="none" stroke="#000" stroke-width="0.5" stroke-opacity="0.98" clip-path="url(#cC20)"/>
<clipPath id="cC01"><rect x="238.0" y="161.5" width="75.10000000000002" height="74.69999999999999"/></clipPath>
<path d="M246.3 236.5l-0.8-2.3-0.6-2.2-0.4-2.5-0.2-2.5 0.1-2.5 0.2-2.3 0.5-2.2 0.7-2.2 1-2.3 1.1-1.7 1.1-1.6 1.3-1.2 1.5-1 1.4-0.6 1.8-0.4 1.8-0.1 4 0.4 5.2 1.3 2 1 1 0.7 1 1.2 1.2 1.7 0.8 2 0.7 3 0.4 2.8 0.1 3.5-0.3 3.7-0.4 2-0.9 2.8-0.6 1.5" fill="none" stroke="#000" stroke-width="0.5" stroke-opacity="0.50" clip-path="url(#cC01)"/>
<path d="M249 236.5l-1-2-0.7-2.3-0.5-2.4-0.2-2.8 0.1-2.5 0.4-2.5 0.6-2.2 0.9-2 0.9-1.6 1-1.2 1-0.9 1.3-0.8 1.7-0.7 2.7-0.4 3-0.8 1.6-0.1 4 0.4 1.2 0.4 1.2 0.7 0.8 0.7 1.2 1.5 1.2 2.8 0.4 2.2 0.4 4.2-0.2 5.6-0.3 3-0.8 2.2-0.8 1.5" fill="none" stroke="#000" stroke-width="0.5" stroke-opacity="0.52" clip-path="url(#cC01)"/>
<path d="M253.3 236.5l-1.3-0.8-1-1.2-1-1.7-0.6-2-0.4-2.3-0.1-2.3 0.2-2.2 0.6-2.2 1.2-2.6 0.7-1 0.8-0.7 2.8-1.6 3.3-2.6 2-1 1-0.2 1.5 0.2 2.8 0 0.7 0.2 1.5 0.9 1.6 1.8 0.5 1.3 0.8 1.3 0.7 4.4 0.2 2.8 0 1-0.2 1.2-0.1 2.8-0.3 2.5-0.6 1.7-0.5 1.3-0.8 1" fill="none" stroke="#000" stroke-width="0.5" stroke-opacity="0.54" clip-path="url(#cC01)"/>
<path d="M257.6 236.5l-1.1-1.3-1.3-1.1-2.2-1.5-1-1.3-0.6-1.3-0.4-1.8-0.1-1.7 0.2-1.5 0.4-1.8 0.7-1.4 0.7-0.8 1.3-1.4 2.7-4.1 1.3-0.9 0.8-0.8 1.8-1 0.7-0.1 2.5 0.3 1.8-0.2 0.7 0.2 1 0.6 0.5 0.4 0.4 0.8 0.8 0.7 0.5 1.3 0.7 0.7 0.3 0.5 0.1 1.5 0.4 2.3 0.1 2.4 0.2 1.6-0.2 1.4-0.1 3-0.3 2.3-0.7 2-0.7 1.2-0.8 0.8" fill="none" stroke="#000" stroke-width="0.5" stroke-opacity="0.57" clip-path="url(#cC01)"/>
<path d="M257.9 236.5l-2-2.3-0.9-1.2-1.8-1.6-0.7-1.1-0.4-1.1-0.3-1.2 0-2.5 0.3-1.3 0.5-1.2 1.6-2.1 0.9-2.1 2-3.3 1.2-0.7 0.9-1 1.6-0.8 0.7-0.2 2.7 0.4 1.8-0.2 1.5 0.7 0.4 0.3 0.4 0.8 0.8 0.7 0.4 1.3 0.7 0.6 0.4 0.6 0.1 1.8 0.5 2 0 2.4 0.2 1.6-0.3 2.7 0.1 1.7-0.4 2-0.8 2.6-0.6 1-0.9 0.7" fill="none" stroke="#000" stroke-width="0.5" stroke-opacity="0.59" clip-path="url(#cC01)"/>
<path d="M260.2 236.5l-1.2-0.7-0.7-0.6-1.6-3-0.2-1.2-0.4-1.2-0.2-1.8 0.2-3.5-0.1-2.5 1-4 0.8-0.7 0.6-1.3 0.8-0.9 1.6-1 0.7-0.2 1 0.3 1 0 1.3 0.4 1.4-0.1 0.6 0.1 1.1 1.2 0.6 1.2 1 1 0.2 0.5 0.6 3 0 3.3 0.3 1.2-0.2 2.5 0.1 1.7-0.7 2-1 1.6 0 0.7-0.2 0.5-0.8 0.7-1.4 0.8 M263.8 236.5l-0.6-0.1-0.2 0.1" fill="none" stroke="#000" stroke-width="0.5" stroke-opacity="0.61" clip-path="url(#cC01)"/>
<path d="M260.7 236.5l-2.1-1.3-1.7-3-0.2-1.2-0.4-1.2-0.2-1.8 0.1-3.8 0-2.2 0.1-1 0.5-1 0.2-1.5 1-1.2 0.5-1.1 1-1 1.3-0.8 0.7-0.2 0.7 0.3 1-0.1 1.6 0.4 1.4-0.1 0.8 0.3 0.9 1 0.6 1.2 0.9 1 0.8 3.3 0 3.3 0.3 1.4-0.3 2.3 0.1 1.7-0.7 2-0.4 0.6-0.8 0.4-0.1 0.3 0.3 0.7-0.1 0.6-0.8 0.7-1.6 1 M264.2 236.5l-1-0.3-0.5 0.3" fill="none" stroke="#000" stroke-width="0.5" stroke-opacity="0.63" clip-path="url(#cC01)"/>
<path d="M265.5 236.1l-0.5 0-1.8-0.5-0.4 0.1-0.8 0.3-0.3 0-0.3-0.2-0.4-0.8-1.5-0.6-0.7-0.6-1.3-2-0.5-2.3-0.1-1.5 0.2-1.5-0.3-1.7 0.3-1.6-0.2-1 0.1-1 0.4-1 0.3-1 0.7-0.7 0.1-1 0.5-0.9 0.5-0.5 1.5-0.7 1.2 0.1 1-0.2 1 0.3 1.6-0.2 0.7 0.1 0.5 0.5 0.9 1.5 0.8 1 0.5 1.3 0.1 1.2 0.3 1-0.1 1.8 0.5 2.7-0.3 2 0 1.7-0.7 1.8-1.3 1-0.2 1.8-2 1.3z M262.6 221.2l0.1-0.2-0.2-0.3-0.3-0.1-0.2 0.2 0.2 0.4 0.4 0z" fill="none" stroke="#000" stroke-width="0.5" stroke-opacity="0.65" clip-path="url(#cC01)"/>
<path d="M265.5 235.6l-0.5 0.1-1.5-0.4-1.3 0.1-0.2-0.2-0.5-0.8-1-0.2-1.3-0.5-0.7-0.9-1-3.1-0.2-1.9 0.4-1.6-0.5-1.2-0.1-0.5 0.4-0.6 1.1-0.4-0.1-0.3-0.7-0.4-0.2-0.3-0.2-1.3 0.8-1.7 0.8-0.5-0.1-1 0.1-0.7 0.5-0.6 0.5-0.3 0.6 0.1 0.4 0.6 0.5 0.2 0.5-0.3 0.5-0.6 0.5-0.3 3.1-0.1 0.3 0.2 1.2 1.6 0.7 0.7 0.6 1.3 0 0.7-0.5 0.7 0.1 0.3 0.6 0.5 0 1.8 0.5 1.4 0 1.6-0.5 3.7-0.5 1.3-1.1 1-0.5 1.3-0.5 0.4-0.5 0.7-0.5 0.4z M263.1 221.5l0-0.5-0.4-0.5-0.5-0.2-0.4 0.2-0.1 0.5 0.5 0.6 0.6 0.1 0.3-0.2z M264.3 224l-0.2 0 0.2 0z" fill="none" stroke="#000" stroke-width="0.5" stroke-opacity="0.67" clip-path="url(#cC01)"/>
<path d="M265.5 235.5l-0.7 0.1-1.3-0.3-1.3 0-0.7-1-1-0.1-1.3-0.5-0.4-0.5-0.4-0.7-0.9-3-0.2-1.7 0.4-1.6-0.5-1.2 0-0.5 0.3-0.5 1.2-0.5-0.1-0.3-0.6-0.3-0.4-0.4-0.1-1.3 0.7-1.6 0.8-0.6-0.1-1 0.1-0.6 0.5-0.6 0.5-0.3 0.5 0 0.5 0.7 0.5 0.1 0.6-0.3 0.7-0.6 0.4-0.3 1.3 0.1 1.5-0.1 0.3 0.1 2 2.3 0.6 1.3 0 0.7-0.6 0.7 0.1 0.3 0.6 0.4 0.1 0.3 0 1.6 0.4 1 0.1 0.4 0 1.6-0.5 3.7-0.6 1.3-1 1-0.5 1.2-1.5 1.5z M262.8 221.8l0.3-0.3 0-0.5-0.6-0.6-0.5-0.1-0.4 0.5 0.2 0.3 0.4 0.5 0.6 0.2z M264.4 224l-0.2-0.2-0.2 0.1 0 0.1 0.2 0.2 0.2-0.2z" fill="none" stroke="#000" stroke-width="0.5" stroke-opacity="0.70" clip-path="url(#cC01)"/>
<path d="M265 235.3l-1.2-0.3-1.3 0-1-1.2-1.3 0.1-1-0.5-0.4-0.6-0.2-1.6-0.9-2-0.2-1.7 0.5-1 0.1-0.5-0.6-1 0-0.5 0.3-0.3 1-0.3 0.4-0.4-0.1-0.3-1-0.7-0.2-0.5 0-0.5 0.1-0.4 0.5-0.4 0.8 0.1 0-0.3-0.5-0.5 0.4-0.6 0.2-0.4-0.2-1.2 0.3-0.6 0.5-0.3 0.2 0.1 0.8 0.6 0.5 0 0.5-0.1 1.5-0.9 2.3-0.1 0.4 0.3 2 2 0.5 1-0.1 0.7-0.6 0.7 0 0.3 0.8 0.8 0 1.5 0.6 1.2-0.2 2.8-0.6 3-0.3 0.7-1 1.3-0.5 1-0.8 0.5-0.5 0.7-0.5 0.3z M263.2 221.8l0.1-0.6-0.4-0.7-0.7-0.4-0.4 0.2-0.3 0.5 0.2 0.4 0.3 0.5 0.5 0.3 0.7-0.2z M264.7 224.5l0.3-0.3-0.3-0.4-0.7-0.3-0.4 0.3 0.1 0.4 0.3 0.3 0.2 0.1 0.5-0.1z M266.4 225.2l0.2-0.2-0.1-0.5-0.5-0.4-0.4 0.1-0.1 0.3 0.1 0.7 0.4 0.2 0.4-0.2z M262.6 224.5l-0.1-0.1 0 0.3 0.1-0.2z" fill="none" stroke="#000" stroke-width="0.5" stroke-opacity="0.72" clip-path="url(#cC01)"/>
<path d="M263.5 234.8l-0.5 0.1-0.5-0.1-1-1.3-0.3-0.1-0.4 0.3-0.6 0-0.7-0.3-0.4-0.4-0.2-0.5-0.1-1.5-1.1-2.5 0-1 0.8-1.5-0.1-0.2-0.5-0.6-0.2-0.4 0.3-0.5 2-0.8-1.5-1-0.2-0.3-0.1-0.4 0.3-0.5 0.7 0 0.6-0.5-0.3-1 0.1-0.8-0.2-1 0.2-0.5 0.4-0.2 1 0.5 0.8 0 0.7-0.2 1-0.6 2-0.2 0.5 0.2 0.8 0.6 1.2 1.2 0.5 0.7 0 0.7-0.6 0.8-0.1 0.2 0.7 1.3 0.2 1.3 0.5 1.2-0.2 1.8 0 1-0.9 3.7-0.9 1.1-0.4 0.9-1.8 1.1-0.8 0-0.7 0.2z M263.2 222l0.3-0.5-0.3-0.8-0.7-0.7-0.3-0.1-0.4 0.2-0.5 0.7 0.2 0.4 0.7 0.9 0.3 0.1 0.7-0.2z M265.4 225.8l1-0.3 0.4-0.4-0.1-0.6-0.5-0.5-1-0.1-1.2-0.6-0.5 0.1-0.5 0.6-0.5-0.3-0.3 0.2-0.1 0.6 0.1 0.4 0.3 0.2 0.3 0.1 0.2-0.2 0.2-0.7 0.8 0.7 0.2 0.7 0.3 0.1 0.9 0z M263.2 228.2l0-0.4-0.2-0.7-0.2 0.2-0.2 0.7 0.2 0.4 0.2 0.1 0.2-0.3z" fill="none" stroke="#000" stroke-width="0.5" stroke-opacity="0.74" clip-path="url(#cC01)"/>
<path d="M263.5 234.6l-0.5 0.1-0.5-0.1-1-1.5-1.3 0.4-0.6-0.3-0.4-0.4-0.1-1.8-1.1-2.2-0.2-0.8 0.2-0.8 0.5-0.7 0.3-0.7-0.1-0.3-0.7-0.5-0.1-0.2 0.3-0.4 1.3-0.4 0.6 0 0.2-0.2-0.1-0.6-1.3-0.7-0.3-0.5 0.2-0.2 0.7-0.4 0.5-0.6-0.3-1 0-1.6 0.1-0.4 0.2-0.1 0.2 0 1 0.3 1 0.1 0.3 0.1 0.3 0.7 0.2 0 0.2-0.1 0-0.3-0.3-0.5 0.3-0.5 0.6-0.2 1.7-0.2 0.7 0.4 1.6 1.2 0.5 0.8 0.1 0.7-0.6 0.7-0.1 0.3 0.6 1.3 0.2 1.3 0.6 1.2-0.3 1.5 0 1.3-0.9 3.7-1.2 1.7-0.2 0.3-0.7 0.4-1.5 0.1-0.8 0.6z M263.1 222.2l0.5-0.4-0.1-0.9-0.7-1-0.3-0.2-0.5 0.1-0.8 0.7 0 0.5 1 1.3 0.3 0.1 0.6-0.2z M263 228.8l0.4-0.6 0-1.2 0.4-0.7 2.4-0.5 0.5-0.3 0.2-0.3 0-0.7-0.7-0.7-1-0.1-1-0.5-0.4-0.1-0.8 0.3-0.5 0-0.3 0.2-0.2 0.6 0.1 0.8 0.4 0.4 1 0.1-0.1 0.5-0.6 0.8-0.4 1 0.2 0.7 0.2 0.2 0.2 0.1z" fill="none" stroke="#000" stroke-width="0.5" stroke-opacity="0.76" clip-path="url(#cC01)"/>
<path d="M263.2 234.5l-0.4 0-0.4-0.3-0.9-1.6-0.7 0.6-0.6 0.2-0.4-0.2-0.4-0.4-0.2-1.8-0.5-1.5-0.6-1-0.1-0.5 0-0.5 1.1-1.7-0.1-0.5-0.6-0.3-0.1-0.2 0.2-0.3 0.7-0.3 1 0 0.3-0.2 0-0.5-0.3-0.4-0.8-0.6-0.2-0.3 0-0.2 1-1.2-0.3-1 0-1.3 0.1-0.4 0.5-0.1 1.5 0.3 0.4 0.7 0 0.2-0.2 0.3-1 0.7-0.2 0.6 1.4 2 0 0.2-0.5 1-0.1 0.5 0.2 0.6 0.9 0.9-0.5 1.2-0.1 0.8 0.5 1 0.2 0.1 0.5-0.6 0.1-1.5 0.4-0.5 0.5-0.2 1.3-0.3 1.1-0.5 0.2-0.7-0.2-0.6-0.4-0.4-0.5-0.2-0.8-0.1-1.2-0.6-1 0-0.1-0.1 0.6-0.6 0.2-0.4-0.1-0.8-0.7-1.2 0-0.3 0.7-0.7-0.1-0.8 0.1-0.2 0.4-0.2 1.5-0.2 0.5 0.2 1.6 1.2 0.6 0.7 0 0.6-0.5 0.7-0.1 0.4 0.5 1.3 0.3 1.3 0.5 1 0 0.4-0.4 1 0.1 1.6-0.4 1.7-0.4 1-0.2 1.3-1.4 1.7-0.7 0.2-1-0.2-1.3 1z M265.4 218.8l-0.3 0 0.1 0.1 0.2-0.1z" fill="none" stroke="#000" stroke-width="0.5" stroke-opacity="0.78" clip-path="url(#cC01)"/>
<path d="M264.5 218.6l-0.3 0.1-0.2-0.2 0-0.5 1.2-0.3 0.7 0.3-0.1 0.2-0.8 0.1-0.5 0.3z M260.8 220.6l-0.3-0.1-0.3-0.4-0.1-0.6 0-1 0.1-0.2 0.3-0.1 1.3 0.2 0.3 0.6-0.2 0.5-1.1 1.1z M263.2 234.4l-0.4 0-0.6-0.6-0.3-0.8 0-0.8-0.1-0.2-0.3 0.1-0.7 0.9-0.3 0.2-0.5 0-0.3-0.2-0.3-0.5 0-1.5-0.6-1.8-0.6-1 0-0.4 1-2 0-0.6-0.3-0.4 0.3-0.4 1.3-0.1 0.2-0.3-0.2-0.8-1-1 0.2-0.4 0.8-1 0.3 0 0.4 0.6 0.9 1.4-0.4 1.7 0.3 0.7 0.6 0.8-0.5 2 0.2 0.5 0.5 0.8 0.2 0 0.2-0.2 0.4-0.6 0.1-1.3 0.3-0.5 0.5-0.3 2-0.5 0.5-0.3 0.2-0.8-0.5-1-0.5-0.3-1.2-0.2-1.2-0.8 0-1.3-0.6-1.4 0.1-0.3 0.9-0.7 0.6 0.3 0.7 0.1 0.4-0.2 0.3-0.5 0.6 0.1 1 0.5 0.3 0.7-0.1 0.4-0.4 0.6-0.1 0.4 0.5 1.3 0.3 1.5 0.5 1 0 0.4-0.5 0.8 0.1 1.6-0.3 1.4-0.5 1.3 0 0.7-0.2 0.6-1.1 1.4-0.3 0.3-0.5 0-0.7-0.4-0.3 0.1-1.3 1.2z M265.7 229.5l0.1-0.3-0.3-0.1-0.3 0.1-0.2 0.3 0.2 0.2 0.5-0.2z" fill="none" stroke="#000" stroke-width="0.5" stroke-opacity="0.80" clip-path="url(#cC01)"/>
<path d="M261 220.1l-0.2 0.1-0.3-0.1-0.2-0.3 0-1 0.2-0.4 1 0.1 0.3 0.3 0.1 0.2-0.2 0.5-0.7 0.6z M263 234.3l-0.5-0.3-0.4-0.5-0.1-0.7 0.1-0.8-0.1-0.3-0.5 0.1-1 1.2-0.5 0-0.3-0.2-0.1-1.6-0.5-1.7-0.7-1.5 0-0.2 0.4-0.5 0.6-1.5 0-1 0.4-0.2 0.7-0.1 0.3-0.3-0.2-1-0.8-1 0-0.2 0.4-0.7 0.6-0.2 0.6 0.7 0.5 0.7 0.1 0.5-0.5 1.5 0.9 1.7-0.4 1.6 0 0.4 0.7 1.3 0.3 0.1 0.8-1.1 0.1-1.3 0.3-0.4 2.8-1 0.2-0.3 0.1-0.5-0.1-0.8-0.6-0.7-1.8-0.5-0.6-0.5-0.3-1.5-0.5-1.2 0.6-0.5 1.8 0 1-0.4 0.4 0 0.6 0.3 0.2 0.6-0.1 0.4-0.5 0.6 0 0.4 0.4 1 0.4 1.8 0.5 1-0.7 1.2 0.1 1.3-0.2 1 0.1 0.7-0.6 1.3 0 1-0.3 0.5-1.1 1.2-0.5 0.1-0.5-0.4-0.5 0-1 1.1-0.5 0.3z M265.6 229.8l0.4-0.3 0-0.4-0.2-0.2-0.6 0.1-0.3 0.2 0 0.6 0.3 0.1 0.4-0.1z" fill="none" stroke="#000" stroke-width="0.5" stroke-opacity="0.83" clip-path="url(#cC01)"/>
<path d="M261 219.9l-0.2 0-0.3-0.1-0.1-0.6 0.1-0.4 0.5-0.2 0.5 0.1 0.2 0.3-0.2 0.5-0.5 0.4z M263.2 234l-0.4 0.1-0.5-0.6-0.2-0.7 0.2-1-0.3-0.4-0.5 0.1-0.3 0.2-0.7 1.1-0.5 0-0.2-0.3-0.1-1-0.5-2.7 0-0.3 0.3-0.5-0.4-0.8 0-0.4 0.4-1 0.3-1 1-0.2 0.4-0.4-0.6-1.2-0.6-0.8 0-0.2 0.2-0.5 0.6-0.2 0.4 0.4 0.6 0.8 0 0.7-0.5 1 0 0.3 1 1.7-0.4 2 0.6 1.3 0.3 0.3 0.2 0 0.3-0.3 0.6-1 0.1-1.3 0.2-0.3 2.8-0.9 0.3-0.2 0.1-0.6-0.1-1-0.4-0.7-1.9-0.7 0.2-0.6-0.1-0.2-0.6-0.1-0.3-0.2-0.6-1.7 0-0.2 0.6-0.4 1.8 0.1 0.8-0.3 0.4-0.1 0.3 0.1 0.3 0.6 0 0.2-0.5 0.8 0 0.4 0.4 1 0.2 1.6 0.6 1.2-0.8 1.2 0.2 1.3-0.3 0.7 0.2 1-0.6 1.3 0.1 1-0.3 0.5-1 1-0.5 0-0.5-0.4-0.2-0.1-0.6 0.3-1 1.2z M265.3 230l0.9-0.5 0-0.5-0.7-0.3-0.6 0.3-0.2 0.5 0 0.3 0.3 0.2 0.3 0z" fill="none" stroke="#000" stroke-width="0.5" stroke-opacity="0.85" clip-path="url(#cC01)"/>
<path d="M261.2 219.5l-0.4 0.1-0.1-0.4 0.1-0.3 0.2-0.1 0.5 0.2 0 0.2-0.3 0.3z M267.5 224l-0.5-0.6-1.4-0.6-0.4-1-0.7-0.2-0.3-0.2-0.3-1.2 0-0.4 0.9-0.2 1.4 0.2 0.8-0.4 0.5 0.1 0.1 0.5-0.3 0.5-0.1 0.5 0.4 1.5 0 0.7 0.1 0.8-0.2 0z M261.2 223.9l-1-1.7 0-0.4 0.3-0.3 0.5 0.1 0.7 0.9 0 0.7-0.2 0.5-0.3 0.2z M267.8 225.5l-0.2-0.5 0.2-0.9 0.5 0.9-0.1 0.2-0.4 0.3z M263.2 233.9l-0.4 0-0.6-0.7 0-0.4 0.3-1-0.3-0.6-0.4 0-0.5 0.3-0.8 1.1-0.3 0.1-0.2-0.2-0.4-2-0.1-1.5 0.3-1-0.6-1.2 0.8-1.9 1-0.2 0.2 0.1 0.7 1 0.2 0.7-0.4 1.7 0.8 1.6 0.3 0.2 0.5-0.2 0.6-1 0.3-0.6 0-1 0.2-0.2 2.4-0.8 0.4-0.1 0.3 0.4 0.2 1-0.6 1 0.4 0.2 0.2 0.5-0.2 0.6-0.4 0.4 0.1 1-0.1 0.6-1.1 0.9-0.2 0.1-0.8-0.5-0.5 0.1-1.3 1.5z M265.6 230l0.7-0.5 0.2-0.5 0-0.2-1.3-0.2-0.4 0.4-0.3 0.5 0.2 0.5 0.3 0.2 0.6-0.2z" fill="none" stroke="#000" stroke-width="0.5" stroke-opacity="0.87" clip-path="url(#cC01)"/>
<path d="M267.2 223.1l-0.4 0-0.8-0.3-0.6-1-1-0.6-0.4-1 0-0.2 0.2-0.2 0.8-0.1 1.5 0.3 0.5-0.3 0.4 0.1-0.3 1 0.4 1.7-0.3 0.6z M261.2 223.6l-0.9-1.4 0-0.2 0.2-0.3 0.5 0 0.6 0.8 0 0.7-0.4 0.4z M263 233.9l-0.3-0.1-0.4-0.6 0-0.4 0.3-1-0.1-0.5-0.3-0.3-0.4 0-0.5 0.2-0.8 1.1-0.3 0.1-0.1-0.4-0.4-1.5 0.1-0.5 0.3-1 0.8-0.5-0.7-0.4-0.8-1.3 0.5-1.6 0.3-0.2 0.8-0.1 0.2 0.1 0.6 0.8 0.2 0.4-0.1 0.8-0.1 0.6-0.5 0.6 0.7 0.7 0.5 1.1 0.3 0.2 0.4-0.2 0.6-0.8 0.6-1 0-1 0.3-0.2 2.1-0.7 0.4 0.2 0.2 0.3 0 0.7-0.4 0.6-0.8 0.5-1.2-0.1-0.4 0.5-0.2 0.5 0.1 0.5 0.5 0.3 1.2-0.5 0.8-0.9 0.5 0.1 0 0.5-0.5 0.7 0.1 1-0.1 0.6-1 0.6-1-0.3-0.5 0.1-0.5 0.5-0.5 0.8-0.5 0.4z M268 225.1l-0.1-0.1 0.1-0.1 0 0.2z" fill="none" stroke="#000" stroke-width="0.5" stroke-opacity="0.89" clip-path="url(#cC01)"/>
<path d="M267.2 222.8l-0.4 0.1-0.8-0.3-0.5-0.9-1.1-0.7-0.2-0.5 0.1-0.5 0.5-0.2 0.4 0 1.6 0.6 0.6 1.8-0.2 0.6z M261.2 223.3l-0.7-1.1 0-0.2 0.3-0.2 0.3 0.2 0.3 0.5 0.1 0.5-0.3 0.3z M261.2 227.9l-0.4 0.1-0.6-0.2-0.7-1 0.5-1.3 0.2-0.3 0.3-0.1 0.7 0.1 0.6 0.8-0.1 1.2-0.2 0.5-0.3 0.2z M266.5 228.3l-0.7 0.1-0.8-0.4-0.2-0.5 0.1-0.3 1.3-0.7 0.8 0 0.3 0.5-0.1 0.5-0.7 0.8z M263.2 233.6l-0.4 0.1-0.4-0.5 0-0.4 0.4-1-0.3-0.9-0.3-0.1-0.4 0.1-0.6 0.2-0.7 0.7-0.3 0-0.2-0.8-0.1-0.8 0.5-1 0.6-0.3 0.5-0.1 0.5 0.4 0.5 1.2 0.5-0.1 1-0.8 0.5 0.7 0.5 0.2 1.4-0.4 0.5-0.8 0.3-0.1 0.2 0.4-0.6 0.5-0.1 0.2 0.3 1-0.2 0.6-0.6 0.3-1.2-0.2-0.5 0.2-0.5 0.4-0.8 1.1z" fill="none" stroke="#000" stroke-width="0.5" stroke-opacity="0.91" clip-path="url(#cC01)"/>
<path d="M266.8 222.8l-0.6-0.2-0.7-1.1-0.8-0.5-0.2-0.5 0-0.3 0.3-0.2 0.7 0.1 1.3 0.7 0.5 1.4-0.1 0.3-0.4 0.3z M261 222.5l-0.1-0.3 0.1 0 0 0.3z M261.2 227.6l-0.7 0-0.7-0.8 0.5-1.3 0.5-0.2 0.4 0.2 0.3 0.5 0 1.2-0.3 0.4z M266.5 228.1l-0.5 0.1-0.2-0.1-0.5-0.6 0.3-0.5 0.9-0.4 0.4 0.2 0.2 0.4-0.3 0.6-0.3 0.3z M260.8 231.3l-0.3 0.1-0.3-0.2-0.1-0.4 0-0.6 0.7-0.9 0.7-0.3 0.3 0.2 0.2 0.3 0.1 0.7-0.1 0.3-1.2 0.8z M263 233.5l-0.2 0-0.3-0.5 0.4-1-0.1-1.2 0.2-0.3 0.8-0.5 0.2 0 0.8 0.6 1.2-0.3 0.5 0.2 0.3 0.7 0 0.3-0.3 0.3-1.7-0.1-0.9 0.5-0.5 1-0.4 0.3z" fill="none" stroke="#000" stroke-width="0.5" stroke-opacity="0.93" clip-path="url(#cC01)"/>
<path d="M266.8 222.6l-0.6-0.2-0.7-1.2-0.6-0.4-0.1-0.3 0.1-0.3 0.4 0 1.3 0.8 0.5 1-0.1 0.5-0.2 0.1z M261 226lz M261 227.1l-0.3-0.1 0.1-0.1 0.2 0 0 0.2z M266.5 227.8l-0.5 0.2-0.2-0.2-0.1-0.6 0.2-0.2 0.6-0.1 0.2 0.1 0 0.5-0.2 0.3z M260.5 231l-0.3-0.5 0.2-0.5 0.6-0.6 0.5-0.1 0.3 0.5 0 0.4-1.3 0.8z M263 233.3l-0.2-0.1-0.1-0.4 0.6-0.8-0.2-1 0.3-0.5 0.4-0.2 0.2 0.1 0.8 0.5 1-0.3 0.5 0.2 0.2 0.4-0.2 0.3-1.5-0.2-1.3 0.9-0.2 0.8-0.3 0.3z" fill="none" stroke="#000" stroke-width="0.5" stroke-opacity="0.96" clip-path="url(#cC01)"/>
<path d="M266.8 222.5l-0.6-0.2-0.7-1.1-0.6-0.4 0-0.3 0.1-0.2 0.2 0 1.4 0.7 0.5 1-0.1 0.4-0.2 0.1z M266.5 227.8l-0.5 0.1-0.2-0.1 0-0.6 0.2-0.2 0.2-0.1 0.5 0.1 0.1 0.2-0.3 0.6z M261 230.8l-0.5 0.1-0.2-0.1 0-0.6 0.7-0.7 0.5-0.1 0.3 0.4 0 0.4-0.8 0.6z M263.5 232.1l-0.4-1.1 0.4-0.5 0.5-0.1 0.7 0.6 0 0.2-1.2 0.9z M266.2 231.5l-1.1-0.3-0.1-0.2 0.5-0.3 0.5-0.1 0.4 0.4 0.1 0.2-0.3 0.3z M263 233.3l-0.2-0.2-0.1-0.3 0.5-0.6 0.2 0.3 0 0.3-0.4 0.5z" fill="none" stroke="#000" stroke-width="0.5" stroke-opacity="0.98" clip-path="url(#cC01)"/>
<clipPath id="cC11"><rect x="321.5" y="161.5" width="76.19999999999999" height="74.69999999999999"/></clipPath>
<path d="M367.8 236.5l-0.6-2.3-0.5-2.4-0.6-4.8 0-5.5 0.5-5 1-4.3 0.7-2 0.7-1.4 0.9-1.3 0.9-0.9 0.7-0.4 1-0.3 0.7 0.2 0.8 0.3 2.4 2.4 0.8 0.5 0.8 0.3 2 0.4 1.7 1 0.3 0.4 0.5 1.1 1.3 1.7 0.7 1.6 0.1 1.7 0.4 1.3 0.1 2.7-0.1 2.7 0.1 1.6-0.3 1.4 0.1 1.8-0.3 1.5-0.5 1.3-0.1 1-0.3 0.7-0.5 0.7-0.9 0.8-0.8 1-0.7 0.5" fill="none" stroke="#000" stroke-width="0.5" stroke-opacity="0.50" clip-path="url(#cC11)"/>
<path d="M368.9 236.5l-0.8-2-0.5-2-0.7-4.3-0.2-4.7 0.4-5.3 0.3-2 0.5-2 0.5-1.7 0.8-1.7 0.8-1.3 0.8-0.8 0.7-0.5 1-0.3 0.7 0.1 0.8 0.4 2.8 1.7 0.7 0.2 1.7 0.1 0.8 0.3 1.5 1.1 2 3 0.6 1.2 0 1.5 0.5 1.5 0.1 2.2-0.1 3 0.1 1.3-0.4 1.7 0.2 1.3-0.3 2-0.4 1.1-0.2 1.2-0.4 0.7-2 1.9-1.7 1.1" fill="none" stroke="#000" stroke-width="0.5" stroke-opacity="0.52" clip-path="url(#cC11)"/>
<path d="M370 236.5l-1.4-3-0.6-2.3-0.4-2-0.3-5 0.3-5.2 0.5-3.2 0.7-2.3 0.8-1.5 0.6-1.1 0.8-0.7 1-0.6 1-0.2 1.2 0.3 2.3 1.1 1.7 0.1 1 0.2 2 1.4 2.4 3.3 0.2 0.7-0.1 1.3 0.5 1.2 0.1 2.2-0.1 1 0 2 0.2 1.6-0.4 1.3 0 1.4-0.2 2-0.7 2.3-1.6 1.7-2 1.4-1.3 0.5-1.9 0.1" fill="none" stroke="#000" stroke-width="0.5" stroke-opacity="0.54" clip-path="url(#cC11)"/>
<path d="M370.9 236.5l-0.7-0.8-0.9-1.7-1-3-0.5-4.2-0.1-2.6 0.1-4 0.6-4 1.1-3 0.7-1.2 0.8-0.9 1.2-0.7 1-0.2 1.8 0.4 1.5 0.7 1.7 0 0.8 0.1 2.2 1.6 1 1.2 1.3 2-0.1 1.6 0.5 1.2 0.2 2-0.2 1.2 0 1.8 0.3 1.8-0.4 1.2-0.3 3.5-0.8 2-1.5 1.7-1.7 1.3-1 0.4-2.3 0.2-0.9 0.4" fill="none" stroke="#000" stroke-width="0.5" stroke-opacity="0.56" clip-path="url(#cC11)"/>
<path d="M376.5 235l-1.7 0-2 0.2-0.8-0.2-0.5-0.4-1.9-2.8-0.8-3.8-0.1-4.2 0.1-3.3 0.6-3.7 0.7-2 0.4-0.8 1.7-1.7 0.8-0.3 1.2 0.2 1-0.1 1.3 0.3 1.3 0 1.2 0.5 1.2 1.1 1.3 0.8 0.5 1.1 0.7 1.1-0.1 1.5 0.4 1.3 0.3 1.7 0 1-0.2 1.5 0.3 1.8-0.3 2.2-0.6 1.5-0.1 1-1 2-1.1 0.7-0.5 0.9-0.6 0.3-1.2 0-1.5 0.6z" fill="none" stroke="#000" stroke-width="0.5" stroke-opacity="0.58" clip-path="url(#cC11)"/>
<path d="M373.8 235l-1.3 0.1-0.7-0.4-0.6-0.5-1.5-2.4-0.2-0.8-0.6-3-0.2-3.5 0.2-4 0.6-4 0.7-1.7 0.4-0.8 1.6-1.6 0.6-0.3 0.4 0 1 0.3 1-0.2 1.3 0.3 1.5 0.1 1.2 0.6 0.8 0.8 1.5 0.9 0.5 1.1 0.7 1-0.2 1.5 0.4 1.3 0.3 1.7 0 1-0.1 1.5 0.3 1.5-0.3 2.5-0.6 1.2-0.3 1.3-0.4 0.8-0.4 0.9-0.4 0.5-0.8 0.5-0.4 0.8-0.6 0.3-1.4 0.1-1.3 0.5-1.7 0-1 0.1z" fill="none" stroke="#000" stroke-width="0.5" stroke-opacity="0.60" clip-path="url(#cC11)"/>
<path d="M374 234l-1 0.2-0.8-0.2-1.7-2.2-0.4-0.8-0.5-2.5-0.2-2.5-0.1-2.8 0.1-2.4 0.6-2.6 0.2-1.7 0.9-2 1.9-1.3 0.5-0.1 1 0.4 0.7-0.5 0.6 0 2 0.4 1.1 0.6 0.6 0.9 1 0.1 0.5 0.2 1.1 1.8 0.1 0.5-0.1 1.3 0.3 2 0.5 1.4-0.4 1.6 0.4 2-0.3 1 0 1.2-0.6 1-0.2 1-1 2-1 0.6-0.8 0.9-0.2 0.1-2.6 0.4-2.2 0z" fill="none" stroke="#000" stroke-width="0.5" stroke-opacity="0.62" clip-path="url(#cC11)"/>
<path d="M378 233.3l-0.8-0.1-1.7-0.4-1.3 0.5-1 0.1-0.4 0-1.3-1.1-0.8-1.1-0.3-0.7-0.4-2-0.1-2.5 0.1-1-0.3-1.8 0.1-2.7 0.8-2.3 0.2-2 0.4-1 0.6-0.6 1.4-0.6 1.3 0 1.3-0.4 1.9 0.4 0.6 0.5 0.8 1.3 1.7 0.1 1 1.3-0.1 1.3 0.2 1.7 0.6 2-0.3 1.3 0.3 2-0.3 1.3 0 1-0.5 1-0.2 1-1 1.4-1.2 0.8-0.8 1-0.5 0.3z M376.3 215l0.2-0.2-0.2-0.3-0.3 0.1-0.2 0.4 0.2 0.2 0.3-0.2z" fill="none" stroke="#000" stroke-width="0.5" stroke-opacity="0.65" clip-path="url(#cC11)"/>
<path d="M373.8 233l-0.8-0.1-1.3-0.9-0.6-0.8-0.6-1.7-0.2-1-0.2-2.3 0.2-1.2-0.4-2 0.2-2.8 0.8-2 0.3-2.2 0.6-0.9 1.7-0.7 1.5-0.1 0.3 0.2 0.2 1 0.5 0.1 1.2-0.9 0.6 0 0.4 0.3 0.8 1 1.5 0.5 0.9 0.7 0 0.6-0.2 0.3-0.7 0.2-0.5 0.5 0.2 0.2 0.3 0 0.7-0.2 0.3 0.6 0.3 1.8 0.3 1-0.2 1 0.3 2.3-0.3 1 0 1.3-0.7 2-0.9 0.4-0.4 0.8-1.9 1.9-0.5 0.1-1.3-0.5-1-0.1-1 0.5-0.4 0.1z M378.4 221.2l0.1-0.2-0.1-0.2-0.6-0.7-0.6-0.1-0.2 0.2 0 0.3 0.8 0.9 0.2 0 0.4-0.2z" fill="none" stroke="#000" stroke-width="0.5" stroke-opacity="0.67" clip-path="url(#cC11)"/>
<path d="M373.5 233l-0.7-0.2-1.3-1-0.4-0.8-0.7-1.8-0.2-3 0.2-1.2-0.5-2 0.3-3 0.7-1.8 0.3-2.2 0.6-0.9 1.7-0.7 1.5-0.1 0.3 0.2 0.2 1 0.5 0.2 1.2-0.9 0.6-0.1 0.4 0.4 0.8 0.9 1.5 0.5 0.8 0.7 0.1 0.3-0.2 0.5-0.7 0.2-0.5 0.6 0.2 0.2 1-0.1 0.3 0.6 0.3 1.9 0.3 0.8-0.2 1 0.2 2.3-0.2 1-0.1 1.3-0.7 2-0.9 0.4-0.4 0.8-1.8 1.8-0.5 0.1-1.3-0.4-1-0.1-1 0.5-0.7 0.1z M378.5 221.2l0.1-0.2-0.1-0.2-0.7-0.8-0.6 0-0.2 0.2 0 0.4 0.8 0.8 0.2 0.1 0.5-0.3z" fill="none" stroke="#000" stroke-width="0.5" stroke-opacity="0.69" clip-path="url(#cC11)"/>
<path d="M377.8 232.5l-0.6 0.1-2.2-0.5-1 0.6-0.8-0.1-1.4-1-0.3-0.4-0.1-0.7-0.6-0.9-0.2-0.6-0.3-2.8 0.3-1.2-0.4-1.2-0.1-0.8 0.3-2.8 0.6-1.7 0.6-2.7 0.4-0.4 1.5-0.7 0.7-0.1 0.6 0.2 0.4 1.2 0.3 0.3 0.7-0.4 1-0.7 0.6-0.1 1 1 1.4 0.7 0.5 0.4 0.1 0.3-0.1 0.3-1.1 1 0.1 0.2 0.3 0.2 1 0.1 0.3 0.5 0.1 1.2-0.3 0.8 0.3 0.7 0.4 1.4-0.1 1.6-0.5 0.7-0.7 0.3-0.3 0.3 0.6 0.1 0.4-0.2 0.3 0.5 0 0.6-0.5 1.7-1.1 0.5-0.3 0.2-0.7 1.3-1.1 1z M380.1 221.8l0-0.3-1.1-0.5-1.2-1.2-0.6-0.1-0.4 0.4 0 0.5 0.8 1.2 0.4 0 0.8-0.2 1 0.3 0.3-0.1z M379.9 223.8l0-0.6-0.1-0.2-0.3-0.1-0.3 0.3 0 0.6 0.3 0.2 0.4-0.2z" fill="none" stroke="#000" stroke-width="0.5" stroke-opacity="0.71" clip-path="url(#cC11)"/>
<path d="M377.5 232.3l-2.5-0.4-0.5 0.1-0.7 0.4-0.6-0.1-1.2-0.8-0.2-0.5 0-0.8-0.8-0.6-0.3-0.6-0.2-2.8 0.3-1.2-0.3-1-0.2-1 0.2-1.5 0-1.3 0.6-1.4 0.7-2.8 0.2-0.3 0.8-0.2 1-0.6 0.7 0.1 0.5 1.5 0.2 0.3 0.3 0.1 1-0.5 0.4-0.6 0.6-0.4 0.5 0.2 0.8 0.7 1.2 0.6 0.4 0.3 0.1 0.3-0.3 0.5-0.7 0.5-0.2 0.3 0.1 0.2 0.6 0.3 0.8 0.2 0.2 0.2 0.1 0.3 0 0.8-0.1 0.3-0.2 0.1-1.6-0.3-1.4-1.3-0.8 0.1-0.5 0.5 0.2 0.6 0.8 1.2 1.3-0.1 0.4 0.3 0.1 0.3-0.4 1 0.2 0.7 0.1 0.2 0.6-0.2 0.4-0.4 0-0.6-0.2-0.7 0.1-0.3 0.4-0.1 0.6 0.4 0.4 1 0.1 0.7-0.1 0.8-0.2 0.5-1.5 1.3 0.1 0.2 1.2 0.5 0 0.5-0.3 1.2-1.6 1-0.5 1.3-1.2 0.8z M378.9 226.2l0-0.4-0.1-0.4-0.9 0.4-0.3 0.2 0 0.2 0.4 0.2 0.9-0.2z" fill="none" stroke="#000" stroke-width="0.5" stroke-opacity="0.73" clip-path="url(#cC11)"/>
<path d="M377.5 232.1l-2.7-0.4-1.3 0.4-0.7-0.3-0.6-0.6 0-1-0.1-0.2-0.9-0.4-0.2-0.4-0.2-0.4-0.2-2.6 0.4-1.2-0.4-1-0.2-1 0.3-1.5 0-1.3 1.2-4 1.9-1 0.5 0 0.6 1.6 0.3 0.3 0.3 0 0.7-0.2 1 0.5 0.6-0.1 0.1-0.3-0.1-0.2-0.5-0.8 0.2-0.3 0.3 0.1 0.7 0.6 1.3 0.5 0.4 0.3 0 0.6-1 0.7-0.2 0.3 0.1 0.2 1.6 0.8 0.2 0.2-0.1 0.8-0.3 0.1-1.3-0.2-1.4-1.3-0.8 0.1-0.3 0.3-0.3 0.4 0.1 0.5 0.7 1.4 0.3 0.2 1.3-0.1 0.2 0.3-0.3 1 0 1.3-1.2 1-0.1 0.4 0.4 0.3 1.4 0.3 0.6 0.4 0.7 0.2 0.4 0.4 0 0.2-0.2 1-1.5 1-0.2 0.2-0.3 1-0.5 0.5-0.7 0.4z M379.8 226.3l-0.3-0.1-0.1-0.2-0.2-1 0.1-0.2 0.9-0.7 0.3-0.3 0-1.3 0.3 0.1 0.4 0.8 0.3 0.6 0 0.5-0.3 0.6-0.4 0.7-0.6 0.3-0.4 0.2z" fill="none" stroke="#000" stroke-width="0.5" stroke-opacity="0.75" clip-path="url(#cC11)"/>
<path d="M377.5 231.8l-0.5 0-0.5-0.3-0.7 0.2-1.6-0.2-0.7 0.2-0.5-0.2-0.4-0.3-0.1-0.2 0.1-0.5-0.1-0.5-0.3-0.2-1-0.5-0.2-0.5-0.3-2.6 0.5-1.2-0.5-1-0.1-0.8 0-0.7 0.3-1 0-1.3 0.4-1.2 0.3-1.5 0.4-0.9 1.8-1.1 0.2 0 0.2 0.3 0.6 1 0.4 0.5 1-0.1 1 0.5 0.6 0 0.3-0.2 0.4-0.7 0.5 0 0.6 0.2 0.3 0.2 0 0.6-1.1 0.7-0.1 0.5 0.3 0.2 1.3 0.6 0.3 0.2 0.1 0.2-0.2 0.4-1 0-0.6-0.4-0.9-0.9-0.5-0.1-1 0.5-0.3 0.5 0.8 2 0.2 0.3 1.3 0 0.2 0.3-0.2 1.7-0.4 0.5-0.8 0.8-0.1 0.2 0 0.4 0.3 0.2 1.3 0.4 0.4 0.4 1.1 0.1 0.4 0.3 0 0.2-0.3 1-1.6 1.2-0.3 1-1 0.6z M380.2 225.9l-0.4 0-0.2-0.1-0.1-0.8 0.1-0.2 1.4-1.1 0.3 0.3-0.1 0.8-0.4 0.7-0.6 0.4z M376.6 231l-0.1-0.1 0 0.2 0.1-0.1z" fill="none" stroke="#000" stroke-width="0.5" stroke-opacity="0.77" clip-path="url(#cC11)"/>
<path d="M377.8 231.5l-0.6 0.1-0.2-0.1-0.1-0.7-0.4-0.4-0.3 0.2-0.2 0.6-0.2 0.3-0.8-0.1-1-0.3-0.8 0.1-0.2-0.2-0.1-0.8-0.4-0.4-1-0.5-0.4-0.5-0.2-2.6 0.5-1 0-0.2-0.4-0.8-0.2-0.7 0-0.7 0.2-1.3 0-1.3 0.4-1 0.3-1.7 0.3-0.6 1.8-1.1 0.2 0.1 0.8 1.2 0.4 0.4 1 0 1 0.4 0.8 0.1 0.2-0.1 0.6-0.9 0.2 0 0.5 0.1 0.3 0.4-0.3 0.4-0.9 0.3-0.4 0.8-0.7 0-0.7 0.4-0.5 0.4-0.2 0.4 0.6 1.3 0.3 1.3 0 0.2-0.3 0.5 0 0.5 0.3 0.1 0.2-0.3-0.2-0.8 1-0.4 0.4 0.2 0 0.2-0.2 1.5-1 1.3-0.1 0.4 0.1 0.3 1.4 0.7 0 0.8 0.3 0.2 0.3 0 0.6-0.6 0.4 0.1 0.3 0.3-0.3 0.8-1.5 1.2-0.3 1-0.2 0.3-0.4 0.2z M380 220.5l-0.9-0.3-0.2-0.2-0.1-0.4 0.4 0 1 0.3 0.2 0.3-0.4 0.3z M380.2 225.7l-0.2 0-0.2-0.1-0.1-0.6 1.1-0.8 0.2 0 0 0.3-0.1 0.5-0.7 0.7z" fill="none" stroke="#000" stroke-width="0.5" stroke-opacity="0.79" clip-path="url(#cC11)"/>
<path d="M377.8 231.3l-0.5-0.1-0.4-0.7-0.4-0.3-0.3 0.1-0.4 1-0.3 0.1-0.6-0.2-1.4-0.7-1-1-1-0.5-0.2-0.2 0-1-0.3-1.6 0.6-1 0-0.2-0.6-1-0.1-0.5 0.3-3.3 0.3-0.9 0.2-1.5 0.2-0.6 0.3-0.3 1.3-0.6 0.5 0 0.7 0.9 0.5 0.4 1.3 0.2 1 0.7-0.2 0.3-1.2 1-0.2 0.4 0.7 1.6 0 1-0.2 1 0.1 0.3 0.3 0.2 0.4-0.1 0.6-1.2 0.3 0 0.1 0.2-0.2 1.3-1 1.3 0 0.6 0.2 0.4 1.1 0.4 0.1 0.8 0.4 0.4 0.5 0.1 0.7-0.7 0.3 0.2-0.1 0.4-0.2 0.3-1.4 1.3-0.4 1-0.4 0.3z M379.2 217.8l-0.4 0 0-0.3 0.2-0.3 0.4 0 0.2 0.3-0.4 0.3z M379.8 220.3l-0.6-0.2 0-0.3 0.7 0.2 0 0.2-0.1 0.1z M380.2 225.4l-0.2 0 0-0.4 0.5-0.3 0.1 0.3-0.4 0.4z" fill="none" stroke="#000" stroke-width="0.5" stroke-opacity="0.81" clip-path="url(#cC11)"/>
<path d="M377.8 231l-0.3 0-0.5-0.7-0.5-0.3-0.3 0-0.2 0.2-0.2 0.7-0.3 0.2-0.5 0-2.5-1.9-0.7-0.3-0.3-0.4 0.1-1-0.4-0.7 0-0.6 0.6-1-0.7-1.4 0.2-3 0.3-1.3 0.2-1.7 0.3-0.6 0.4-0.2 1.3-0.4 1.4 1.3 1.3 0.3 0.4 0.3-0.1 0.3-0.2 0.2-1.4 0.8-0.2 0.2 0.1 0.2 0.4 0.2 0.3 0.2 0.5 0.9-0.1 2.3 0.2 0.4 0.4 0.4 0.4 0.2-0.3 1 0 0.7 0.3 0.4 0.8 0.3 0.3 1 0.9 0.8-0.8 1-0.4 0.9-0.2 0.1z" fill="none" stroke="#000" stroke-width="0.5" stroke-opacity="0.83" clip-path="url(#cC11)"/>
<path d="M375.5 230.8l-0.3 0.1-0.4-0.1-1-1.2-0.8-0.3-0.9-0.8 0.1-1-0.8-1 0.1-0.3 0.6-1-0.6-1-0.2-0.4 0.1-3 0.4-1 0.1-1.8 0.3-0.6 1.3-0.3 0.5 0 1.6 1.4 0 0.3-1.1 1.4 0.3 0.4 1 0.5 0.2 0.4-0.2 1 0.3 1.7 0.7 0.8-0.1 1 0.1 0.8 0.2 0.3 0.8 0.3 0.2 0.8 0.8 0.8 0 0.2-1 1.3-0.3-0.1-1.3-0.9-0.2 0.1-0.5 1.2z" fill="none" stroke="#000" stroke-width="0.5" stroke-opacity="0.85" clip-path="url(#cC11)"/>
<path d="M375.2 230.6l-0.3-0.1-0.9-1.4-0.8 0-0.5-0.3-0.2-0.6 0.1-0.7-0.1-0.2-0.7-0.8 0.1-0.5 0.5-0.5 0-0.3-0.9-1.2 0.1-3 0.4-1.2 0.1-1.8 0.1-0.4 0.3-0.1 1.5-0.1 0.8 0.6 0.4 0.5-0.1 0.5-0.8 1.2 0.1 0.3 1 1 0 1.3 0.6 1.4 0.5 1 0.1 1.6-0.2 1.4-0.8 1.3-0.1 0.8-0.3 0.3z M377.8 230.1l-0.6-0.1-0.5-0.8 0.1-0.4 0.4-0.7 0.3 0 1 0.9-0.2 0.5-0.5 0.6z" fill="none" stroke="#000" stroke-width="0.5" stroke-opacity="0.88" clip-path="url(#cC11)"/>
<path d="M375.2 229.4l-0.2 0.1-0.2-0.1-0.6-0.8-0.2 0-0.5 0.2-0.5-0.1-0.2-0.5-0.1-1-0.6-0.7 0-0.3 0.1-0.2 0.9-0.5-1.3-1.3-0.2-0.4 0.1-2.8 0.5-1 0-1.8 0-0.3 0.3-0.2 0.7 0.1 0.8-0.1 0.6 0.3 0.4 0.5-0.1 0.5-0.8 1.2 0.1 0.4 0.8 0.9 0.1 2-1 0.7-0.2 0.6 0.3 0 0.4 0 0.3-0.3 0.3-0.6 0.3 0 0.8 1.1 0.1 1.2-0.3 2-0.9 1.2z M374.3 228l0.4-0.2 0.1-0.4-0.3-0.1-0.3 0.2 0.1 0.5z M377.8 229.8l-0.6-0.1-0.3-0.5 0.2-0.4 0.4-0.3 0.8 0.5-0.1 0.3-0.4 0.5z" fill="none" stroke="#000" stroke-width="0.5" stroke-opacity="0.90" clip-path="url(#cC11)"/>
<path d="M373.2 224.9l-0.7-0.1-0.7-0.8 0-2.8 0.1-0.4 0.7-1-0.3-1 0.2-0.8 0.7 0.2 0.8-0.3 0.5 0.2 0.3 0.4 0 0.3-0.1 0.4-0.8 0.8 0 0.2 0.2 0.6 0.7 0.7 0.1 1-0.3 1-1.4 1.4z M375.2 229l-0.2 0.1-0.2-0.2-0.2-0.4 0-0.3 0.6-0.7 0-0.3-0.7-0.1-0.4 0.1-0.4 1-0.2 0.3-0.3 0-0.1-0.3 0-0.7-0.6-1 0-0.3 0.7-0.4 0.6-0.6 1-0.3 0.7-0.5 0.6 0.6 0.2 1.5-0.5 1 0.1 0.5-0.1 0.5-0.6 0.5z M377.5 229.5l-0.2-0.3 0-0.2 0.5-0.1 0.2 0.3-0.2 0.3-0.3 0z" fill="none" stroke="#000" stroke-width="0.5" stroke-opacity="0.92" clip-path="url(#cC11)"/>
<path d="M373.2 224.6l-0.4 0.1-0.6-0.4-0.1-0.3 0.1-0.8-0.3-1 0-1 0.2-0.4 1-1-0.2-0.8 0.1-0.2 0.8-0.5 0.4-0.1 0.4 0.3 0 0.5-0.4 0.5-0.6 0.5 0.3 0.8 0.7 0.7 0.1 1-0.4 1-1.1 1.1z M373.8 227.1l-0.3 0.1-0.3-0.1-0.3-0.6 0.9-1 1.7-0.7 0.3 0.2 0.3 1.2-0.2 0.6-0.4 0.2-1-0.1-0.7 0.2z M375.2 228.7l-0.2-0.1 0-0.4 0.2-0.2 0.3 0 0 0.4-0.3 0.3z" fill="none" stroke="#000" stroke-width="0.5" stroke-opacity="0.94" clip-path="url(#cC11)"/>
<path d="M374 219.3l-0.3-0.1 0-0.2 0.3-0.4 0.2 0.1 0.1 0.3-0.3 0.3z M373.2 224.1l-0.2 0.1-0.4-0.2 0.1-0.8-0.5-0.7-0.1-0.5 0.1-0.9 0.8-0.6 0.2 0 1 1 0.2 0.5-0.2 1.2-1 0.9z M375.5 226.5l-1.5 0.1-0.3-0.1 0-0.3 0.2-0.4 0.3-0.3 0.8-0.1 0.2 0.1 0.4 0.5 0.1 0.2-0.2 0.3z" fill="none" stroke="#000" stroke-width="0.5" stroke-opacity="0.96" clip-path="url(#cC11)"/>
<path d="M374 219.3l-0.3-0.1 0-0.2 0.3-0.4 0.2 0.1 0.1 0.3-0.3 0.3z M373.2 224l-0.2 0.2-0.4-0.2 0.1-0.8-0.5-0.7-0.1-0.5 0.1-0.9 0.8-0.6 0.2 0.1 1 0.9 0.2 0.5-0.2 1.2-1 0.8z M375.5 226.5l-1.5 0.1-0.3-0.1 0-0.3 0.2-0.4 0.3-0.3 0.8-0.1 0.2 0.2 0.4 0.4 0.1 0.2-0.2 0.3z" fill="none" stroke="#000" stroke-width="0.5" stroke-opacity="0.98" clip-path="url(#cC11)"/>
<clipPath id="cC21"><rect x="424.3" y="161.5" width="75.89999999999998" height="74.69999999999999"/></clipPath>
<path d="M474.3 236.5l-0.6-2-0.5-2-0.5-4-0.1-4.5 0.5-4.2 1-3.8 0.6-1.5 0.9-1.5 0.8-1 0.9-0.8 0.7-0.4 1-0.2 1.3 0.2 4.4 1.4 1.9 0.4 0.7 0.3 1 0.8 0.5 0.5 0.5 1.4 0.9 1.6 0.6 3.8-0.1 2 0.2 1.8-0.3 3.7 0.1 2-0.3 1.7-0.7 1.8-1.1 1.8-0.9 0.7" fill="none" stroke="#000" stroke-width="0.5" stroke-opacity="0.50" clip-path="url(#cC21)"/>
<path d="M475.4 236.5l-0.8-1.7-0.5-1.8-0.7-4.2 0-4.6 0.5-4.2 1-3.5 0.7-1.5 0.7-1 0.7-0.9 1-0.7 0.8-0.2 1.2-0.1 3 0.2 4 1.1 1.2 0.8 0.5 1.3 0.7 1 0.5 1 0.6 3.7-0.2 1.8 0.2 1.5 0 2.3-0.3 2 0.2 1.2-0.2 1.5-0.5 1.7-0.4 0.8-1 1.3-1.5 1.2" fill="none" stroke="#000" stroke-width="0.5" stroke-opacity="0.52" clip-path="url(#cC21)"/>
<path d="M476.5 236.5l-0.7-1.3-0.7-1.4-0.5-1.8-0.4-2.5-0.2-2.3 0-2.2 0.1-2.2 0.4-2.3 0.5-1.7 0.6-1.8 0.7-1.2 0.7-1.2 1-0.8 1.6-0.7 0.7-0.2 1.3-0.1 1.2 0 1.2 0.3 2.8 0.8 0.7 0.3 0.4 0.6 0.5 1 0.6 0.7 0.5 0.7 0.4 2.3 0.3 1.7-0.3 1.8 0.3 2 0 2.2-0.4 1.6 0.2 1.4-0.2 1.6-0.6 1.7-0.9 1.2-1 0.6-0.7 0.8-1.2 0.4" fill="none" stroke="#000" stroke-width="0.5" stroke-opacity="0.54" clip-path="url(#cC21)"/>
<path d="M477.6 236.5l-0.9-1-0.8-1.5-0.7-1.8-0.4-1.7-0.3-2.3-0.1-2.2 0.1-2.2 0.3-2.3 0.4-1.7 0.6-1.8 0.7-1.5 0.9-1.3 0.9-0.8 1.5-0.8 1-0.4 1 0 1.2 0 1.8 0.4 2.5 1.1 1.9 2.5 0.7 3.8-0.2 2 0.3 1.5 0 2.3-0.1 0.7-0.4 1 0.3 1.7-0.2 1.6-0.7 1.7-0.8 1-0.9 0.5-0.9 0.9-1.5 0.3-0.5 0.3" fill="none" stroke="#000" stroke-width="0.5" stroke-opacity="0.56" clip-path="url(#cC21)"/>
<path d="M483.3 235.8l-1-0.3-1.5 0.3-1.5-0.3-0.6-0.3-0.7-0.7-0.9-1.3-0.7-1.7-0.5-2.3-0.3-2.4 0.1-3 0.5-2.8 0.5-1.8 1.2-2.7 0.7-0.8 1.2-0.9 1-0.3 1.8-0.2 1.2 0.2 1 0 0.8 0.1 0.6 0.4 1.6 1.5 0.9 1.3 0.5 2 0.2 1.4-0.3 1.8 0.3 1.2 0.1 1.8-0.1 1.2-0.4 1.3 0.2 1.5-0.3 1.5-1.1 2.3-1 0.5-0.8 0.9-0.4 0.2-1 0-1.3 0.4z" fill="none" stroke="#000" stroke-width="0.5" stroke-opacity="0.58" clip-path="url(#cC21)"/>
<path d="M483.8 235.3l-1.2-0.3-1.3 0.5-0.5 0-1.5-0.3-0.7-0.6-1-1.1-0.7-1.7-0.7-2.6-0.3-2.4 0.1-2.8 0.4-2.8 0.6-2 1.1-2.7 0.7-0.7 1-0.7 0.8-0.2 1 0 1.2-0.3 1 0.2 1.2-0.1 0.6 0.1 2 1.7 0.8 1.3 0.6 1.7 0.2 1.5-0.2 2 0.3 1.2 0.1 1.8-0.2 1.2-0.4 1.3 0.2 1.5-0.3 1.2-1.2 2.3-0.7 0.5-0.8 0.9-0.4 0.3-1-0.1-0.8 0.2z" fill="none" stroke="#000" stroke-width="0.5" stroke-opacity="0.60" clip-path="url(#cC21)"/>
<path d="M481.3 234.8l-0.7 0.1-1.3-0.4-1.3-1.5-0.6-1.5-0.5-2.3-0.5-3.2 0.5-4.8 0.7-2.2 0.8-2 0.3-0.5 0.6-0.5 1-0.5 1.3 0 1.2-0.3 2.5 0 2.3 2 1.1 2.8 0.2 1-0.2 2 0.2 1 0.3 2-0.2 1-0.4 1.2 0.1 1.8-0.7 1.8-0.9 1-0.4 0.7-0.9 1.1-0.5 0.1-0.7-0.3-2-0.2-1.3 0.6z" fill="none" stroke="#000" stroke-width="0.5" stroke-opacity="0.62" clip-path="url(#cC21)"/>
<path d="M480.8 234.3l-0.8-0.1-0.4-0.3-1.3-1.8-0.4-0.9-0.4-1.7-0.6-3.5 0-0.8 0.3-1.2 0-1.8 0.2-1 0.9-2.4 1-2.1 1-0.6 1.3 0 1.4-0.4 0.8 0 1 0.3 1.3 1.5 1.2 0.7 0.6 0.8 0.5 1.8 0.1 0.4-0.3 1 0.4 1.8 0.1 1 0.2 1 0 0.5-0.6 1.5 0 1.8-0.7 1.7-0.8 0.9-0.4 0.8-0.6 0.8-0.5 0.1-3-0.6-0.7 0.3-0.8 0.5z" fill="none" stroke="#000" stroke-width="0.5" stroke-opacity="0.65" clip-path="url(#cC21)"/>
<path d="M480.8 233.8l-0.5 0-0.5-0.3-0.5-1.1-0.8-0.9-0.5-1.3-0.8-4.4 0.1-0.8 0.4-1-0.1-1 0-0.8 0.3-1.2 0.9-1.2 0.3-1.3 1.2-1.7 0.5-0.2 1-0.1 1.5-0.4 0.5 0 0.8 0.4 1.3 1.3 0.9 0.5 0.5 0.7 0.4 1.5-0.3 1.3 0.9 2.2 0.1 1 0.3 1-0.1 0.5-0.5 1.3-0.1 1.4-0.5 0.8-0.2 1.2-1.5 2.2-0.2 0.2-0.6 0-2.4-0.5-0.8 0.2-1 0.5z" fill="none" stroke="#000" stroke-width="0.5" stroke-opacity="0.67" clip-path="url(#cC21)"/>
<path d="M480.6 233.5l-0.6-0.3-0.6-1.2-0.8-0.8-0.4-1.2-0.3-2.2-0.5-2 0.1-0.6 0.5-1.2-0.2-1 0-0.8 0.4-1.2 0.9-1 0.2-1.2 0.5-0.8 1.2-1 2.3-0.6 0.5 0 0.7 0.4 1.1 1 1 0.6 0.4 0.6 0.1 0.5-0.1 0.5-0.2 0.3-0.5 0.2 0 0.3 0.5 0.2 0.1 0.8 1.1 2 0.5 2.2-0.1 0.5-0.5 1.3-0.1 1.2-0.6 1-0.2 1.2-1.2 1.9-0.8 0.2-2.4-0.5-2 0.7z M484.4 221.8l0.5-0.3 0.2-0.3-0.5-0.6-0.6-0.1-0.2 0.5 0.1 0.5 0.1 0.2 0.4 0.1z" fill="none" stroke="#000" stroke-width="0.5" stroke-opacity="0.69" clip-path="url(#cC21)"/>
<path d="M481 233.3l-0.4 0.1-0.6-0.2-0.4-1.2-0.9-0.8-0.4-1-0.3-2.4-0.5-2 0.1-0.6 0.4-1.2-0.1-1.5 0.4-1.5 0.8-1 0.3-1.2 0.4-0.6 1.2-1.1 2.3-0.6 0.5 0 0.6 0.3 2.2 1.6 0.3 0.6 0.1 0.5-0.2 0.5-0.8 0.5 0 0.3 0.6 0.4 1.4 2.8 0.4 2.5-0.5 1.3-0.2 1.2-0.5 1-0.3 1.2-1.1 1.8-0.8 0.2-2.4-0.5-1.6 0.6z M484.7 221.8l0.4-0.3 0.1-0.3-0.1-0.2-0.6-0.5-0.5-0.1-0.2 0.4 0 0.7 0.2 0.3 0.7 0z" fill="none" stroke="#000" stroke-width="0.5" stroke-opacity="0.71" clip-path="url(#cC21)"/>
<path d="M481 233.1l-0.4 0-0.3-0.1-0.5-1.2-0.9-0.8-0.4-1-0.1-2-0.7-2.2 0.1-0.6 0.5-1.2-0.2-1.5 0.5-1.3 0.7-0.8 0.4-1.4 0.3-0.6 1-0.8 0.8-0.4 0.8-0.2 0.7 0.1 0.7-0.2 2.4 1.6 0.3 0.5 0 0.5-0.1 0.3-1.3 0.8-1-0.6-0.5 0.1-0.2 1.1 0 0.8 0.2 0.3 0.2 0.1 1.3-0.5 0.5-0.1 1 0.5 1 1.9 0.3 2.3-0.4 1.3-0.2 1.2-0.5 0.8-0.4 1.4-0.8 1.4-0.8 0.3-0.8-0.1-0.5-0.3-0.7-0.8-0.2 0.1-0.6 0.7-1.2 0.6z" fill="none" stroke="#000" stroke-width="0.5" stroke-opacity="0.73" clip-path="url(#cC21)"/>
<path d="M481.3 232.8l-0.5 0.1-0.5-0.1-0.3-1.1-0.8-0.7-0.4-0.6-0.3-0.9 0.1-1.7-0.6-1.6-0.1-0.7 0.6-1.5-0.2-1.2 0.1-0.6 0.4-0.8 0.5-0.4 0.2-0.2 0.4-1.8 1.4-1.3 1-0.4 0.6 0.2 0.7 1.3 0.2 0.3 0.2-0.2 0.4-1.1 0.2-0.2 0.7 0.3 1.1 0.9 0.2 0.4-0.1 0.3-0.2 0.3-1 0.4-1-0.7-0.5 0.1-0.2 0.6-0.2 1.8 0.2 0.5 0.4 0.6 0.6-0.6 0.7-0.3 1.3 0.3 1.1 2-0.1 1.3 0.3 0.7-0.4 1.3-0.1 1-0.7 1-0.3 1.4-0.8 1.3-0.6 0.2-0.7-0.2-0.4-0.3-0.5-0.7-0.6-0.2-0.3 0.2-0.5 0.8-0.7 0.5z" fill="none" stroke="#000" stroke-width="0.5" stroke-opacity="0.75" clip-path="url(#cC21)"/>
<path d="M481.3 232.6l-0.5 0.1-0.2-0.1-0.2-0.4 0.2-0.5 0.6-0.2 0.1-0.3-0.3-0.1-0.7 0.2-0.7-0.3-0.4-0.2-0.4-0.8-0.1-0.8 0.4-1.4-0.8-1.2-0.3-1.1 0.6-1.5-0.1-1.2 0.1-0.5 0.2-0.4 0.8-0.5 0.1-0.2 0.2-2 1.4-1.4 0.5-0.2 0.5-0.1 0.5 0.4 0.5 1.3 0.1 1.3-0.2 1.5 0.3 1 0.5 0.5 0.3 0 0.5-0.7 0.2-0.2 0.6-0.1 1 0.2 0.9 2.1-0.2 0.5-0.4 0.2 0.1 0.3 0.6 0.5 0.1 0.5-0.4 1.8-0.3 0.5-0.4 0.3-0.8-0.2-0.3 0 0.1 0.3 0.5 0.5 0.2 0.5-0.1 0.7-0.6 1.1-0.6 0.2-0.4-0.1-0.6-0.3-0.4-0.7-0.8-0.3-0.4 0.1-0.6 1-0.5 0.4z M485.8 219.8l-0.5 0-0.7-0.8-0.1-0.5 0.3-0.5 0.8 0.2 0.7 0.6 0.1 0.4-0.1 0.3-0.5 0.3z" fill="none" stroke="#000" stroke-width="0.5" stroke-opacity="0.77" clip-path="url(#cC21)"/>
<path d="M485 232.3l-0.7-0.2-0.7-0.9-0.8-0.4-1 0.3-0.5-0.3-1 0.2-0.5-0.1-0.5-0.4-0.4-0.7 0.1-1 0.7-1 0.1-0.3-1-0.5-0.6-1 0-0.8 0.5-1.2 0-1.5 0.1-0.3 1-0.8 0.1-1.4 0.2-0.8 0.9-1 1-0.6 0.6 0.2 0.4 1 0.3 1.7-0.2 1.7 0.3 0.8 0.4 0.5 0.5 0.2 0.3-0.1 0.4-0.7 1.3 0.2 0.6 1.4-0.3 0.4-0.1 0.6 0.1 0.3 0.9 0.7 0 0.3-0.3 1.7-0.3 0.5-0.3 0.2-0.8-0.3-0.6 0.1-0.1 0.2 0.9 1 0.1 0.6-0.5 1.1-0.6 0.4z M486 219.5l-0.4 0.1-0.7-0.6-0.2-0.5 0.2-0.3 0.4 0 0.8 0.6 0.2 0.4-0.3 0.3z M485 229l-0.5-0.5-0.3 0-0.2 0.3 0 0.2 0.3 0.2 0.7-0.2z M481 232.3l-0.2-0.1 0.2 0 0 0.1z" fill="none" stroke="#000" stroke-width="0.5" stroke-opacity="0.79" clip-path="url(#cC21)"/>
<path d="M484.8 232l-0.5-0.2-0.7-0.9-0.8-0.5-0.8 0.3-0.7-0.2-1 0.3-0.5-0.1-0.5-0.6-0.3-0.6 0.3-0.8 1-1.2-1.3-0.7-0.6-0.8 0-0.5 0.6-1.7-0.1-1 0.1-0.4 0.8-0.7 0.2-0.5 0-1.2 0.3-0.8 0.9-1 0.6-0.3 0.5 0 0.2 0.1 0.4 0.8 0.3 1.7-0.2 1.7 0.2 0.8 0.6 0.6 0.5 0.3 0.3 0 0.4-0.4 0.3-0.1 0.6 0.4 0.3 0.4 0 1 0.1 0.4 1 1.2-0.3 1.7-0.2 0.4-0.2 0-1.3-0.2-1-0.4-0.5 0.2-0.1 0.5 0.2 0.2 1.1 0.4 0.9 0.9-0.2 0.7-0.4 0.6-0.5 0.2z M485.8 219.3l-0.5-0.3-0.2-0.2 0.2-0.3 0.5 0.2 0.2 0.3 0 0.2-0.2 0.1z" fill="none" stroke="#000" stroke-width="0.5" stroke-opacity="0.81" clip-path="url(#cC21)"/>
<path d="M480.3 230.5l-0.5-0.2-0.2-0.2-0.3-0.5 0-0.4 0.3-0.7 1.1-1 0.1-0.3-1-0.3-0.8-0.4-0.3-0.5-0.1-0.5 0.6-1.7 0-1 1-1.6-0.1-1.2 0.2-0.5 1-1.2 0.7-0.3 0.3 0.1 0.3 0.4 0.5 1.7 0 0.8-0.3 1.2 0.1 0.6 0.6 0.7 0.8 0.6 0.5-0.1 0.5-0.2 0.4 0.2 0.3 0.5 0 1.1 1.1 1.2 0.1 0.4-0.4 1.3-0.2 0.2-1.3-0.2-0.7-0.3-0.6-0.1-0.4 0.4-0.3 1.2-1.3 0.6-1 0-0.7 0.2z M485 231.6l-0.4 0-0.3-0.2-0.7-0.9-0.1-0.7 1.3 0 0.7 0.4 0.2 0.6-0.1 0.3-0.6 0.5z" fill="none" stroke="#000" stroke-width="0.5" stroke-opacity="0.83" clip-path="url(#cC21)"/>
<path d="M481.8 230l-0.8-0.1-0.7 0.2-0.3 0-0.3-0.3-0.2-0.6 0.2-0.4 0.4-0.6 1-0.7 0.2-0.5-0.3-0.1-1 0-0.4-0.3-0.6-0.6-0.1-0.5 0.5-1.7 0.2-1.3 0.7-1.3 0-1.4 1-1.3 0.7-0.3 0.4 0.3 0.6 2-0.4 1.7 0.1 0.6 0.6 0.7 0.7 0.6 0.6 0.2 0.7-0.1 0.3 0.1 0.4 1.5 0.8 0.8 0.2 0.4-0.2 1.2-0.2 0.3-1-0.1-1.3-0.4-0.4 0-0.4 0.2-0.8 1.3-0.4 0.4-0.5 0.1z M481.7 225.2l-0.2-0.4-0.2-0.2-0.4 0.2 0 0.2 0.1 0.3 0.6 0.1 0.1-0.2z M484.8 231.3l-0.2-0.2-0.2-0.3 0.2-0.5 0.2-0.1 0.5 0.3 0.1 0.3-0.2 0.2-0.4 0.3z" fill="none" stroke="#000" stroke-width="0.5" stroke-opacity="0.85" clip-path="url(#cC21)"/>
<path d="M482.3 229.6l-0.5 0.1-0.8-0.2-0.7 0.1-0.3-0.1-0.2-0.3 0.1-0.4 1.4-1.3 0.5-0.7-0.2-0.3-1.6 0.2-0.5-0.5-0.2-0.4 0.3-1.3 0.2-2 0.6-1.5 0.1-1.2 0.8-1.1 0.5-0.3 0.2 0 0.3 0.2 0.2 0.9 0.4 1-0.5 2.3 1.4 1.2 0.8 0.4 0.7 0.3 0.5 1.1 1 1 0.1 0.2-0.1 0.8-0.2 0.4-0.6 0.1-1.7-0.5-0.5 0-0.5 0.4-1 1.4z M482.1 226l-0.1-0.8-0.4-0.7-0.6-0.2-0.4 0.2-0.1 0.3 0.3 0.6 1.3 0.6z" fill="none" stroke="#000" stroke-width="0.5" stroke-opacity="0.88" clip-path="url(#cC21)"/>
<path d="M482.3 229.3l-0.5 0.1-1.5-0.2-0.1-0.2 0.1-0.5 1.5-1.3 0.8-1-0.2-0.7-0.6-1-0.5-0.4-1 0-0.2-0.1-0.2-1 0.1-0.8 0.6-1.2-0.1-0.8 0.1-0.4 0.9-1 0.3-0.2 0.3 0.2 0.3 1 0.4 0.7 0 0.5-0.6 1.5 0.1 0.5 2.7 1.9 0.8 1.1 0.8 0.8 0.2 0.4-0.2 0.7-0.3 0.2-0.7-0.1-1.8-0.5-0.2 0.1-1.3 1.7z M480.8 226.3l-0.5 0.2-0.5-0.3-0.2-0.4 0.2-0.6 0.2-0.1 0.3 0.1 0.7 0.8-0.2 0.3z" fill="none" stroke="#000" stroke-width="0.5" stroke-opacity="0.90" clip-path="url(#cC21)"/>
<path d="M482 229.1l-0.2 0.1-0.8-0.2-0.4-0.2 0.1-0.3 1.3-1.2 0.9-0.5 0-0.6-1.1-2-0.5-0.3-0.8-0.1-0.2-0.3-0.2-0.7 0.1-0.6 0.6-1.2 0-1.2 0.8-0.8 0.2-0.1 0.3 0.9 0.5 0.5 0 0.5-0.5 1.4-0.1 0.8 2.8 2 0.8 1 0.8 0.8 0.2 0.4-0.2 0.6-0.4 0.1-1.4-0.4-1-0.5-0.3 0-0.4 1-0.9 1.1z" fill="none" stroke="#000" stroke-width="0.5" stroke-opacity="0.92" clip-path="url(#cC21)"/>
<path d="M481.3 223.5l-0.7-0.1-0.3-0.9 0.2-0.7 0.6-0.8-0.1-1 0.6-0.4 0.6 0.9 0 0.3-0.3 0.4-0.2 2-0.1 0.3-0.3 0z M486.3 227.5l-0.5 0.1-1.2-0.3-1.3-1-1.3-2.1-0.2-0.7 0.5 0 0.5 0.2 1.5 1.1 2 2.1 0.1 0.3-0.1 0.3z M482 228.8l-0.4 0.1-0.4-0.1-0.1-0.3 0.7-0.8 0.8-0.3 0.1 0.4-0.7 1z" fill="none" stroke="#000" stroke-width="0.5" stroke-opacity="0.94" clip-path="url(#cC21)"/>
<path d="M481 223.1l-0.2 0-0.2-0.2-0.1-0.7 0.3-0.5 0.5-0.2 0.3 0.3 0 0.4-0.3 0.8-0.3 0.1z M485.8 227.3l-1-0.1-0.5-0.4-1.5-1.6-0.5-1 0-0.3 0.5 0 1.3 0.9 1.9 2.2-0.2 0.3z" fill="none" stroke="#000" stroke-width="0.5" stroke-opacity="0.96" clip-path="url(#cC21)"/>
<path d="M481 222.9l-0.2-0.1-0.2-0.3 0.1-0.5 0.3-0.3 0.3 0.1 0.1 0.4-0.4 0.7z M485 227l-0.4-0.2-1.3-1.2-0.5-0.6-0.2-0.8 0.4 0 1.2 0.8 1.2 1.8-0.1 0.2-0.3 0z" fill="none" stroke="#000" stroke-width="0.5" stroke-opacity="0.98" clip-path="url(#cC21)"/>
<rect x="70.9" y="13.8" width="85.3" height="85.0" stroke="#333" stroke-width="1.1" fill="none"/>
<rect x="128.6" y="25.6" width="27.6" height="30.5" stroke="#000" stroke-width="1.4" fill="none"/>
<rect x="76.0" y="64.3" width="27.3" height="33.0" stroke="#000" stroke-width="1.4" fill="none"/>
<rect x="71.3" y="150.6" width="86.2" height="85.4" stroke="#333" stroke-width="1.1" fill="none"/>
<polyline points="75.6,235.6 75.6,201.3 104.4,201.3 104.4,235.6" fill="none" stroke="#000" stroke-width="1.4"/>
<polyline points="130.6,235.6 130.6,200.4 157.3,200.4" fill="none" stroke="#000" stroke-width="1.4"/>
<rect x="237.5" y="77.8" width="76.10000000000002" height="76.60000000000001" stroke="#333" stroke-width="1.1" fill="none"/>
<line x1="274.4" y1="77.8" x2="274.4" y2="154.4" stroke="#000" stroke-width="1.3" />
<line x1="237.5" y1="124.3" x2="313.6" y2="124.3" stroke="#000" stroke-width="1.3" />
<rect x="237.5" y="161.0" width="76.10000000000002" height="75.69999999999999" stroke="#333" stroke-width="1.1" fill="none"/>
<line x1="274.4" y1="161.0" x2="274.4" y2="236.7" stroke="#000" stroke-width="1.3" />
<line x1="237.5" y1="207.1" x2="313.6" y2="207.1" stroke="#000" stroke-width="1.3" />
<rect x="321.0" y="77.8" width="77.19999999999999" height="76.60000000000001" stroke="#333" stroke-width="1.1" fill="none"/>
<line x1="358.3" y1="77.8" x2="358.3" y2="154.4" stroke="#000" stroke-width="1.3" />
<line x1="321.0" y1="124.3" x2="398.2" y2="124.3" stroke="#000" stroke-width="1.3" />
<rect x="321.0" y="161.0" width="77.19999999999999" height="75.69999999999999" stroke="#333" stroke-width="1.1" fill="none"/>
<line x1="358.3" y1="161.0" x2="358.3" y2="236.7" stroke="#000" stroke-width="1.3" />
<line x1="321.0" y1="207.1" x2="398.2" y2="207.1" stroke="#000" stroke-width="1.3" />
<rect x="423.8" y="77.8" width="76.89999999999998" height="76.60000000000001" stroke="#333" stroke-width="1.1" fill="none"/>
<line x1="461.0" y1="77.8" x2="461.0" y2="154.4" stroke="#000" stroke-width="1.3" />
<line x1="423.8" y1="124.3" x2="500.7" y2="124.3" stroke="#000" stroke-width="1.3" />
<rect x="423.8" y="161.0" width="76.89999999999998" height="75.69999999999999" stroke="#333" stroke-width="1.1" fill="none"/>
<line x1="461.0" y1="161.0" x2="461.0" y2="236.7" stroke="#000" stroke-width="1.3" />
<line x1="423.8" y1="207.1" x2="500.7" y2="207.1" stroke="#000" stroke-width="1.3" />
<g transform="translate(238.80,89.30) scale(0.8600,1)" font-weight="bold" fill="#000" stroke="#000" stroke-width="0.12" ><text x="0.00" y="0" font-size="8.70">26</text></g>
<g transform="translate(297.24,89.30) scale(0.8600,1)" font-weight="bold" fill="#000" stroke="#000" stroke-width="0.12" ><text x="0.00" y="0" font-size="8.70">0.53</text></g>
<g transform="translate(238.80,151.50) scale(0.8600,1)" font-weight="bold" fill="#000" stroke="#000" stroke-width="0.12" ><text x="0.00" y="0" font-size="8.70">73</text></g>
<g transform="translate(297.24,151.50) scale(0.8600,1)" font-weight="bold" fill="#000" stroke="#000" stroke-width="0.12" ><text x="0.00" y="0" font-size="8.70">0.26</text></g>
<g transform="translate(322.30,89.30) scale(0.8600,1)" font-weight="bold" fill="#000" stroke="#000" stroke-width="0.12" ><text x="0.00" y="0" font-size="8.70">0.12</text></g>
<g transform="translate(388.08,89.30) scale(0.8600,1)" font-weight="bold" fill="#000" stroke="#000" stroke-width="0.12" ><text x="0.00" y="0" font-size="8.70">97</text></g>
<g transform="translate(322.30,151.50) scale(0.8600,1)" font-weight="bold" fill="#000" stroke="#000" stroke-width="0.12" ><text x="0.00" y="0" font-size="8.70">0.34</text></g>
<g transform="translate(386.00,151.50) scale(0.8600,1)" font-weight="bold" fill="#000" stroke="#000" stroke-width="0.12" ><text x="0.00" y="0" font-size="8.70">2.4</text></g>
<g transform="translate(425.10,89.30) scale(0.8600,1)" font-weight="bold" fill="#000" stroke="#000" stroke-width="0.12" ><text x="0.00" y="0" font-size="8.70">0.01</text></g>
<g transform="translate(490.58,89.30) scale(0.8600,1)" font-weight="bold" fill="#000" stroke="#000" stroke-width="0.12" ><text x="0.00" y="0" font-size="8.70">91</text></g>
<g transform="translate(425.10,151.50) scale(0.8600,1)" font-weight="bold" fill="#000" stroke="#000" stroke-width="0.12" ><text x="0.00" y="0" font-size="8.70">0.01</text></g>
<g transform="translate(488.50,151.50) scale(0.8600,1)" font-weight="bold" fill="#000" stroke="#000" stroke-width="0.12" ><text x="0.00" y="0" font-size="8.70">9.3</text></g>
<g transform="translate(238.80,171.30) scale(0.8600,1)" font-weight="bold" fill="#000" stroke="#000" stroke-width="0.12" ><text x="0.00" y="0" font-size="8.70">0.08</text></g>
<g transform="translate(307.64,171.30) scale(0.8600,1)" font-weight="bold" fill="#000" stroke="#000" stroke-width="0.12" ><text x="0.00" y="0" font-size="8.70">0</text></g>
<g transform="translate(238.80,235.20) scale(0.8600,1)" font-weight="bold" fill="#000" stroke="#000" stroke-width="0.12" ><text x="0.00" y="0" font-size="8.70">99.7</text></g>
<g transform="translate(297.24,235.20) scale(0.8600,1)" font-weight="bold" fill="#000" stroke="#000" stroke-width="0.12" ><text x="0.00" y="0" font-size="8.70">0.17</text></g>
<g transform="translate(322.30,171.30) scale(0.8600,1)" font-weight="bold" fill="#000" stroke="#000" stroke-width="0.12" ><text x="0.00" y="0" font-size="8.70">0.05</text></g>
<g transform="translate(381.84,171.30) scale(0.8600,1)" font-weight="bold" fill="#000" stroke="#000" stroke-width="0.12" ><text x="0.00" y="0" font-size="8.70">0.07</text></g>
<g transform="translate(322.30,235.20) scale(0.8600,1)" font-weight="bold" fill="#000" stroke="#000" stroke-width="0.12" ><text x="0.00" y="0" font-size="8.70">0.51</text></g>
<g transform="translate(381.84,235.20) scale(0.8600,1)" font-weight="bold" fill="#000" stroke="#000" stroke-width="0.12" ><text x="0.00" y="0" font-size="8.70">99.4</text></g>
<g transform="translate(425.10,171.30) scale(0.8600,1)" font-weight="bold" fill="#000" stroke="#000" stroke-width="0.12" ><text x="0.00" y="0" font-size="8.70">0</text></g>
<g transform="translate(484.34,171.30) scale(0.8600,1)" font-weight="bold" fill="#000" stroke="#000" stroke-width="0.12" ><text x="0.00" y="0" font-size="8.70">0.06</text></g>
<g transform="translate(425.10,235.20) scale(0.8600,1)" font-weight="bold" fill="#000" stroke="#000" stroke-width="0.12" ><text x="0.00" y="0" font-size="8.70">0.01</text></g>
<g transform="translate(484.34,235.20) scale(0.8600,1)" font-weight="bold" fill="#000" stroke="#000" stroke-width="0.12" ><text x="0.00" y="0" font-size="8.70">99.9</text></g>
<rect x="66.5" y="322.4" width="68.5" height="67.40000000000003" stroke="#9a9a9a" stroke-width="1.0" fill="none"/>
<rect x="66.5" y="396.3" width="68.5" height="67.59999999999997" stroke="#9a9a9a" stroke-width="1.0" fill="none"/>
<rect x="66.5" y="470.4" width="68.5" height="67.60000000000002" stroke="#9a9a9a" stroke-width="1.0" fill="none"/>
<rect x="66.5" y="544.3" width="68.5" height="67.40000000000009" stroke="#9a9a9a" stroke-width="1.0" fill="none"/>
<rect x="157.5" y="322.5" width="67.30000000000001" height="67.30000000000001" stroke="#9a9a9a" stroke-width="1.0" fill="none"/>
<rect x="157.5" y="394.7" width="67.30000000000001" height="67.80000000000001" stroke="#9a9a9a" stroke-width="1.0" fill="none"/>
<rect x="157.5" y="468.6" width="67.30000000000001" height="67.60000000000002" stroke="#9a9a9a" stroke-width="1.0" fill="none"/>
<rect x="157.5" y="544.2" width="67.30000000000001" height="67.39999999999998" stroke="#9a9a9a" stroke-width="1.0" fill="none"/>
<rect x="248.7" y="322.5" width="68.10000000000002" height="67.30000000000001" stroke="#9a9a9a" stroke-width="1.0" fill="none"/>
<rect x="248.7" y="394.6" width="68.10000000000002" height="67.89999999999998" stroke="#9a9a9a" stroke-width="1.0" fill="none"/>
<rect x="248.7" y="468.9" width="68.10000000000002" height="67.5" stroke="#9a9a9a" stroke-width="1.0" fill="none"/>
<rect x="248.7" y="544.5" width="68.10000000000002" height="67.10000000000002" stroke="#9a9a9a" stroke-width="1.0" fill="none"/>
<rect x="353.3" y="321.3" width="68.0" height="68.09999999999997" stroke="#9a9a9a" stroke-width="1.0" fill="none"/>
<rect x="443.5" y="321.6" width="68.39999999999998" height="67.79999999999995" stroke="#9a9a9a" stroke-width="1.0" fill="none"/>
<path d="M66.80,389.80 L80.80,389.50 C81.11,385.91 82.59,366.91 83.10,362.60 C83.61,358.29 84.19,357.40 84.60,357.20 C85.01,357.00 85.68,365.34 86.20,361.10 C86.72,356.86 87.89,325.31 88.50,325.40 C89.11,325.49 90.25,360.53 90.80,361.80 C91.35,363.07 92.03,333.46 92.60,334.90 C93.17,336.34 94.53,370.13 95.10,372.60 C95.67,375.07 96.35,352.27 96.90,353.40 C97.45,354.53 98.48,381.62 99.20,381.10 C99.92,380.58 101.58,349.30 102.30,349.50 C103.02,349.70 103.88,377.36 104.60,382.60 C105.32,387.84 106.87,387.88 107.70,388.80 C108.53,389.72 110.39,389.41 110.80,389.50 L134.70,389.80" fill="none" stroke="#000" stroke-width="1.9" stroke-linejoin="round" stroke-linecap="round"/>
<path d="M66.80,463.90 L80.70,463.90 C80.81,463.43 81.18,462.16 81.50,460.40 C81.82,458.64 82.61,455.95 83.10,450.70 C83.59,445.45 84.65,422.17 85.20,421.00 C85.75,419.83 86.67,444.79 87.20,441.90 C87.73,439.01 88.60,398.77 89.20,399.30 C89.80,399.83 91.07,443.22 91.70,445.90 C92.33,448.58 93.33,418.43 93.90,419.40 C94.47,420.37 95.44,449.99 96.00,453.20 C96.56,456.41 97.57,442.86 98.10,443.50 C98.63,444.14 99.43,457.57 100.00,458.00 C100.57,458.43 101.80,446.49 102.40,446.70 C103.00,446.91 103.97,457.39 104.50,459.60 C105.03,461.81 106.15,462.81 106.40,463.30 L134.70,463.90" fill="none" stroke="#000" stroke-width="1.9" stroke-linejoin="round" stroke-linecap="round"/>
<path d="M66.80,538.00 L80.70,538.00 C80.85,537.57 81.41,536.41 81.80,534.80 C82.19,533.19 83.11,531.26 83.60,525.90 C84.09,520.54 84.97,495.77 85.50,494.60 C86.03,493.43 87.11,519.89 87.60,517.10 C88.09,514.31 88.61,473.49 89.20,473.70 C89.79,473.91 91.35,516.46 92.00,518.70 C92.65,520.94 93.54,489.86 94.10,490.50 C94.66,491.14 95.73,519.81 96.20,523.50 C96.67,527.19 97.05,517.24 97.60,518.20 C98.15,519.16 99.62,530.49 100.30,530.70 C100.98,530.91 102.10,519.36 102.70,519.80 C103.30,520.24 104.19,531.64 104.80,534.00 C105.41,536.36 106.97,537.03 107.30,537.50 L134.70,538.00" fill="none" stroke="#000" stroke-width="1.9" stroke-linejoin="round" stroke-linecap="round"/>
<path d="M66.80,611.70 L81.60,611.70 C81.71,611.26 82.11,610.23 82.40,608.40 C82.69,606.57 83.41,600.56 83.80,598.00 C84.19,595.44 84.90,589.29 85.30,589.20 C85.70,589.11 86.20,602.82 86.80,597.30 C87.40,591.78 89.11,548.20 89.80,547.80 C90.49,547.40 91.45,593.42 92.00,594.30 C92.55,595.18 93.35,554.00 93.90,554.40 C94.45,554.80 95.57,593.55 96.10,597.30 C96.63,601.05 97.41,581.71 97.90,582.50 C98.39,583.29 99.17,602.31 99.80,603.20 C100.43,604.09 101.92,588.71 102.60,589.20 C103.28,589.69 104.25,603.98 104.90,606.90 C105.55,609.82 107.15,610.54 107.50,611.10 L134.70,611.70" fill="none" stroke="#000" stroke-width="1.9" stroke-linejoin="round" stroke-linecap="round"/>
<path d="M157.80,389.80 L168.80,389.80 C169.32,389.63 171.79,388.67 172.70,388.50 C173.61,388.33 174.83,388.77 175.60,388.50 C176.37,388.23 177.86,386.71 178.50,386.50 C179.14,386.29 179.84,387.57 180.40,386.90 C180.96,386.23 182.14,381.70 182.70,381.50 C183.26,381.30 184.01,386.77 184.60,385.40 C185.19,384.03 186.49,371.51 187.10,371.20 C187.71,370.89 188.51,389.15 189.20,383.10 C189.89,377.05 191.55,325.80 192.30,325.80 C193.05,325.80 194.21,374.82 194.80,383.10 C195.39,391.38 196.06,387.09 196.70,387.90 C197.34,388.71 199.21,389.03 199.60,389.20 L224.50,389.80" fill="none" stroke="#000" stroke-width="1.9" stroke-linejoin="round" stroke-linecap="round"/>
<path d="M157.80,462.50 L171.00,462.20 C171.23,462.01 172.02,460.99 172.70,460.80 C173.38,460.61 175.30,461.11 176.10,460.80 C176.90,460.49 178.11,458.74 178.70,458.50 C179.29,458.26 179.97,459.57 180.50,459.00 C181.03,458.43 182.18,454.37 182.70,454.20 C183.22,454.03 183.84,459.13 184.40,457.70 C184.96,456.27 186.27,443.74 186.90,443.50 C187.53,443.26 188.39,461.90 189.10,455.90 C189.81,449.90 191.51,399.65 192.20,398.50 C192.89,397.35 193.86,439.41 194.30,447.30 C194.74,455.19 195.03,455.86 195.50,457.70 C195.97,459.54 196.92,460.49 197.80,461.10 C198.68,461.71 201.53,462.14 202.10,462.30 L224.50,462.50" fill="none" stroke="#000" stroke-width="1.9" stroke-linejoin="round" stroke-linecap="round"/>
<path d="M157.80,536.20 L171.80,536.10 C171.96,535.65 172.60,533.21 173.00,532.70 C173.40,532.19 174.33,532.26 174.80,532.30 C175.27,532.34 176.05,533.23 176.50,533.00 C176.95,532.77 177.73,530.88 178.20,530.60 C178.67,530.32 179.47,531.66 180.00,530.90 C180.53,530.14 181.69,525.25 182.20,524.90 C182.71,524.55 183.23,530.61 183.80,528.30 C184.37,525.99 185.82,507.60 186.50,507.60 C187.18,507.60 188.15,533.03 188.90,528.30 C189.65,523.57 191.38,472.21 192.10,472.10 C192.82,471.99 193.78,519.25 194.30,527.50 C194.82,535.75 195.43,532.89 196.00,534.00 C196.57,535.11 198.25,535.56 198.60,535.80 L224.50,536.20" fill="none" stroke="#000" stroke-width="1.9" stroke-linejoin="round" stroke-linecap="round"/>
<path d="M157.80,611.60 L171.80,611.60 C171.96,611.08 172.65,608.41 173.00,607.70 C173.35,606.99 174.03,606.30 174.40,606.30 C174.77,606.30 175.33,608.55 175.80,607.70 C176.27,606.85 177.43,600.55 177.90,599.90 C178.37,599.25 178.73,604.41 179.30,602.80 C179.87,601.19 181.52,588.43 182.20,587.80 C182.88,587.17 183.83,601.50 184.40,598.10 C184.97,594.70 185.85,561.83 186.50,562.30 C187.15,562.77 188.55,603.57 189.30,601.60 C190.05,599.63 191.43,548.19 192.10,547.50 C192.77,546.81 193.78,588.27 194.30,596.40 C194.82,604.53 195.43,606.65 196.00,608.50 C196.57,610.35 197.79,609.90 198.60,610.30 C199.41,610.70 201.63,611.34 202.10,611.50 L224.50,611.60" fill="none" stroke="#000" stroke-width="1.9" stroke-linejoin="round" stroke-linecap="round"/>
<path d="M249.00,389.80 L263.50,389.60 C264.06,389.45 266.67,388.91 267.70,388.50 C268.73,388.09 270.43,387.53 271.20,386.50 C271.97,385.47 272.99,381.13 273.50,380.80 C274.01,380.47 274.49,384.21 275.00,384.00 C275.51,383.79 276.74,379.20 277.30,379.20 C277.86,379.20 278.68,383.73 279.20,384.00 C279.72,384.27 280.63,388.96 281.20,381.20 C281.77,373.44 282.94,326.83 283.50,325.80 C284.06,324.77 284.95,365.61 285.40,373.50 C285.85,381.39 286.31,383.08 286.90,385.00 C287.49,386.92 288.89,387.34 289.80,387.90 C290.71,388.46 293.18,389.03 293.70,389.20 L316.50,389.80" fill="none" stroke="#000" stroke-width="1.9" stroke-linejoin="round" stroke-linecap="round"/>
<path d="M249.00,462.50 L263.50,462.50 C263.62,462.37 263.93,461.69 264.40,461.50 C264.87,461.31 266.31,461.26 267.00,461.10 C267.69,460.94 268.91,460.65 269.60,460.30 C270.29,459.95 271.63,459.47 272.20,458.50 C272.77,457.53 273.43,453.16 273.90,453.00 C274.37,452.84 275.17,457.95 275.70,457.30 C276.23,456.65 277.38,448.17 277.90,448.10 C278.42,448.03 279.19,456.11 279.60,456.80 C280.01,457.49 280.49,461.14 281.00,453.30 C281.51,445.46 282.80,399.03 283.40,398.00 C284.00,396.97 285.03,437.64 285.50,445.60 C285.97,453.56 286.37,455.63 286.90,457.70 C287.43,459.77 288.58,460.50 289.50,461.10 C290.42,461.70 293.23,462.05 293.80,462.20 L316.50,462.50" fill="none" stroke="#000" stroke-width="1.9" stroke-linejoin="round" stroke-linecap="round"/>
<path d="M249.00,536.40 L263.50,536.50 C263.67,536.22 264.40,534.73 264.80,534.40 C265.20,534.07 265.98,534.41 266.50,534.00 C267.02,533.59 268.10,531.66 268.70,531.30 C269.30,530.94 270.53,531.62 271.00,531.30 C271.47,530.98 271.81,531.02 272.20,528.90 C272.59,526.78 273.39,515.77 273.90,515.40 C274.41,515.03 275.41,527.71 276.00,526.10 C276.59,524.49 277.73,503.01 278.30,503.30 C278.87,503.59 279.62,532.46 280.30,528.30 C280.98,524.14 282.71,473.37 283.40,472.10 C284.09,470.83 285.07,511.07 285.50,518.80 C285.93,526.53 286.19,528.07 286.60,530.10 C287.01,532.13 287.87,533.20 288.60,534.00 C289.33,534.80 291.63,535.82 292.10,536.10 L316.50,536.40" fill="none" stroke="#000" stroke-width="1.9" stroke-linejoin="round" stroke-linecap="round"/>
<path d="M249.00,611.60 L263.50,611.60 C263.67,610.73 264.49,606.59 264.80,605.10 C265.11,603.61 265.44,601.03 265.80,600.40 C266.16,599.77 267.18,600.93 267.50,600.40 C267.82,599.87 267.92,601.08 268.20,596.40 C268.48,591.72 269.07,565.75 269.60,565.30 C270.13,564.85 271.51,595.37 272.20,593.00 C272.89,590.63 274.17,547.27 274.80,547.50 C275.43,547.73 276.37,592.49 276.90,594.70 C277.43,596.91 278.25,563.18 278.80,564.10 C279.35,565.02 280.33,602.95 281.00,601.60 C281.67,600.25 283.13,553.65 283.80,554.00 C284.47,554.35 285.47,596.93 286.00,604.20 C286.53,611.47 287.21,607.58 287.80,608.50 C288.39,609.42 290.05,610.75 290.40,611.10 L316.50,611.60" fill="none" stroke="#000" stroke-width="1.9" stroke-linejoin="round" stroke-linecap="round"/>
<path d="M353.60,389.40 L385.30,389.40 C385.54,388.29 386.54,389.73 387.10,381.10 C387.66,372.47 388.87,324.70 389.50,324.70 C390.13,324.70 391.20,372.54 391.80,381.10 C392.40,389.66 393.71,387.86 394.00,388.90 L421.00,389.40" fill="none" stroke="#000" stroke-width="1.9" stroke-linejoin="round" stroke-linecap="round"/>
<path d="M443.80,389.40 L461.00,389.40 C461.13,387.80 461.75,379.12 462.00,377.40 C462.25,375.68 462.58,376.01 462.90,376.50 C463.22,376.99 463.84,385.66 464.40,381.10 C464.96,376.54 466.43,343.03 467.10,342.30 C467.77,341.57 468.80,377.95 469.40,375.60 C470.00,373.25 471.16,330.99 471.60,324.70 C472.04,318.41 472.38,321.87 472.70,328.40 C473.02,334.93 473.59,369.50 474.00,373.70 C474.41,377.90 475.31,359.29 475.80,359.90 C476.29,360.51 477.03,378.67 477.70,378.30 C478.37,377.93 480.07,356.61 480.80,357.10 C481.53,357.59 482.56,377.81 483.20,382.00 C483.84,386.19 485.28,387.63 485.60,388.50 L511.60,389.40" fill="none" stroke="#000" stroke-width="1.9" stroke-linejoin="round" stroke-linecap="round"/>
<g transform="translate(59.53,331.00) scale(0.7200,1)" font-weight="bold" fill="#8c8c8c" ><text x="0.00" y="0" font-size="4.80">200</text></g>
<line x1="65.2" y1="329.4" x2="66.5" y2="329.4" stroke="#777" stroke-width="0.6" />
<g transform="translate(59.53,346.40) scale(0.7200,1)" font-weight="bold" fill="#8c8c8c" ><text x="0.00" y="0" font-size="4.80">150</text></g>
<line x1="65.2" y1="344.8" x2="66.5" y2="344.8" stroke="#777" stroke-width="0.6" />
<g transform="translate(59.53,361.60) scale(0.7200,1)" font-weight="bold" fill="#8c8c8c" ><text x="0.00" y="0" font-size="4.80">100</text></g>
<line x1="65.2" y1="360.0" x2="66.5" y2="360.0" stroke="#777" stroke-width="0.6" />
<g transform="translate(61.46,376.60) scale(0.7200,1)" font-weight="bold" fill="#8c8c8c" ><text x="0.00" y="0" font-size="4.80">50</text></g>
<line x1="65.2" y1="375.0" x2="66.5" y2="375.0" stroke="#777" stroke-width="0.6" />
<g transform="translate(63.38,391.40) scale(0.7200,1)" font-weight="bold" fill="#8c8c8c" ><text x="0.00" y="0" font-size="4.80">0</text></g>
<line x1="65.2" y1="389.8" x2="66.5" y2="389.8" stroke="#777" stroke-width="0.6" />
<g transform="translate(59.53,399.60) scale(0.7200,1)" font-weight="bold" fill="#8c8c8c" ><text x="0.00" y="0" font-size="4.80">250</text></g>
<line x1="65.2" y1="398.0" x2="66.5" y2="398.0" stroke="#777" stroke-width="0.6" />
<g transform="translate(59.53,412.50) scale(0.7200,1)" font-weight="bold" fill="#8c8c8c" ><text x="0.00" y="0" font-size="4.80">200</text></g>
<line x1="65.2" y1="410.9" x2="66.5" y2="410.9" stroke="#777" stroke-width="0.6" />
<g transform="translate(59.53,426.60) scale(0.7200,1)" font-weight="bold" fill="#8c8c8c" ><text x="0.00" y="0" font-size="4.80">150</text></g>
<line x1="65.2" y1="425.0" x2="66.5" y2="425.0" stroke="#777" stroke-width="0.6" />
<g transform="translate(59.53,439.80) scale(0.7200,1)" font-weight="bold" fill="#8c8c8c" ><text x="0.00" y="0" font-size="4.80">100</text></g>
<line x1="65.2" y1="438.2" x2="66.5" y2="438.2" stroke="#777" stroke-width="0.6" />
<g transform="translate(61.46,453.10) scale(0.7200,1)" font-weight="bold" fill="#8c8c8c" ><text x="0.00" y="0" font-size="4.80">50</text></g>
<line x1="65.2" y1="451.5" x2="66.5" y2="451.5" stroke="#777" stroke-width="0.6" />
<g transform="translate(63.38,465.50) scale(0.7200,1)" font-weight="bold" fill="#8c8c8c" ><text x="0.00" y="0" font-size="4.80">0</text></g>
<line x1="65.2" y1="463.9" x2="66.5" y2="463.9" stroke="#777" stroke-width="0.6" />
<g transform="translate(59.53,473.60) scale(0.7200,1)" font-weight="bold" fill="#8c8c8c" ><text x="0.00" y="0" font-size="4.80">200</text></g>
<line x1="65.2" y1="472.0" x2="66.5" y2="472.0" stroke="#777" stroke-width="0.6" />
<g transform="translate(59.53,489.70) scale(0.7200,1)" font-weight="bold" fill="#8c8c8c" ><text x="0.00" y="0" font-size="4.80">150</text></g>
<line x1="65.2" y1="488.1" x2="66.5" y2="488.1" stroke="#777" stroke-width="0.6" />
<g transform="translate(59.53,506.60) scale(0.7200,1)" font-weight="bold" fill="#8c8c8c" ><text x="0.00" y="0" font-size="4.80">100</text></g>
<line x1="65.2" y1="505.0" x2="66.5" y2="505.0" stroke="#777" stroke-width="0.6" />
<g transform="translate(61.46,523.50) scale(0.7200,1)" font-weight="bold" fill="#8c8c8c" ><text x="0.00" y="0" font-size="4.80">50</text></g>
<line x1="65.2" y1="521.9" x2="66.5" y2="521.9" stroke="#777" stroke-width="0.6" />
<g transform="translate(63.38,539.60) scale(0.7200,1)" font-weight="bold" fill="#8c8c8c" ><text x="0.00" y="0" font-size="4.80">0</text></g>
<line x1="65.2" y1="538.0" x2="66.5" y2="538.0" stroke="#777" stroke-width="0.6" />
<g transform="translate(59.53,561.20) scale(0.7200,1)" font-weight="bold" fill="#8c8c8c" ><text x="0.00" y="0" font-size="4.80">150</text></g>
<line x1="65.2" y1="559.6" x2="66.5" y2="559.6" stroke="#777" stroke-width="0.6" />
<g transform="translate(59.53,579.70) scale(0.7200,1)" font-weight="bold" fill="#8c8c8c" ><text x="0.00" y="0" font-size="4.80">100</text></g>
<line x1="65.2" y1="578.1" x2="66.5" y2="578.1" stroke="#777" stroke-width="0.6" />
<g transform="translate(61.46,596.70) scale(0.7200,1)" font-weight="bold" fill="#8c8c8c" ><text x="0.00" y="0" font-size="4.80">50</text></g>
<line x1="65.2" y1="595.1" x2="66.5" y2="595.1" stroke="#777" stroke-width="0.6" />
<g transform="translate(63.38,613.30) scale(0.7200,1)" font-weight="bold" fill="#8c8c8c" ><text x="0.00" y="0" font-size="4.80">0</text></g>
<line x1="65.2" y1="611.7" x2="66.5" y2="611.7" stroke="#777" stroke-width="0.6" />
<g transform="translate(150.53,338.50) scale(0.7200,1)" font-weight="bold" fill="#8c8c8c" ><text x="0.00" y="0" font-size="4.80">150</text></g>
<line x1="156.2" y1="336.9" x2="157.5" y2="336.9" stroke="#777" stroke-width="0.6" />
<g transform="translate(150.53,356.80) scale(0.7200,1)" font-weight="bold" fill="#8c8c8c" ><text x="0.00" y="0" font-size="4.80">100</text></g>
<line x1="156.2" y1="355.2" x2="157.5" y2="355.2" stroke="#777" stroke-width="0.6" />
<g transform="translate(152.46,374.70) scale(0.7200,1)" font-weight="bold" fill="#8c8c8c" ><text x="0.00" y="0" font-size="4.80">50</text></g>
<line x1="156.2" y1="373.1" x2="157.5" y2="373.1" stroke="#777" stroke-width="0.6" />
<g transform="translate(154.38,391.60) scale(0.7200,1)" font-weight="bold" fill="#8c8c8c" ><text x="0.00" y="0" font-size="4.80">0</text></g>
<line x1="156.2" y1="390.0" x2="157.5" y2="390.0" stroke="#777" stroke-width="0.6" />
<g transform="translate(150.53,410.80) scale(0.7200,1)" font-weight="bold" fill="#8c8c8c" ><text x="0.00" y="0" font-size="4.80">150</text></g>
<line x1="156.2" y1="409.2" x2="157.5" y2="409.2" stroke="#777" stroke-width="0.6" />
<g transform="translate(150.53,429.00) scale(0.7200,1)" font-weight="bold" fill="#8c8c8c" ><text x="0.00" y="0" font-size="4.80">100</text></g>
<line x1="156.2" y1="427.4" x2="157.5" y2="427.4" stroke="#777" stroke-width="0.6" />
<g transform="translate(152.46,447.20) scale(0.7200,1)" font-weight="bold" fill="#8c8c8c" ><text x="0.00" y="0" font-size="4.80">50</text></g>
<line x1="156.2" y1="445.6" x2="157.5" y2="445.6" stroke="#777" stroke-width="0.6" />
<g transform="translate(154.38,464.40) scale(0.7200,1)" font-weight="bold" fill="#8c8c8c" ><text x="0.00" y="0" font-size="4.80">0</text></g>
<line x1="156.2" y1="462.8" x2="157.5" y2="462.8" stroke="#777" stroke-width="0.6" />
<g transform="translate(150.53,472.80) scale(0.7200,1)" font-weight="bold" fill="#8c8c8c" ><text x="0.00" y="0" font-size="4.80">200</text></g>
<line x1="156.2" y1="471.2" x2="157.5" y2="471.2" stroke="#777" stroke-width="0.6" />
<g transform="translate(150.53,489.30) scale(0.7200,1)" font-weight="bold" fill="#8c8c8c" ><text x="0.00" y="0" font-size="4.80">150</text></g>
<line x1="156.2" y1="487.7" x2="157.5" y2="487.7" stroke="#777" stroke-width="0.6" />
<g transform="translate(150.53,505.70) scale(0.7200,1)" font-weight="bold" fill="#8c8c8c" ><text x="0.00" y="0" font-size="4.80">100</text></g>
<line x1="156.2" y1="504.1" x2="157.5" y2="504.1" stroke="#777" stroke-width="0.6" />
<g transform="translate(152.46,522.20) scale(0.7200,1)" font-weight="bold" fill="#8c8c8c" ><text x="0.00" y="0" font-size="4.80">50</text></g>
<line x1="156.2" y1="520.6" x2="157.5" y2="520.6" stroke="#777" stroke-width="0.6" />
<g transform="translate(154.38,537.60) scale(0.7200,1)" font-weight="bold" fill="#8c8c8c" ><text x="0.00" y="0" font-size="4.80">0</text></g>
<line x1="156.2" y1="536.0" x2="157.5" y2="536.0" stroke="#777" stroke-width="0.6" />
<g transform="translate(150.53,554.80) scale(0.7200,1)" font-weight="bold" fill="#8c8c8c" ><text x="0.00" y="0" font-size="4.80">150</text></g>
<line x1="156.2" y1="553.2" x2="157.5" y2="553.2" stroke="#777" stroke-width="0.6" />
<g transform="translate(150.53,574.70) scale(0.7200,1)" font-weight="bold" fill="#8c8c8c" ><text x="0.00" y="0" font-size="4.80">100</text></g>
<line x1="156.2" y1="573.1" x2="157.5" y2="573.1" stroke="#777" stroke-width="0.6" />
<g transform="translate(152.46,594.60) scale(0.7200,1)" font-weight="bold" fill="#8c8c8c" ><text x="0.00" y="0" font-size="4.80">50</text></g>
<line x1="156.2" y1="593.0" x2="157.5" y2="593.0" stroke="#777" stroke-width="0.6" />
<g transform="translate(154.38,613.20) scale(0.7200,1)" font-weight="bold" fill="#8c8c8c" ><text x="0.00" y="0" font-size="4.80">0</text></g>
<line x1="156.2" y1="611.6" x2="157.5" y2="611.6" stroke="#777" stroke-width="0.6" />
<g transform="translate(241.73,338.50) scale(0.7200,1)" font-weight="bold" fill="#8c8c8c" ><text x="0.00" y="0" font-size="4.80">150</text></g>
<line x1="247.39999999999998" y1="336.9" x2="248.7" y2="336.9" stroke="#777" stroke-width="0.6" />
<g transform="translate(241.73,356.80) scale(0.7200,1)" font-weight="bold" fill="#8c8c8c" ><text x="0.00" y="0" font-size="4.80">100</text></g>
<line x1="247.39999999999998" y1="355.2" x2="248.7" y2="355.2" stroke="#777" stroke-width="0.6" />
<g transform="translate(243.66,374.70) scale(0.7200,1)" font-weight="bold" fill="#8c8c8c" ><text x="0.00" y="0" font-size="4.80">50</text></g>
<line x1="247.39999999999998" y1="373.1" x2="248.7" y2="373.1" stroke="#777" stroke-width="0.6" />
<g transform="translate(245.58,391.60) scale(0.7200,1)" font-weight="bold" fill="#8c8c8c" ><text x="0.00" y="0" font-size="4.80">0</text></g>
<line x1="247.39999999999998" y1="390.0" x2="248.7" y2="390.0" stroke="#777" stroke-width="0.6" />
<g transform="translate(241.73,411.10) scale(0.7200,1)" font-weight="bold" fill="#8c8c8c" ><text x="0.00" y="0" font-size="4.80">150</text></g>
<line x1="247.39999999999998" y1="409.5" x2="248.7" y2="409.5" stroke="#777" stroke-width="0.6" />
<g transform="translate(241.73,429.20) scale(0.7200,1)" font-weight="bold" fill="#8c8c8c" ><text x="0.00" y="0" font-size="4.80">100</text></g>
<line x1="247.39999999999998" y1="427.6" x2="248.7" y2="427.6" stroke="#777" stroke-width="0.6" />
<g transform="translate(243.66,447.30) scale(0.7200,1)" font-weight="bold" fill="#8c8c8c" ><text x="0.00" y="0" font-size="4.80">50</text></g>
<line x1="247.39999999999998" y1="445.7" x2="248.7" y2="445.7" stroke="#777" stroke-width="0.6" />
<g transform="translate(245.58,464.40) scale(0.7200,1)" font-weight="bold" fill="#8c8c8c" ><text x="0.00" y="0" font-size="4.80">0</text></g>
<line x1="247.39999999999998" y1="462.8" x2="248.7" y2="462.8" stroke="#777" stroke-width="0.6" />
<g transform="translate(241.73,485.60) scale(0.7200,1)" font-weight="bold" fill="#8c8c8c" ><text x="0.00" y="0" font-size="4.80">150</text></g>
<line x1="247.39999999999998" y1="484.0" x2="248.7" y2="484.0" stroke="#777" stroke-width="0.6" />
<g transform="translate(241.73,503.60) scale(0.7200,1)" font-weight="bold" fill="#8c8c8c" ><text x="0.00" y="0" font-size="4.80">100</text></g>
<line x1="247.39999999999998" y1="502.0" x2="248.7" y2="502.0" stroke="#777" stroke-width="0.6" />
<g transform="translate(243.66,521.10) scale(0.7200,1)" font-weight="bold" fill="#8c8c8c" ><text x="0.00" y="0" font-size="4.80">50</text></g>
<line x1="247.39999999999998" y1="519.5" x2="248.7" y2="519.5" stroke="#777" stroke-width="0.6" />
<g transform="translate(245.58,537.80) scale(0.7200,1)" font-weight="bold" fill="#8c8c8c" ><text x="0.00" y="0" font-size="4.80">0</text></g>
<line x1="247.39999999999998" y1="536.2" x2="248.7" y2="536.2" stroke="#777" stroke-width="0.6" />
<g transform="translate(241.73,556.00) scale(0.7200,1)" font-weight="bold" fill="#8c8c8c" ><text x="0.00" y="0" font-size="4.80">150</text></g>
<line x1="247.39999999999998" y1="554.4" x2="248.7" y2="554.4" stroke="#777" stroke-width="0.6" />
<g transform="translate(241.73,576.00) scale(0.7200,1)" font-weight="bold" fill="#8c8c8c" ><text x="0.00" y="0" font-size="4.80">100</text></g>
<line x1="247.39999999999998" y1="574.4" x2="248.7" y2="574.4" stroke="#777" stroke-width="0.6" />
<g transform="translate(243.66,595.10) scale(0.7200,1)" font-weight="bold" fill="#8c8c8c" ><text x="0.00" y="0" font-size="4.80">50</text></g>
<line x1="247.39999999999998" y1="593.5" x2="248.7" y2="593.5" stroke="#777" stroke-width="0.6" />
<g transform="translate(245.58,613.20) scale(0.7200,1)" font-weight="bold" fill="#8c8c8c" ><text x="0.00" y="0" font-size="4.80">0</text></g>
<line x1="247.39999999999998" y1="611.6" x2="248.7" y2="611.6" stroke="#777" stroke-width="0.6" />
<g transform="translate(346.33,331.00) scale(0.7200,1)" font-weight="bold" fill="#8c8c8c" ><text x="0.00" y="0" font-size="4.80">100</text></g>
<line x1="352.0" y1="329.4" x2="353.3" y2="329.4" stroke="#777" stroke-width="0.6" />
<g transform="translate(348.26,343.00) scale(0.7200,1)" font-weight="bold" fill="#8c8c8c" ><text x="0.00" y="0" font-size="4.80">80</text></g>
<line x1="352.0" y1="341.4" x2="353.3" y2="341.4" stroke="#777" stroke-width="0.6" />
<g transform="translate(348.26,355.00) scale(0.7200,1)" font-weight="bold" fill="#8c8c8c" ><text x="0.00" y="0" font-size="4.80">60</text></g>
<line x1="352.0" y1="353.4" x2="353.3" y2="353.4" stroke="#777" stroke-width="0.6" />
<g transform="translate(348.26,367.00) scale(0.7200,1)" font-weight="bold" fill="#8c8c8c" ><text x="0.00" y="0" font-size="4.80">40</text></g>
<line x1="352.0" y1="365.4" x2="353.3" y2="365.4" stroke="#777" stroke-width="0.6" />
<g transform="translate(348.26,379.90) scale(0.7200,1)" font-weight="bold" fill="#8c8c8c" ><text x="0.00" y="0" font-size="4.80">20</text></g>
<line x1="352.0" y1="378.3" x2="353.3" y2="378.3" stroke="#777" stroke-width="0.6" />
<g transform="translate(350.18,391.00) scale(0.7200,1)" font-weight="bold" fill="#8c8c8c" ><text x="0.00" y="0" font-size="4.80">0</text></g>
<line x1="352.0" y1="389.4" x2="353.3" y2="389.4" stroke="#777" stroke-width="0.6" />
<g transform="translate(436.53,333.70) scale(0.7200,1)" font-weight="bold" fill="#8c8c8c" ><text x="0.00" y="0" font-size="4.80">200</text></g>
<line x1="442.2" y1="332.1" x2="443.5" y2="332.1" stroke="#777" stroke-width="0.6" />
<g transform="translate(436.53,348.50) scale(0.7200,1)" font-weight="bold" fill="#8c8c8c" ><text x="0.00" y="0" font-size="4.80">150</text></g>
<line x1="442.2" y1="346.9" x2="443.5" y2="346.9" stroke="#777" stroke-width="0.6" />
<g transform="translate(436.53,362.40) scale(0.7200,1)" font-weight="bold" fill="#8c8c8c" ><text x="0.00" y="0" font-size="4.80">100</text></g>
<line x1="442.2" y1="360.8" x2="443.5" y2="360.8" stroke="#777" stroke-width="0.6" />
<g transform="translate(438.46,377.20) scale(0.7200,1)" font-weight="bold" fill="#8c8c8c" ><text x="0.00" y="0" font-size="4.80">50</text></g>
<line x1="442.2" y1="375.6" x2="443.5" y2="375.6" stroke="#777" stroke-width="0.6" />
<g transform="translate(440.38,391.00) scale(0.7200,1)" font-weight="bold" fill="#8c8c8c" ><text x="0.00" y="0" font-size="4.80">0</text></g>
<line x1="442.2" y1="389.4" x2="443.5" y2="389.4" stroke="#777" stroke-width="0.6" />
<text x="64.2" y="619.5" font-size="4.3" fill="#8c8c8c">10</text>
<line x1="66.7" y1="611.7" x2="66.7" y2="613.2" stroke="#777" stroke-width="0.6" />
<text x="80.5" y="619.5" font-size="4.3" fill="#8c8c8c">10</text>
<line x1="83.0" y1="611.7" x2="83.0" y2="613.2" stroke="#777" stroke-width="0.6" />
<text x="97.9" y="619.5" font-size="4.3" fill="#8c8c8c">10</text>
<line x1="100.4" y1="611.7" x2="100.4" y2="613.2" stroke="#777" stroke-width="0.6" />
<text x="115.2" y="619.5" font-size="4.3" fill="#8c8c8c">10</text>
<line x1="117.7" y1="611.7" x2="117.7" y2="613.2" stroke="#777" stroke-width="0.6" />
<text x="131.5" y="619.5" font-size="4.3" fill="#8c8c8c">10</text>
<line x1="134.0" y1="611.7" x2="134.0" y2="613.2" stroke="#777" stroke-width="0.6" />
<line x1="69.60000000000001" y1="34.96" x2="70.9" y2="34.96" stroke="#555" stroke-width="0.6" />
<line x1="69.60000000000001" y1="31.54" x2="70.9" y2="31.54" stroke="#555" stroke-width="0.6" />
<line x1="69.60000000000001" y1="29.12" x2="70.9" y2="29.12" stroke="#555" stroke-width="0.6" />
<line x1="69.60000000000001" y1="27.24" x2="70.9" y2="27.24" stroke="#555" stroke-width="0.6" />
<line x1="69.60000000000001" y1="25.7" x2="70.9" y2="25.7" stroke="#555" stroke-width="0.6" />
<line x1="69.60000000000001" y1="24.41" x2="70.9" y2="24.41" stroke="#555" stroke-width="0.6" />
<line x1="69.60000000000001" y1="23.28" x2="70.9" y2="23.28" stroke="#555" stroke-width="0.6" />
<line x1="69.60000000000001" y1="22.29" x2="70.9" y2="22.29" stroke="#555" stroke-width="0.6" />
<line x1="69.60000000000001" y1="54.57" x2="70.9" y2="54.57" stroke="#555" stroke-width="0.6" />
<line x1="69.60000000000001" y1="51.1" x2="70.9" y2="51.1" stroke="#555" stroke-width="0.6" />
<line x1="69.60000000000001" y1="48.64" x2="70.9" y2="48.64" stroke="#555" stroke-width="0.6" />
<line x1="69.60000000000001" y1="46.73" x2="70.9" y2="46.73" stroke="#555" stroke-width="0.6" />
<line x1="69.60000000000001" y1="45.17" x2="70.9" y2="45.17" stroke="#555" stroke-width="0.6" />
<line x1="69.60000000000001" y1="43.85" x2="70.9" y2="43.85" stroke="#555" stroke-width="0.6" />
<line x1="69.60000000000001" y1="42.71" x2="70.9" y2="42.71" stroke="#555" stroke-width="0.6" />
<line x1="69.60000000000001" y1="41.7" x2="70.9" y2="41.7" stroke="#555" stroke-width="0.6" />
<line x1="69.60000000000001" y1="74.69" x2="70.9" y2="74.69" stroke="#555" stroke-width="0.6" />
<line x1="69.60000000000001" y1="71.11" x2="70.9" y2="71.11" stroke="#555" stroke-width="0.6" />
<line x1="69.60000000000001" y1="68.58" x2="70.9" y2="68.58" stroke="#555" stroke-width="0.6" />
<line x1="69.60000000000001" y1="66.61" x2="70.9" y2="66.61" stroke="#555" stroke-width="0.6" />
<line x1="69.60000000000001" y1="65.0" x2="70.9" y2="65.0" stroke="#555" stroke-width="0.6" />
<line x1="69.60000000000001" y1="63.64" x2="70.9" y2="63.64" stroke="#555" stroke-width="0.6" />
<line x1="69.60000000000001" y1="62.47" x2="70.9" y2="62.47" stroke="#555" stroke-width="0.6" />
<line x1="69.60000000000001" y1="61.43" x2="70.9" y2="61.43" stroke="#555" stroke-width="0.6" />
<line x1="93.61" y1="98.8" x2="93.61" y2="100.1" stroke="#555" stroke-width="0.6" />
<line x1="97.19" y1="98.8" x2="97.19" y2="100.1" stroke="#555" stroke-width="0.6" />
<line x1="99.72" y1="98.8" x2="99.72" y2="100.1" stroke="#555" stroke-width="0.6" />
<line x1="101.69" y1="98.8" x2="101.69" y2="100.1" stroke="#555" stroke-width="0.6" />
<line x1="103.3" y1="98.8" x2="103.3" y2="100.1" stroke="#555" stroke-width="0.6" />
<line x1="104.66" y1="98.8" x2="104.66" y2="100.1" stroke="#555" stroke-width="0.6" />
<line x1="105.83" y1="98.8" x2="105.83" y2="100.1" stroke="#555" stroke-width="0.6" />
<line x1="106.87" y1="98.8" x2="106.87" y2="100.1" stroke="#555" stroke-width="0.6" />
<line x1="113.94" y1="98.8" x2="113.94" y2="100.1" stroke="#555" stroke-width="0.6" />
<line x1="117.53" y1="98.8" x2="117.53" y2="100.1" stroke="#555" stroke-width="0.6" />
<line x1="120.08" y1="98.8" x2="120.08" y2="100.1" stroke="#555" stroke-width="0.6" />
<line x1="122.06" y1="98.8" x2="122.06" y2="100.1" stroke="#555" stroke-width="0.6" />
<line x1="123.67" y1="98.8" x2="123.67" y2="100.1" stroke="#555" stroke-width="0.6" />
<line x1="125.04" y1="98.8" x2="125.04" y2="100.1" stroke="#555" stroke-width="0.6" />
<line x1="126.22" y1="98.8" x2="126.22" y2="100.1" stroke="#555" stroke-width="0.6" />
<line x1="127.27" y1="98.8" x2="127.27" y2="100.1" stroke="#555" stroke-width="0.6" />
<line x1="134.04" y1="98.8" x2="134.04" y2="100.1" stroke="#555" stroke-width="0.6" />
<line x1="137.46" y1="98.8" x2="137.46" y2="100.1" stroke="#555" stroke-width="0.6" />
<line x1="139.88" y1="98.8" x2="139.88" y2="100.1" stroke="#555" stroke-width="0.6" />
<line x1="141.76" y1="98.8" x2="141.76" y2="100.1" stroke="#555" stroke-width="0.6" />
<line x1="143.3" y1="98.8" x2="143.3" y2="100.1" stroke="#555" stroke-width="0.6" />
<line x1="144.59" y1="98.8" x2="144.59" y2="100.1" stroke="#555" stroke-width="0.6" />
<line x1="145.72" y1="98.8" x2="145.72" y2="100.1" stroke="#555" stroke-width="0.6" />
<line x1="146.71" y1="98.8" x2="146.71" y2="100.1" stroke="#555" stroke-width="0.6" />
<line x1="70.0" y1="171.72" x2="71.3" y2="171.72" stroke="#555" stroke-width="0.6" />
<line x1="70.0" y1="168.34" x2="71.3" y2="168.34" stroke="#555" stroke-width="0.6" />
<line x1="70.0" y1="165.94" x2="71.3" y2="165.94" stroke="#555" stroke-width="0.6" />
<line x1="70.0" y1="164.08" x2="71.3" y2="164.08" stroke="#555" stroke-width="0.6" />
<line x1="70.0" y1="162.56" x2="71.3" y2="162.56" stroke="#555" stroke-width="0.6" />
<line x1="70.0" y1="161.27" x2="71.3" y2="161.27" stroke="#555" stroke-width="0.6" />
<line x1="70.0" y1="160.16" x2="71.3" y2="160.16" stroke="#555" stroke-width="0.6" />
<line x1="70.0" y1="159.18" x2="71.3" y2="159.18" stroke="#555" stroke-width="0.6" />
<line x1="70.0" y1="191.13" x2="71.3" y2="191.13" stroke="#555" stroke-width="0.6" />
<line x1="70.0" y1="187.7" x2="71.3" y2="187.7" stroke="#555" stroke-width="0.6" />
<line x1="70.0" y1="185.26" x2="71.3" y2="185.26" stroke="#555" stroke-width="0.6" />
<line x1="70.0" y1="183.37" x2="71.3" y2="183.37" stroke="#555" stroke-width="0.6" />
<line x1="70.0" y1="181.83" x2="71.3" y2="181.83" stroke="#555" stroke-width="0.6" />
<line x1="70.0" y1="180.52" x2="71.3" y2="180.52" stroke="#555" stroke-width="0.6" />
<line x1="70.0" y1="179.39" x2="71.3" y2="179.39" stroke="#555" stroke-width="0.6" />
<line x1="70.0" y1="178.39" x2="71.3" y2="178.39" stroke="#555" stroke-width="0.6" />
<line x1="70.0" y1="210.63" x2="71.3" y2="210.63" stroke="#555" stroke-width="0.6" />
<line x1="70.0" y1="207.2" x2="71.3" y2="207.2" stroke="#555" stroke-width="0.6" />
<line x1="70.0" y1="204.76" x2="71.3" y2="204.76" stroke="#555" stroke-width="0.6" />
<line x1="70.0" y1="202.87" x2="71.3" y2="202.87" stroke="#555" stroke-width="0.6" />
<line x1="70.0" y1="201.33" x2="71.3" y2="201.33" stroke="#555" stroke-width="0.6" />
<line x1="70.0" y1="200.02" x2="71.3" y2="200.02" stroke="#555" stroke-width="0.6" />
<line x1="70.0" y1="198.89" x2="71.3" y2="198.89" stroke="#555" stroke-width="0.6" />
<line x1="70.0" y1="197.89" x2="71.3" y2="197.89" stroke="#555" stroke-width="0.6" />
<line x1="93.61" y1="236.0" x2="93.61" y2="237.3" stroke="#555" stroke-width="0.6" />
<line x1="97.19" y1="236.0" x2="97.19" y2="237.3" stroke="#555" stroke-width="0.6" />
<line x1="99.72" y1="236.0" x2="99.72" y2="237.3" stroke="#555" stroke-width="0.6" />
<line x1="101.69" y1="236.0" x2="101.69" y2="237.3" stroke="#555" stroke-width="0.6" />
<line x1="103.3" y1="236.0" x2="103.3" y2="237.3" stroke="#555" stroke-width="0.6" />
<line x1="104.66" y1="236.0" x2="104.66" y2="237.3" stroke="#555" stroke-width="0.6" />
<line x1="105.83" y1="236.0" x2="105.83" y2="237.3" stroke="#555" stroke-width="0.6" />
<line x1="106.87" y1="236.0" x2="106.87" y2="237.3" stroke="#555" stroke-width="0.6" />
<line x1="113.94" y1="236.0" x2="113.94" y2="237.3" stroke="#555" stroke-width="0.6" />
<line x1="117.53" y1="236.0" x2="117.53" y2="237.3" stroke="#555" stroke-width="0.6" />
<line x1="120.08" y1="236.0" x2="120.08" y2="237.3" stroke="#555" stroke-width="0.6" />
<line x1="122.06" y1="236.0" x2="122.06" y2="237.3" stroke="#555" stroke-width="0.6" />
<line x1="123.67" y1="236.0" x2="123.67" y2="237.3" stroke="#555" stroke-width="0.6" />
<line x1="125.04" y1="236.0" x2="125.04" y2="237.3" stroke="#555" stroke-width="0.6" />
<line x1="126.22" y1="236.0" x2="126.22" y2="237.3" stroke="#555" stroke-width="0.6" />
<line x1="127.27" y1="236.0" x2="127.27" y2="237.3" stroke="#555" stroke-width="0.6" />
<line x1="134.04" y1="236.0" x2="134.04" y2="237.3" stroke="#555" stroke-width="0.6" />
<line x1="137.46" y1="236.0" x2="137.46" y2="237.3" stroke="#555" stroke-width="0.6" />
<line x1="139.88" y1="236.0" x2="139.88" y2="237.3" stroke="#555" stroke-width="0.6" />
<line x1="141.76" y1="236.0" x2="141.76" y2="237.3" stroke="#555" stroke-width="0.6" />
<line x1="143.3" y1="236.0" x2="143.3" y2="237.3" stroke="#555" stroke-width="0.6" />
<line x1="144.59" y1="236.0" x2="144.59" y2="237.3" stroke="#555" stroke-width="0.6" />
<line x1="145.72" y1="236.0" x2="145.72" y2="237.3" stroke="#555" stroke-width="0.6" />
<line x1="146.71" y1="236.0" x2="146.71" y2="237.3" stroke="#555" stroke-width="0.6" />
<line x1="236.2" y1="98.23" x2="237.5" y2="98.23" stroke="#555" stroke-width="0.6" />
<line x1="236.2" y1="94.97" x2="237.5" y2="94.97" stroke="#555" stroke-width="0.6" />
<line x1="236.2" y1="92.66" x2="237.5" y2="92.66" stroke="#555" stroke-width="0.6" />
<line x1="236.2" y1="90.87" x2="237.5" y2="90.87" stroke="#555" stroke-width="0.6" />
<line x1="236.2" y1="89.4" x2="237.5" y2="89.4" stroke="#555" stroke-width="0.6" />
<line x1="236.2" y1="88.17" x2="237.5" y2="88.17" stroke="#555" stroke-width="0.6" />
<line x1="236.2" y1="87.09" x2="237.5" y2="87.09" stroke="#555" stroke-width="0.6" />
<line x1="236.2" y1="86.15" x2="237.5" y2="86.15" stroke="#555" stroke-width="0.6" />
<line x1="236.2" y1="116.73" x2="237.5" y2="116.73" stroke="#555" stroke-width="0.6" />
<line x1="236.2" y1="113.47" x2="237.5" y2="113.47" stroke="#555" stroke-width="0.6" />
<line x1="236.2" y1="111.16" x2="237.5" y2="111.16" stroke="#555" stroke-width="0.6" />
<line x1="236.2" y1="109.37" x2="237.5" y2="109.37" stroke="#555" stroke-width="0.6" />
<line x1="236.2" y1="107.9" x2="237.5" y2="107.9" stroke="#555" stroke-width="0.6" />
<line x1="236.2" y1="106.67" x2="237.5" y2="106.67" stroke="#555" stroke-width="0.6" />
<line x1="236.2" y1="105.59" x2="237.5" y2="105.59" stroke="#555" stroke-width="0.6" />
<line x1="236.2" y1="104.65" x2="237.5" y2="104.65" stroke="#555" stroke-width="0.6" />
<line x1="236.2" y1="135.23" x2="237.5" y2="135.23" stroke="#555" stroke-width="0.6" />
<line x1="236.2" y1="131.97" x2="237.5" y2="131.97" stroke="#555" stroke-width="0.6" />
<line x1="236.2" y1="129.66" x2="237.5" y2="129.66" stroke="#555" stroke-width="0.6" />
<line x1="236.2" y1="127.87" x2="237.5" y2="127.87" stroke="#555" stroke-width="0.6" />
<line x1="236.2" y1="126.4" x2="237.5" y2="126.4" stroke="#555" stroke-width="0.6" />
<line x1="236.2" y1="125.17" x2="237.5" y2="125.17" stroke="#555" stroke-width="0.6" />
<line x1="236.2" y1="124.09" x2="237.5" y2="124.09" stroke="#555" stroke-width="0.6" />
<line x1="236.2" y1="123.15" x2="237.5" y2="123.15" stroke="#555" stroke-width="0.6" />
<line x1="252.42" y1="154.4" x2="252.42" y2="155.70000000000002" stroke="#555" stroke-width="0.6" />
<line x1="255.59" y1="154.4" x2="255.59" y2="155.70000000000002" stroke="#555" stroke-width="0.6" />
<line x1="257.84" y1="154.4" x2="257.84" y2="155.70000000000002" stroke="#555" stroke-width="0.6" />
<line x1="259.58" y1="154.4" x2="259.58" y2="155.70000000000002" stroke="#555" stroke-width="0.6" />
<line x1="261.01" y1="154.4" x2="261.01" y2="155.70000000000002" stroke="#555" stroke-width="0.6" />
<line x1="262.21" y1="154.4" x2="262.21" y2="155.70000000000002" stroke="#555" stroke-width="0.6" />
<line x1="263.26" y1="154.4" x2="263.26" y2="155.70000000000002" stroke="#555" stroke-width="0.6" />
<line x1="264.18" y1="154.4" x2="264.18" y2="155.70000000000002" stroke="#555" stroke-width="0.6" />
<line x1="270.57" y1="154.4" x2="270.57" y2="155.70000000000002" stroke="#555" stroke-width="0.6" />
<line x1="273.83" y1="154.4" x2="273.83" y2="155.70000000000002" stroke="#555" stroke-width="0.6" />
<line x1="276.14" y1="154.4" x2="276.14" y2="155.70000000000002" stroke="#555" stroke-width="0.6" />
<line x1="277.93" y1="154.4" x2="277.93" y2="155.70000000000002" stroke="#555" stroke-width="0.6" />
<line x1="279.4" y1="154.4" x2="279.4" y2="155.70000000000002" stroke="#555" stroke-width="0.6" />
<line x1="280.63" y1="154.4" x2="280.63" y2="155.70000000000002" stroke="#555" stroke-width="0.6" />
<line x1="281.71" y1="154.4" x2="281.71" y2="155.70000000000002" stroke="#555" stroke-width="0.6" />
<line x1="282.65" y1="154.4" x2="282.65" y2="155.70000000000002" stroke="#555" stroke-width="0.6" />
<line x1="289.07" y1="154.4" x2="289.07" y2="155.70000000000002" stroke="#555" stroke-width="0.6" />
<line x1="292.33" y1="154.4" x2="292.33" y2="155.70000000000002" stroke="#555" stroke-width="0.6" />
<line x1="294.64" y1="154.4" x2="294.64" y2="155.70000000000002" stroke="#555" stroke-width="0.6" />
<line x1="296.43" y1="154.4" x2="296.43" y2="155.70000000000002" stroke="#555" stroke-width="0.6" />
<line x1="297.9" y1="154.4" x2="297.9" y2="155.70000000000002" stroke="#555" stroke-width="0.6" />
<line x1="299.13" y1="154.4" x2="299.13" y2="155.70000000000002" stroke="#555" stroke-width="0.6" />
<line x1="300.21" y1="154.4" x2="300.21" y2="155.70000000000002" stroke="#555" stroke-width="0.6" />
<line x1="301.15" y1="154.4" x2="301.15" y2="155.70000000000002" stroke="#555" stroke-width="0.6" />
<line x1="236.2" y1="181.43" x2="237.5" y2="181.43" stroke="#555" stroke-width="0.6" />
<line x1="236.2" y1="178.17" x2="237.5" y2="178.17" stroke="#555" stroke-width="0.6" />
<line x1="236.2" y1="175.86" x2="237.5" y2="175.86" stroke="#555" stroke-width="0.6" />
<line x1="236.2" y1="174.07" x2="237.5" y2="174.07" stroke="#555" stroke-width="0.6" />
<line x1="236.2" y1="172.6" x2="237.5" y2="172.6" stroke="#555" stroke-width="0.6" />
<line x1="236.2" y1="171.37" x2="237.5" y2="171.37" stroke="#555" stroke-width="0.6" />
<line x1="236.2" y1="170.29" x2="237.5" y2="170.29" stroke="#555" stroke-width="0.6" />
<line x1="236.2" y1="169.35" x2="237.5" y2="169.35" stroke="#555" stroke-width="0.6" />
<line x1="236.2" y1="199.93" x2="237.5" y2="199.93" stroke="#555" stroke-width="0.6" />
<line x1="236.2" y1="196.67" x2="237.5" y2="196.67" stroke="#555" stroke-width="0.6" />
<line x1="236.2" y1="194.36" x2="237.5" y2="194.36" stroke="#555" stroke-width="0.6" />
<line x1="236.2" y1="192.57" x2="237.5" y2="192.57" stroke="#555" stroke-width="0.6" />
<line x1="236.2" y1="191.1" x2="237.5" y2="191.1" stroke="#555" stroke-width="0.6" />
<line x1="236.2" y1="189.87" x2="237.5" y2="189.87" stroke="#555" stroke-width="0.6" />
<line x1="236.2" y1="188.79" x2="237.5" y2="188.79" stroke="#555" stroke-width="0.6" />
<line x1="236.2" y1="187.85" x2="237.5" y2="187.85" stroke="#555" stroke-width="0.6" />
<line x1="236.2" y1="218.43" x2="237.5" y2="218.43" stroke="#555" stroke-width="0.6" />
<line x1="236.2" y1="215.17" x2="237.5" y2="215.17" stroke="#555" stroke-width="0.6" />
<line x1="236.2" y1="212.86" x2="237.5" y2="212.86" stroke="#555" stroke-width="0.6" />
<line x1="236.2" y1="211.07" x2="237.5" y2="211.07" stroke="#555" stroke-width="0.6" />
<line x1="236.2" y1="209.6" x2="237.5" y2="209.6" stroke="#555" stroke-width="0.6" />
<line x1="236.2" y1="208.37" x2="237.5" y2="208.37" stroke="#555" stroke-width="0.6" />
<line x1="236.2" y1="207.29" x2="237.5" y2="207.29" stroke="#555" stroke-width="0.6" />
<line x1="236.2" y1="206.35" x2="237.5" y2="206.35" stroke="#555" stroke-width="0.6" />
<line x1="252.42" y1="236.7" x2="252.42" y2="238.0" stroke="#555" stroke-width="0.6" />
<line x1="255.59" y1="236.7" x2="255.59" y2="238.0" stroke="#555" stroke-width="0.6" />
<line x1="257.84" y1="236.7" x2="257.84" y2="238.0" stroke="#555" stroke-width="0.6" />
<line x1="259.58" y1="236.7" x2="259.58" y2="238.0" stroke="#555" stroke-width="0.6" />
<line x1="261.01" y1="236.7" x2="261.01" y2="238.0" stroke="#555" stroke-width="0.6" />
<line x1="262.21" y1="236.7" x2="262.21" y2="238.0" stroke="#555" stroke-width="0.6" />
<line x1="263.26" y1="236.7" x2="263.26" y2="238.0" stroke="#555" stroke-width="0.6" />
<line x1="264.18" y1="236.7" x2="264.18" y2="238.0" stroke="#555" stroke-width="0.6" />
<line x1="270.57" y1="236.7" x2="270.57" y2="238.0" stroke="#555" stroke-width="0.6" />
<line x1="273.83" y1="236.7" x2="273.83" y2="238.0" stroke="#555" stroke-width="0.6" />
<line x1="276.14" y1="236.7" x2="276.14" y2="238.0" stroke="#555" stroke-width="0.6" />
<line x1="277.93" y1="236.7" x2="277.93" y2="238.0" stroke="#555" stroke-width="0.6" />
<line x1="279.4" y1="236.7" x2="279.4" y2="238.0" stroke="#555" stroke-width="0.6" />
<line x1="280.63" y1="236.7" x2="280.63" y2="238.0" stroke="#555" stroke-width="0.6" />
<line x1="281.71" y1="236.7" x2="281.71" y2="238.0" stroke="#555" stroke-width="0.6" />
<line x1="282.65" y1="236.7" x2="282.65" y2="238.0" stroke="#555" stroke-width="0.6" />
<line x1="289.07" y1="236.7" x2="289.07" y2="238.0" stroke="#555" stroke-width="0.6" />
<line x1="292.33" y1="236.7" x2="292.33" y2="238.0" stroke="#555" stroke-width="0.6" />
<line x1="294.64" y1="236.7" x2="294.64" y2="238.0" stroke="#555" stroke-width="0.6" />
<line x1="296.43" y1="236.7" x2="296.43" y2="238.0" stroke="#555" stroke-width="0.6" />
<line x1="297.9" y1="236.7" x2="297.9" y2="238.0" stroke="#555" stroke-width="0.6" />
<line x1="299.13" y1="236.7" x2="299.13" y2="238.0" stroke="#555" stroke-width="0.6" />
<line x1="300.21" y1="236.7" x2="300.21" y2="238.0" stroke="#555" stroke-width="0.6" />
<line x1="301.15" y1="236.7" x2="301.15" y2="238.0" stroke="#555" stroke-width="0.6" />
<line x1="319.7" y1="98.23" x2="321.0" y2="98.23" stroke="#555" stroke-width="0.6" />
<line x1="319.7" y1="94.97" x2="321.0" y2="94.97" stroke="#555" stroke-width="0.6" />
<line x1="319.7" y1="92.66" x2="321.0" y2="92.66" stroke="#555" stroke-width="0.6" />
<line x1="319.7" y1="90.87" x2="321.0" y2="90.87" stroke="#555" stroke-width="0.6" />
<line x1="319.7" y1="89.4" x2="321.0" y2="89.4" stroke="#555" stroke-width="0.6" />
<line x1="319.7" y1="88.17" x2="321.0" y2="88.17" stroke="#555" stroke-width="0.6" />
<line x1="319.7" y1="87.09" x2="321.0" y2="87.09" stroke="#555" stroke-width="0.6" />
<line x1="319.7" y1="86.15" x2="321.0" y2="86.15" stroke="#555" stroke-width="0.6" />
<line x1="319.7" y1="116.73" x2="321.0" y2="116.73" stroke="#555" stroke-width="0.6" />
<line x1="319.7" y1="113.47" x2="321.0" y2="113.47" stroke="#555" stroke-width="0.6" />
<line x1="319.7" y1="111.16" x2="321.0" y2="111.16" stroke="#555" stroke-width="0.6" />
<line x1="319.7" y1="109.37" x2="321.0" y2="109.37" stroke="#555" stroke-width="0.6" />
<line x1="319.7" y1="107.9" x2="321.0" y2="107.9" stroke="#555" stroke-width="0.6" />
<line x1="319.7" y1="106.67" x2="321.0" y2="106.67" stroke="#555" stroke-width="0.6" />
<line x1="319.7" y1="105.59" x2="321.0" y2="105.59" stroke="#555" stroke-width="0.6" />
<line x1="319.7" y1="104.65" x2="321.0" y2="104.65" stroke="#555" stroke-width="0.6" />
<line x1="319.7" y1="135.23" x2="321.0" y2="135.23" stroke="#555" stroke-width="0.6" />
<line x1="319.7" y1="131.97" x2="321.0" y2="131.97" stroke="#555" stroke-width="0.6" />
<line x1="319.7" y1="129.66" x2="321.0" y2="129.66" stroke="#555" stroke-width="0.6" />
<line x1="319.7" y1="127.87" x2="321.0" y2="127.87" stroke="#555" stroke-width="0.6" />
<line x1="319.7" y1="126.4" x2="321.0" y2="126.4" stroke="#555" stroke-width="0.6" />
<line x1="319.7" y1="125.17" x2="321.0" y2="125.17" stroke="#555" stroke-width="0.6" />
<line x1="319.7" y1="124.09" x2="321.0" y2="124.09" stroke="#555" stroke-width="0.6" />
<line x1="319.7" y1="123.15" x2="321.0" y2="123.15" stroke="#555" stroke-width="0.6" />
<line x1="335.92" y1="154.4" x2="335.92" y2="155.70000000000002" stroke="#555" stroke-width="0.6" />
<line x1="339.09" y1="154.4" x2="339.09" y2="155.70000000000002" stroke="#555" stroke-width="0.6" />
<line x1="341.34" y1="154.4" x2="341.34" y2="155.70000000000002" stroke="#555" stroke-width="0.6" />
<line x1="343.08" y1="154.4" x2="343.08" y2="155.70000000000002" stroke="#555" stroke-width="0.6" />
<line x1="344.51" y1="154.4" x2="344.51" y2="155.70000000000002" stroke="#555" stroke-width="0.6" />
<line x1="345.71" y1="154.4" x2="345.71" y2="155.70000000000002" stroke="#555" stroke-width="0.6" />
<line x1="346.76" y1="154.4" x2="346.76" y2="155.70000000000002" stroke="#555" stroke-width="0.6" />
<line x1="347.68" y1="154.4" x2="347.68" y2="155.70000000000002" stroke="#555" stroke-width="0.6" />
<line x1="354.07" y1="154.4" x2="354.07" y2="155.70000000000002" stroke="#555" stroke-width="0.6" />
<line x1="357.33" y1="154.4" x2="357.33" y2="155.70000000000002" stroke="#555" stroke-width="0.6" />
<line x1="359.64" y1="154.4" x2="359.64" y2="155.70000000000002" stroke="#555" stroke-width="0.6" />
<line x1="361.43" y1="154.4" x2="361.43" y2="155.70000000000002" stroke="#555" stroke-width="0.6" />
<line x1="362.9" y1="154.4" x2="362.9" y2="155.70000000000002" stroke="#555" stroke-width="0.6" />
<line x1="364.13" y1="154.4" x2="364.13" y2="155.70000000000002" stroke="#555" stroke-width="0.6" />
<line x1="365.21" y1="154.4" x2="365.21" y2="155.70000000000002" stroke="#555" stroke-width="0.6" />
<line x1="366.15" y1="154.4" x2="366.15" y2="155.70000000000002" stroke="#555" stroke-width="0.6" />
<line x1="372.57" y1="154.4" x2="372.57" y2="155.70000000000002" stroke="#555" stroke-width="0.6" />
<line x1="375.83" y1="154.4" x2="375.83" y2="155.70000000000002" stroke="#555" stroke-width="0.6" />
<line x1="378.14" y1="154.4" x2="378.14" y2="155.70000000000002" stroke="#555" stroke-width="0.6" />
<line x1="379.93" y1="154.4" x2="379.93" y2="155.70000000000002" stroke="#555" stroke-width="0.6" />
<line x1="381.4" y1="154.4" x2="381.4" y2="155.70000000000002" stroke="#555" stroke-width="0.6" />
<line x1="382.63" y1="154.4" x2="382.63" y2="155.70000000000002" stroke="#555" stroke-width="0.6" />
<line x1="383.71" y1="154.4" x2="383.71" y2="155.70000000000002" stroke="#555" stroke-width="0.6" />
<line x1="384.65" y1="154.4" x2="384.65" y2="155.70000000000002" stroke="#555" stroke-width="0.6" />
<line x1="319.7" y1="181.43" x2="321.0" y2="181.43" stroke="#555" stroke-width="0.6" />
<line x1="319.7" y1="178.17" x2="321.0" y2="178.17" stroke="#555" stroke-width="0.6" />
<line x1="319.7" y1="175.86" x2="321.0" y2="175.86" stroke="#555" stroke-width="0.6" />
<line x1="319.7" y1="174.07" x2="321.0" y2="174.07" stroke="#555" stroke-width="0.6" />
<line x1="319.7" y1="172.6" x2="321.0" y2="172.6" stroke="#555" stroke-width="0.6" />
<line x1="319.7" y1="171.37" x2="321.0" y2="171.37" stroke="#555" stroke-width="0.6" />
<line x1="319.7" y1="170.29" x2="321.0" y2="170.29" stroke="#555" stroke-width="0.6" />
<line x1="319.7" y1="169.35" x2="321.0" y2="169.35" stroke="#555" stroke-width="0.6" />
<line x1="319.7" y1="199.93" x2="321.0" y2="199.93" stroke="#555" stroke-width="0.6" />
<line x1="319.7" y1="196.67" x2="321.0" y2="196.67" stroke="#555" stroke-width="0.6" />
<line x1="319.7" y1="194.36" x2="321.0" y2="194.36" stroke="#555" stroke-width="0.6" />
<line x1="319.7" y1="192.57" x2="321.0" y2="192.57" stroke="#555" stroke-width="0.6" />
<line x1="319.7" y1="191.1" x2="321.0" y2="191.1" stroke="#555" stroke-width="0.6" />
<line x1="319.7" y1="189.87" x2="321.0" y2="189.87" stroke="#555" stroke-width="0.6" />
<line x1="319.7" y1="188.79" x2="321.0" y2="188.79" stroke="#555" stroke-width="0.6" />
<line x1="319.7" y1="187.85" x2="321.0" y2="187.85" stroke="#555" stroke-width="0.6" />
<line x1="319.7" y1="218.43" x2="321.0" y2="218.43" stroke="#555" stroke-width="0.6" />
<line x1="319.7" y1="215.17" x2="321.0" y2="215.17" stroke="#555" stroke-width="0.6" />
<line x1="319.7" y1="212.86" x2="321.0" y2="212.86" stroke="#555" stroke-width="0.6" />
<line x1="319.7" y1="211.07" x2="321.0" y2="211.07" stroke="#555" stroke-width="0.6" />
<line x1="319.7" y1="209.6" x2="321.0" y2="209.6" stroke="#555" stroke-width="0.6" />
<line x1="319.7" y1="208.37" x2="321.0" y2="208.37" stroke="#555" stroke-width="0.6" />
<line x1="319.7" y1="207.29" x2="321.0" y2="207.29" stroke="#555" stroke-width="0.6" />
<line x1="319.7" y1="206.35" x2="321.0" y2="206.35" stroke="#555" stroke-width="0.6" />
<line x1="335.92" y1="236.7" x2="335.92" y2="238.0" stroke="#555" stroke-width="0.6" />
<line x1="339.09" y1="236.7" x2="339.09" y2="238.0" stroke="#555" stroke-width="0.6" />
<line x1="341.34" y1="236.7" x2="341.34" y2="238.0" stroke="#555" stroke-width="0.6" />
<line x1="343.08" y1="236.7" x2="343.08" y2="238.0" stroke="#555" stroke-width="0.6" />
<line x1="344.51" y1="236.7" x2="344.51" y2="238.0" stroke="#555" stroke-width="0.6" />
<line x1="345.71" y1="236.7" x2="345.71" y2="238.0" stroke="#555" stroke-width="0.6" />
<line x1="346.76" y1="236.7" x2="346.76" y2="238.0" stroke="#555" stroke-width="0.6" />
<line x1="347.68" y1="236.7" x2="347.68" y2="238.0" stroke="#555" stroke-width="0.6" />
<line x1="354.07" y1="236.7" x2="354.07" y2="238.0" stroke="#555" stroke-width="0.6" />
<line x1="357.33" y1="236.7" x2="357.33" y2="238.0" stroke="#555" stroke-width="0.6" />
<line x1="359.64" y1="236.7" x2="359.64" y2="238.0" stroke="#555" stroke-width="0.6" />
<line x1="361.43" y1="236.7" x2="361.43" y2="238.0" stroke="#555" stroke-width="0.6" />
<line x1="362.9" y1="236.7" x2="362.9" y2="238.0" stroke="#555" stroke-width="0.6" />
<line x1="364.13" y1="236.7" x2="364.13" y2="238.0" stroke="#555" stroke-width="0.6" />
<line x1="365.21" y1="236.7" x2="365.21" y2="238.0" stroke="#555" stroke-width="0.6" />
<line x1="366.15" y1="236.7" x2="366.15" y2="238.0" stroke="#555" stroke-width="0.6" />
<line x1="372.57" y1="236.7" x2="372.57" y2="238.0" stroke="#555" stroke-width="0.6" />
<line x1="375.83" y1="236.7" x2="375.83" y2="238.0" stroke="#555" stroke-width="0.6" />
<line x1="378.14" y1="236.7" x2="378.14" y2="238.0" stroke="#555" stroke-width="0.6" />
<line x1="379.93" y1="236.7" x2="379.93" y2="238.0" stroke="#555" stroke-width="0.6" />
<line x1="381.4" y1="236.7" x2="381.4" y2="238.0" stroke="#555" stroke-width="0.6" />
<line x1="382.63" y1="236.7" x2="382.63" y2="238.0" stroke="#555" stroke-width="0.6" />
<line x1="383.71" y1="236.7" x2="383.71" y2="238.0" stroke="#555" stroke-width="0.6" />
<line x1="384.65" y1="236.7" x2="384.65" y2="238.0" stroke="#555" stroke-width="0.6" />
<line x1="422.5" y1="98.23" x2="423.8" y2="98.23" stroke="#555" stroke-width="0.6" />
<line x1="422.5" y1="94.97" x2="423.8" y2="94.97" stroke="#555" stroke-width="0.6" />
<line x1="422.5" y1="92.66" x2="423.8" y2="92.66" stroke="#555" stroke-width="0.6" />
<line x1="422.5" y1="90.87" x2="423.8" y2="90.87" stroke="#555" stroke-width="0.6" />
<line x1="422.5" y1="89.4" x2="423.8" y2="89.4" stroke="#555" stroke-width="0.6" />
<line x1="422.5" y1="88.17" x2="423.8" y2="88.17" stroke="#555" stroke-width="0.6" />
<line x1="422.5" y1="87.09" x2="423.8" y2="87.09" stroke="#555" stroke-width="0.6" />
<line x1="422.5" y1="86.15" x2="423.8" y2="86.15" stroke="#555" stroke-width="0.6" />
<line x1="422.5" y1="116.73" x2="423.8" y2="116.73" stroke="#555" stroke-width="0.6" />
<line x1="422.5" y1="113.47" x2="423.8" y2="113.47" stroke="#555" stroke-width="0.6" />
<line x1="422.5" y1="111.16" x2="423.8" y2="111.16" stroke="#555" stroke-width="0.6" />
<line x1="422.5" y1="109.37" x2="423.8" y2="109.37" stroke="#555" stroke-width="0.6" />
<line x1="422.5" y1="107.9" x2="423.8" y2="107.9" stroke="#555" stroke-width="0.6" />
<line x1="422.5" y1="106.67" x2="423.8" y2="106.67" stroke="#555" stroke-width="0.6" />
<line x1="422.5" y1="105.59" x2="423.8" y2="105.59" stroke="#555" stroke-width="0.6" />
<line x1="422.5" y1="104.65" x2="423.8" y2="104.65" stroke="#555" stroke-width="0.6" />
<line x1="422.5" y1="135.23" x2="423.8" y2="135.23" stroke="#555" stroke-width="0.6" />
<line x1="422.5" y1="131.97" x2="423.8" y2="131.97" stroke="#555" stroke-width="0.6" />
<line x1="422.5" y1="129.66" x2="423.8" y2="129.66" stroke="#555" stroke-width="0.6" />
<line x1="422.5" y1="127.87" x2="423.8" y2="127.87" stroke="#555" stroke-width="0.6" />
<line x1="422.5" y1="126.4" x2="423.8" y2="126.4" stroke="#555" stroke-width="0.6" />
<line x1="422.5" y1="125.17" x2="423.8" y2="125.17" stroke="#555" stroke-width="0.6" />
<line x1="422.5" y1="124.09" x2="423.8" y2="124.09" stroke="#555" stroke-width="0.6" />
<line x1="422.5" y1="123.15" x2="423.8" y2="123.15" stroke="#555" stroke-width="0.6" />
<line x1="438.72" y1="154.4" x2="438.72" y2="155.70000000000002" stroke="#555" stroke-width="0.6" />
<line x1="441.89" y1="154.4" x2="441.89" y2="155.70000000000002" stroke="#555" stroke-width="0.6" />
<line x1="444.14" y1="154.4" x2="444.14" y2="155.70000000000002" stroke="#555" stroke-width="0.6" />
<line x1="445.88" y1="154.4" x2="445.88" y2="155.70000000000002" stroke="#555" stroke-width="0.6" />
<line x1="447.31" y1="154.4" x2="447.31" y2="155.70000000000002" stroke="#555" stroke-width="0.6" />
<line x1="448.51" y1="154.4" x2="448.51" y2="155.70000000000002" stroke="#555" stroke-width="0.6" />
<line x1="449.56" y1="154.4" x2="449.56" y2="155.70000000000002" stroke="#555" stroke-width="0.6" />
<line x1="450.48" y1="154.4" x2="450.48" y2="155.70000000000002" stroke="#555" stroke-width="0.6" />
<line x1="456.87" y1="154.4" x2="456.87" y2="155.70000000000002" stroke="#555" stroke-width="0.6" />
<line x1="460.13" y1="154.4" x2="460.13" y2="155.70000000000002" stroke="#555" stroke-width="0.6" />
<line x1="462.44" y1="154.4" x2="462.44" y2="155.70000000000002" stroke="#555" stroke-width="0.6" />
<line x1="464.23" y1="154.4" x2="464.23" y2="155.70000000000002" stroke="#555" stroke-width="0.6" />
<line x1="465.7" y1="154.4" x2="465.7" y2="155.70000000000002" stroke="#555" stroke-width="0.6" />
<line x1="466.93" y1="154.4" x2="466.93" y2="155.70000000000002" stroke="#555" stroke-width="0.6" />
<line x1="468.01" y1="154.4" x2="468.01" y2="155.70000000000002" stroke="#555" stroke-width="0.6" />
<line x1="468.95" y1="154.4" x2="468.95" y2="155.70000000000002" stroke="#555" stroke-width="0.6" />
<line x1="475.37" y1="154.4" x2="475.37" y2="155.70000000000002" stroke="#555" stroke-width="0.6" />
<line x1="478.63" y1="154.4" x2="478.63" y2="155.70000000000002" stroke="#555" stroke-width="0.6" />
<line x1="480.94" y1="154.4" x2="480.94" y2="155.70000000000002" stroke="#555" stroke-width="0.6" />
<line x1="482.73" y1="154.4" x2="482.73" y2="155.70000000000002" stroke="#555" stroke-width="0.6" />
<line x1="484.2" y1="154.4" x2="484.2" y2="155.70000000000002" stroke="#555" stroke-width="0.6" />
<line x1="485.43" y1="154.4" x2="485.43" y2="155.70000000000002" stroke="#555" stroke-width="0.6" />
<line x1="486.51" y1="154.4" x2="486.51" y2="155.70000000000002" stroke="#555" stroke-width="0.6" />
<line x1="487.45" y1="154.4" x2="487.45" y2="155.70000000000002" stroke="#555" stroke-width="0.6" />
<line x1="422.5" y1="181.43" x2="423.8" y2="181.43" stroke="#555" stroke-width="0.6" />
<line x1="422.5" y1="178.17" x2="423.8" y2="178.17" stroke="#555" stroke-width="0.6" />
<line x1="422.5" y1="175.86" x2="423.8" y2="175.86" stroke="#555" stroke-width="0.6" />
<line x1="422.5" y1="174.07" x2="423.8" y2="174.07" stroke="#555" stroke-width="0.6" />
<line x1="422.5" y1="172.6" x2="423.8" y2="172.6" stroke="#555" stroke-width="0.6" />
<line x1="422.5" y1="171.37" x2="423.8" y2="171.37" stroke="#555" stroke-width="0.6" />
<line x1="422.5" y1="170.29" x2="423.8" y2="170.29" stroke="#555" stroke-width="0.6" />
<line x1="422.5" y1="169.35" x2="423.8" y2="169.35" stroke="#555" stroke-width="0.6" />
<line x1="422.5" y1="199.93" x2="423.8" y2="199.93" stroke="#555" stroke-width="0.6" />
<line x1="422.5" y1="196.67" x2="423.8" y2="196.67" stroke="#555" stroke-width="0.6" />
<line x1="422.5" y1="194.36" x2="423.8" y2="194.36" stroke="#555" stroke-width="0.6" />
<line x1="422.5" y1="192.57" x2="423.8" y2="192.57" stroke="#555" stroke-width="0.6" />
<line x1="422.5" y1="191.1" x2="423.8" y2="191.1" stroke="#555" stroke-width="0.6" />
<line x1="422.5" y1="189.87" x2="423.8" y2="189.87" stroke="#555" stroke-width="0.6" />
<line x1="422.5" y1="188.79" x2="423.8" y2="188.79" stroke="#555" stroke-width="0.6" />
<line x1="422.5" y1="187.85" x2="423.8" y2="187.85" stroke="#555" stroke-width="0.6" />
<line x1="422.5" y1="218.43" x2="423.8" y2="218.43" stroke="#555" stroke-width="0.6" />
<line x1="422.5" y1="215.17" x2="423.8" y2="215.17" stroke="#555" stroke-width="0.6" />
<line x1="422.5" y1="212.86" x2="423.8" y2="212.86" stroke="#555" stroke-width="0.6" />
<line x1="422.5" y1="211.07" x2="423.8" y2="211.07" stroke="#555" stroke-width="0.6" />
<line x1="422.5" y1="209.6" x2="423.8" y2="209.6" stroke="#555" stroke-width="0.6" />
<line x1="422.5" y1="208.37" x2="423.8" y2="208.37" stroke="#555" stroke-width="0.6" />
<line x1="422.5" y1="207.29" x2="423.8" y2="207.29" stroke="#555" stroke-width="0.6" />
<line x1="422.5" y1="206.35" x2="423.8" y2="206.35" stroke="#555" stroke-width="0.6" />
<line x1="438.72" y1="236.7" x2="438.72" y2="238.0" stroke="#555" stroke-width="0.6" />
<line x1="441.89" y1="236.7" x2="441.89" y2="238.0" stroke="#555" stroke-width="0.6" />
<line x1="444.14" y1="236.7" x2="444.14" y2="238.0" stroke="#555" stroke-width="0.6" />
<line x1="445.88" y1="236.7" x2="445.88" y2="238.0" stroke="#555" stroke-width="0.6" />
<line x1="447.31" y1="236.7" x2="447.31" y2="238.0" stroke="#555" stroke-width="0.6" />
<line x1="448.51" y1="236.7" x2="448.51" y2="238.0" stroke="#555" stroke-width="0.6" />
<line x1="449.56" y1="236.7" x2="449.56" y2="238.0" stroke="#555" stroke-width="0.6" />
<line x1="450.48" y1="236.7" x2="450.48" y2="238.0" stroke="#555" stroke-width="0.6" />
<line x1="456.87" y1="236.7" x2="456.87" y2="238.0" stroke="#555" stroke-width="0.6" />
<line x1="460.13" y1="236.7" x2="460.13" y2="238.0" stroke="#555" stroke-width="0.6" />
<line x1="462.44" y1="236.7" x2="462.44" y2="238.0" stroke="#555" stroke-width="0.6" />
<line x1="464.23" y1="236.7" x2="464.23" y2="238.0" stroke="#555" stroke-width="0.6" />
<line x1="465.7" y1="236.7" x2="465.7" y2="238.0" stroke="#555" stroke-width="0.6" />
<line x1="466.93" y1="236.7" x2="466.93" y2="238.0" stroke="#555" stroke-width="0.6" />
<line x1="468.01" y1="236.7" x2="468.01" y2="238.0" stroke="#555" stroke-width="0.6" />
<line x1="468.95" y1="236.7" x2="468.95" y2="238.0" stroke="#555" stroke-width="0.6" />
<line x1="475.37" y1="236.7" x2="475.37" y2="238.0" stroke="#555" stroke-width="0.6" />
<line x1="478.63" y1="236.7" x2="478.63" y2="238.0" stroke="#555" stroke-width="0.6" />
<line x1="480.94" y1="236.7" x2="480.94" y2="238.0" stroke="#555" stroke-width="0.6" />
<line x1="482.73" y1="236.7" x2="482.73" y2="238.0" stroke="#555" stroke-width="0.6" />
<line x1="484.2" y1="236.7" x2="484.2" y2="238.0" stroke="#555" stroke-width="0.6" />
<line x1="485.43" y1="236.7" x2="485.43" y2="238.0" stroke="#555" stroke-width="0.6" />
<line x1="486.51" y1="236.7" x2="486.51" y2="238.0" stroke="#555" stroke-width="0.6" />
<line x1="487.45" y1="236.7" x2="487.45" y2="238.0" stroke="#555" stroke-width="0.6" />
<line x1="68.7" y1="21.4" x2="70.9" y2="21.4" stroke="#444" stroke-width="0.7" />
<text x="62.5" y="22.799999999999997" font-size="4" fill="#aaa">10</text>
<line x1="68.7" y1="40.8" x2="70.9" y2="40.8" stroke="#444" stroke-width="0.7" />
<text x="62.5" y="42.199999999999996" font-size="4" fill="#aaa">10</text>
<line x1="68.7" y1="60.5" x2="70.9" y2="60.5" stroke="#444" stroke-width="0.7" />
<text x="62.5" y="61.9" font-size="4" fill="#aaa">10</text>
<line x1="68.7" y1="80.8" x2="70.9" y2="80.8" stroke="#444" stroke-width="0.7" />
<text x="62.5" y="82.2" font-size="4" fill="#aaa">10</text>
<line x1="68.7" y1="90.3" x2="70.9" y2="90.3" stroke="#444" stroke-width="0.7" />
<text x="62.5" y="91.7" font-size="4" fill="#aaa">10</text>
<line x1="79.5" y1="98.8" x2="79.5" y2="101.0" stroke="#444" stroke-width="0.7" />
<text x="77.5" y="106.5" font-size="4" fill="#aaa">10</text>
<line x1="87.5" y1="98.8" x2="87.5" y2="101.0" stroke="#444" stroke-width="0.7" />
<text x="85.5" y="106.5" font-size="4" fill="#aaa">10</text>
<line x1="107.8" y1="98.8" x2="107.8" y2="101.0" stroke="#444" stroke-width="0.7" />
<text x="105.8" y="106.5" font-size="4" fill="#aaa">10</text>
<line x1="128.2" y1="98.8" x2="128.2" y2="101.0" stroke="#444" stroke-width="0.7" />
<text x="126.19999999999999" y="106.5" font-size="4" fill="#aaa">10</text>
<line x1="147.6" y1="98.8" x2="147.6" y2="101.0" stroke="#444" stroke-width="0.7" />
<text x="145.6" y="106.5" font-size="4" fill="#aaa">10</text>
<line x1="69.1" y1="158.3" x2="71.3" y2="158.3" stroke="#444" stroke-width="0.7" />
<text x="62.5" y="159.70000000000002" font-size="4" fill="#aaa">10</text>
<line x1="69.1" y1="177.5" x2="71.3" y2="177.5" stroke="#444" stroke-width="0.7" />
<text x="62.5" y="178.9" font-size="4" fill="#aaa">10</text>
<line x1="69.1" y1="197.0" x2="71.3" y2="197.0" stroke="#444" stroke-width="0.7" />
<text x="62.5" y="198.4" font-size="4" fill="#aaa">10</text>
<line x1="69.1" y1="216.5" x2="71.3" y2="216.5" stroke="#444" stroke-width="0.7" />
<text x="62.5" y="217.9" font-size="4" fill="#aaa">10</text>
<line x1="69.1" y1="226.0" x2="71.3" y2="226.0" stroke="#444" stroke-width="0.7" />
<text x="62.5" y="227.4" font-size="4" fill="#aaa">10</text>
<line x1="79.5" y1="236.0" x2="79.5" y2="238.2" stroke="#444" stroke-width="0.7" />
<text x="77.5" y="243.0" font-size="4" fill="#aaa">10</text>
<line x1="87.5" y1="236.0" x2="87.5" y2="238.2" stroke="#444" stroke-width="0.7" />
<text x="85.5" y="243.0" font-size="4" fill="#aaa">10</text>
<line x1="107.8" y1="236.0" x2="107.8" y2="238.2" stroke="#444" stroke-width="0.7" />
<text x="105.8" y="243.0" font-size="4" fill="#aaa">10</text>
<line x1="128.2" y1="236.0" x2="128.2" y2="238.2" stroke="#444" stroke-width="0.7" />
<text x="126.19999999999999" y="243.0" font-size="4" fill="#aaa">10</text>
<line x1="147.6" y1="236.0" x2="147.6" y2="238.2" stroke="#444" stroke-width="0.7" />
<text x="145.6" y="243.0" font-size="4" fill="#aaa">10</text>
<line x1="235.3" y1="85.3" x2="237.5" y2="85.3" stroke="#444" stroke-width="0.7" />
<line x1="235.3" y1="103.8" x2="237.5" y2="103.8" stroke="#444" stroke-width="0.7" />
<line x1="235.3" y1="122.3" x2="237.5" y2="122.3" stroke="#444" stroke-width="0.7" />
<line x1="235.3" y1="140.8" x2="237.5" y2="140.8" stroke="#444" stroke-width="0.7" />
<line x1="235.3" y1="149.3" x2="237.5" y2="149.3" stroke="#444" stroke-width="0.7" />
<line x1="242.5" y1="154.4" x2="242.5" y2="156.6" stroke="#444" stroke-width="0.7" />
<line x1="247.0" y1="154.4" x2="247.0" y2="156.6" stroke="#444" stroke-width="0.7" />
<line x1="265.0" y1="154.4" x2="265.0" y2="156.6" stroke="#444" stroke-width="0.7" />
<line x1="283.5" y1="154.4" x2="283.5" y2="156.6" stroke="#444" stroke-width="0.7" />
<line x1="302.0" y1="154.4" x2="302.0" y2="156.6" stroke="#444" stroke-width="0.7" />
<line x1="235.3" y1="168.5" x2="237.5" y2="168.5" stroke="#444" stroke-width="0.7" />
<text x="229.0" y="169.9" font-size="4" fill="#aaa">10</text>
<line x1="235.3" y1="187.0" x2="237.5" y2="187.0" stroke="#444" stroke-width="0.7" />
<text x="229.0" y="188.4" font-size="4" fill="#aaa">10</text>
<line x1="235.3" y1="205.5" x2="237.5" y2="205.5" stroke="#444" stroke-width="0.7" />
<text x="229.0" y="206.9" font-size="4" fill="#aaa">10</text>
<line x1="235.3" y1="224.0" x2="237.5" y2="224.0" stroke="#444" stroke-width="0.7" />
<text x="229.0" y="225.4" font-size="4" fill="#aaa">10</text>
<line x1="235.3" y1="232.5" x2="237.5" y2="232.5" stroke="#444" stroke-width="0.7" />
<text x="229.0" y="233.9" font-size="4" fill="#aaa">10</text>
<line x1="242.5" y1="236.7" x2="242.5" y2="238.89999999999998" stroke="#444" stroke-width="0.7" />
<text x="240.5" y="242.2" font-size="4" fill="#aaa">10</text>
<line x1="247.0" y1="236.7" x2="247.0" y2="238.89999999999998" stroke="#444" stroke-width="0.7" />
<text x="245.0" y="242.2" font-size="4" fill="#aaa">10</text>
<line x1="265.0" y1="236.7" x2="265.0" y2="238.89999999999998" stroke="#444" stroke-width="0.7" />
<text x="263.0" y="242.2" font-size="4" fill="#aaa">10</text>
<line x1="283.5" y1="236.7" x2="283.5" y2="238.89999999999998" stroke="#444" stroke-width="0.7" />
<text x="281.5" y="242.2" font-size="4" fill="#aaa">10</text>
<line x1="302.0" y1="236.7" x2="302.0" y2="238.89999999999998" stroke="#444" stroke-width="0.7" />
<text x="300.0" y="242.2" font-size="4" fill="#aaa">10</text>
<line x1="318.8" y1="85.3" x2="321.0" y2="85.3" stroke="#444" stroke-width="0.7" />
<line x1="318.8" y1="103.8" x2="321.0" y2="103.8" stroke="#444" stroke-width="0.7" />
<line x1="318.8" y1="122.3" x2="321.0" y2="122.3" stroke="#444" stroke-width="0.7" />
<line x1="318.8" y1="140.8" x2="321.0" y2="140.8" stroke="#444" stroke-width="0.7" />
<line x1="318.8" y1="149.3" x2="321.0" y2="149.3" stroke="#444" stroke-width="0.7" />
<line x1="326.0" y1="154.4" x2="326.0" y2="156.6" stroke="#444" stroke-width="0.7" />
<line x1="330.5" y1="154.4" x2="330.5" y2="156.6" stroke="#444" stroke-width="0.7" />
<line x1="348.5" y1="154.4" x2="348.5" y2="156.6" stroke="#444" stroke-width="0.7" />
<line x1="367.0" y1="154.4" x2="367.0" y2="156.6" stroke="#444" stroke-width="0.7" />
<line x1="385.5" y1="154.4" x2="385.5" y2="156.6" stroke="#444" stroke-width="0.7" />
<line x1="318.8" y1="168.5" x2="321.0" y2="168.5" stroke="#444" stroke-width="0.7" />
<line x1="318.8" y1="187.0" x2="321.0" y2="187.0" stroke="#444" stroke-width="0.7" />
<line x1="318.8" y1="205.5" x2="321.0" y2="205.5" stroke="#444" stroke-width="0.7" />
<line x1="318.8" y1="224.0" x2="321.0" y2="224.0" stroke="#444" stroke-width="0.7" />
<line x1="318.8" y1="232.5" x2="321.0" y2="232.5" stroke="#444" stroke-width="0.7" />
<line x1="326.0" y1="236.7" x2="326.0" y2="238.89999999999998" stroke="#444" stroke-width="0.7" />
<line x1="330.5" y1="236.7" x2="330.5" y2="238.89999999999998" stroke="#444" stroke-width="0.7" />
<line x1="348.5" y1="236.7" x2="348.5" y2="238.89999999999998" stroke="#444" stroke-width="0.7" />
<line x1="367.0" y1="236.7" x2="367.0" y2="238.89999999999998" stroke="#444" stroke-width="0.7" />
<line x1="385.5" y1="236.7" x2="385.5" y2="238.89999999999998" stroke="#444" stroke-width="0.7" />
<line x1="421.6" y1="85.3" x2="423.8" y2="85.3" stroke="#444" stroke-width="0.7" />
<line x1="421.6" y1="103.8" x2="423.8" y2="103.8" stroke="#444" stroke-width="0.7" />
<line x1="421.6" y1="122.3" x2="423.8" y2="122.3" stroke="#444" stroke-width="0.7" />
<line x1="421.6" y1="140.8" x2="423.8" y2="140.8" stroke="#444" stroke-width="0.7" />
<line x1="421.6" y1="149.3" x2="423.8" y2="149.3" stroke="#444" stroke-width="0.7" />
<line x1="428.8" y1="154.4" x2="428.8" y2="156.6" stroke="#444" stroke-width="0.7" />
<line x1="433.3" y1="154.4" x2="433.3" y2="156.6" stroke="#444" stroke-width="0.7" />
<line x1="451.3" y1="154.4" x2="451.3" y2="156.6" stroke="#444" stroke-width="0.7" />
<line x1="469.8" y1="154.4" x2="469.8" y2="156.6" stroke="#444" stroke-width="0.7" />
<line x1="488.3" y1="154.4" x2="488.3" y2="156.6" stroke="#444" stroke-width="0.7" />
<line x1="421.6" y1="168.5" x2="423.8" y2="168.5" stroke="#444" stroke-width="0.7" />
<line x1="421.6" y1="187.0" x2="423.8" y2="187.0" stroke="#444" stroke-width="0.7" />
<line x1="421.6" y1="205.5" x2="423.8" y2="205.5" stroke="#444" stroke-width="0.7" />
<line x1="421.6" y1="224.0" x2="423.8" y2="224.0" stroke="#444" stroke-width="0.7" />
<line x1="421.6" y1="232.5" x2="423.8" y2="232.5" stroke="#444" stroke-width="0.7" />
<line x1="428.8" y1="236.7" x2="428.8" y2="238.89999999999998" stroke="#444" stroke-width="0.7" />
<line x1="433.3" y1="236.7" x2="433.3" y2="238.89999999999998" stroke="#444" stroke-width="0.7" />
<line x1="451.3" y1="236.7" x2="451.3" y2="238.89999999999998" stroke="#444" stroke-width="0.7" />
<line x1="469.8" y1="236.7" x2="469.8" y2="238.89999999999998" stroke="#444" stroke-width="0.7" />
<line x1="488.3" y1="236.7" x2="488.3" y2="238.89999999999998" stroke="#444" stroke-width="0.7" />
</svg>
</body></html>
